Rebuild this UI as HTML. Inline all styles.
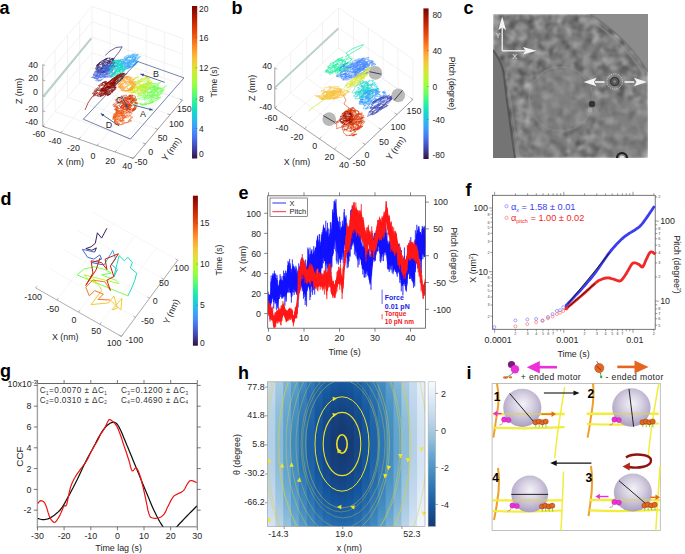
<!DOCTYPE html>
<html><head><meta charset="utf-8"><style>
html,body{margin:0;padding:0;background:#fff;}
svg{display:block;font-family:"Liberation Sans",sans-serif;}
</style></head><body>
<svg width="685" height="554" viewBox="0 0 685 554" fill="#262626">
<text x="-0.5" y="13.8" font-size="18" font-weight="bold" fill="#000">a</text>
<path d="M60.9 132.7L110.1 74.4M110.1 74.4L110.1 12.7M79 139.1L128.2 80.8M128.2 80.8L128.2 19.1M97 145.6L146.2 87.3M146.2 87.3L146.2 25.6M115.1 152L164.3 93.7M164.3 93.7L164.3 32M133.2 158.4L182.4 100.1M182.4 100.1L182.4 38.4M55.1 111.7L145.5 143.8M55.1 111.7L55.1 50M67.4 97.2L157.8 129.2M67.4 97.2L67.4 35.5M79.7 82.6L170.1 114.7M79.7 82.6L79.7 20.9M92 68L182.4 100.1M92 68L92 6.3M42.8 126.3L92 68M92 68L182.4 100.1M42.8 110.9L92 52.6M92 52.6L182.4 84.7M42.8 95.4L92 37.1M92 37.1L182.4 69.2M42.8 80L92 21.7M92 21.7L182.4 53.8M42.8 64.6L92 6.3M92 6.3L182.4 38.4" stroke="#e4e4e4" stroke-width="0.5" fill="none"/>
<line x1="42.8" y1="126.3" x2="42.8" y2="64.6" stroke="#666" stroke-width="0.6"/>
<line x1="42.8" y1="126.3" x2="45.3" y2="127.2" stroke="#666" stroke-width="0.5"/>
<line x1="42.8" y1="110.9" x2="45.3" y2="111.8" stroke="#666" stroke-width="0.5"/>
<line x1="42.8" y1="95.4" x2="45.3" y2="96.3" stroke="#666" stroke-width="0.5"/>
<line x1="42.8" y1="80" x2="45.3" y2="80.9" stroke="#666" stroke-width="0.5"/>
<line x1="42.8" y1="64.6" x2="45.3" y2="65.5" stroke="#666" stroke-width="0.5"/>
<line x1="42.8" y1="126.3" x2="133.2" y2="158.4" stroke="#666" stroke-width="0.6"/>
<line x1="133.2" y1="158.4" x2="182.4" y2="100.1" stroke="#666" stroke-width="0.6"/>
<line x1="42.8" y1="126.3" x2="44.4" y2="124.4" stroke="#666" stroke-width="0.5"/>
<line x1="60.9" y1="132.7" x2="62.5" y2="130.8" stroke="#666" stroke-width="0.5"/>
<line x1="79" y1="139.1" x2="80.6" y2="137.2" stroke="#666" stroke-width="0.5"/>
<line x1="97" y1="145.6" x2="98.6" y2="143.7" stroke="#666" stroke-width="0.5"/>
<line x1="115.1" y1="152" x2="116.7" y2="150.1" stroke="#666" stroke-width="0.5"/>
<line x1="133.2" y1="158.4" x2="134.8" y2="156.5" stroke="#666" stroke-width="0.5"/>
<line x1="133.2" y1="158.4" x2="130.6" y2="157.5" stroke="#666" stroke-width="0.5"/>
<line x1="145.5" y1="143.8" x2="142.9" y2="142.9" stroke="#666" stroke-width="0.5"/>
<line x1="157.8" y1="129.2" x2="155.2" y2="128.3" stroke="#666" stroke-width="0.5"/>
<line x1="170.1" y1="114.7" x2="167.5" y2="113.8" stroke="#666" stroke-width="0.5"/>
<line x1="182.4" y1="100.1" x2="179.8" y2="99.2" stroke="#666" stroke-width="0.5"/>
<text x="38" y="67.6" font-size="8.9" text-anchor="end">40</text>
<text x="38" y="80.7" font-size="8.9" text-anchor="end">20</text>
<text x="38" y="94.6" font-size="8.9" text-anchor="end">0</text>
<text x="38" y="111.9" font-size="8.9" text-anchor="end">-20</text>
<text x="38" y="124.6" font-size="8.9" text-anchor="end">-40</text>
<text x="18.8" y="94.2" font-size="8.9" text-anchor="middle" transform="rotate(-90 18.8 91)">Z (nm)</text>
<text x="38.8" y="137.3" font-size="8.9" text-anchor="middle">-60</text>
<text x="54.9" y="144" font-size="8.9" text-anchor="middle">-40</text>
<text x="73.4" y="151.2" font-size="8.9" text-anchor="middle">-20</text>
<text x="93" y="159" font-size="8.9" text-anchor="middle">0</text>
<text x="110.3" y="164.2" font-size="8.9" text-anchor="middle">20</text>
<text x="127.2" y="169.1" font-size="8.9" text-anchor="middle">40</text>
<text x="70.6" y="164.9" font-size="8.9" text-anchor="middle">X (nm)</text>
<text x="140.9" y="164.7" font-size="8.9" text-anchor="middle">-50</text>
<text x="150.6" y="155.2" font-size="8.9" text-anchor="middle">0</text>
<text x="162.6" y="140.6" font-size="8.9" text-anchor="middle">50</text>
<text x="176.3" y="126.7" font-size="8.9" text-anchor="middle">100</text>
<text x="184.3" y="112" font-size="8.9" text-anchor="middle">150</text>
<text x="171.3" y="152.4" font-size="8.9" text-anchor="middle" transform="rotate(-55 171.3 149.2)">Y (nm)</text>
<path d="M43.2,95.8 L90.6,38.2 L91.6,39 L43.9,97.2 Z" fill="#c3d7d4" stroke="#9cbcb7" stroke-width="0.55"/>
<polyline points="105.2,55.4 110,51 116,47.5 122.2,46.8 119,52 115,57 112.5,61.1" fill="none" stroke="#38276d" stroke-width="0.7"/>
<polyline points="105.9,68.1 106.8,69 102.8,71.7 101.5,71.1 97.7,71.7 102.4,67.6 105.4,65.4 105,65.7 107,64.6 112.3,62.4 114.3,61.3 113,62.4 114,63.6 112.5,66.1 109.5,68.7 109,69.8 106.1,70.9 101.7,72.3 102.1,70.3 99.9,69.5 103.1,66 101.9,64.9 105.4,61.9 105.1,62.6 110.3,61.9 108.8,63.1 113.7,62 110.2,65.2 108.7,67 110.8,67.4 105.4,68.4 106,66.5 101.3,69.3 101.8,67.8 100,67 97.9,67.1 97.9,66.8 98.4,67.4 95.6,70 97.5,69.8 96.6,71.6 100.6,71.3 100.8,71.9 105.5,70.3 108.3,68.7 104.7,71.8 107,71.1 103,73 104.5,72 102,71.8 98,72.4 98.8,70.5 96.5,69.9 98.6,67.2 96.1,67.1 99.4,64.2 96.3,65.7 100.1,63.3 100.7,62.2 101.3,61.3 105.7,59 105.6,59.3 110.1,57.7 109,59 110.5,59.1 113.6,58.6 112.1,60 114.1,59.1 110.6,59.2 113.1,58.1 110.6,59.6 114.2,58.8 112.3,60.8 115.9,60.3 112.2,63.1 115.7,62.6 111.7,65.5 110.6,67 109.4,68.4 109.1,69 105.1,70.8 106.2,71.2 102.9,72.9 105.6,71.7 104,72.5 104.2,72.1 100.1,72.7 100.9,70.5 101.4,68.2 106.2,64.7 107.5,62.8 107.1,62.1 111.5,60.9 113.5,60.7 112.7,62.1 110.5,64.7 112.5,65.4 109,68.1 106.9,69.9 107.7,70.1 102.5,71.9 102.2,71.6 98.6,73.2 99.9,71.5 97,71.2 101.7,67.6 102.4,66.1 103.8,65.8 107.7,65.5 105.8,68.2 110,66.1 111,66 113.4,64.7 113.2,65.6 112.1,67.3 106.6,69.1 106.3,69.5 102.5,72.3 104.3,70.6 100.2,70.8 104,66.8 103.2,65.6 103.1,64 105.1,61.7 102.7,61.3 105,59.6 106.9,58.5 107.5,58.3 104.1,59.7 103.7,60.3 104.7,59.6 106.5,58.6 105.7,60 107.5,58.3 105.6,59.8 101.8,61 99,62.8 99.9,63.1 96.8,64.9 99.7,63.4 96.7,65.6 99.1,64.5 96.3,67 95.4,68.6 97.7,68.6 98.6,70.2 98.1,71.8 102.1,71 102.8,71 108.2,68.3 107.7,67.7 111.5,63.6 108,63.9 110.7,61 107.5,62.3 102.9,65.7 103.4,66.8 100.4,69.4 106,67.8 107,68.4 108.9,68.9 108.2,69 112.8,66.1 112.5,64.2 111.7,63.9 115.3,62.2 113.2,63.4 114,61.2 109.5,61.5 109.1,60.9 104,64.1 102.3,63.9 103.5,63 100.9,63 101,62.1 98.7,63.4 99.3,64.8 96.8,68.2 101,67.8 106.3,65.1 108.1,63.7 107.1,63.2 110,60.3 105.4,60.9 101.8,62.4 102.5,63.2 97.8,66.1 100.5,66.9 98,69.5 100.1,69.8 99.7,71.2 98.8,72.4 104.7,70.5 102,72.5 104.3,72.1 102.6,73.1 105.3,71.7 99.5,73.6 102.7,69 103.9,68.5 108.5,67 110.6,66.1 109.7,66.1 111.5,64.9 114,64.6 110.9,66.9 112.4,67 110,68.6 111.5,67.8 109,69.3 109.6,69.6 104.4,70.8 105.9,68.4 101.2,68.5 104.7,64.8 100.3,64.9 104.5,61.5 105.3,61.4 110.4,59.6 110.8,61.5 105,66.1" fill="none" stroke="#38276d" stroke-width="0.55" stroke-linejoin="round"/>
<polyline points="105.5,71.4 110.5,68.9 109.5,68.7 113.6,67 108.4,67.7 106.7,67.8 106.2,67.2 100.4,69.9 101.2,70.4 97.3,73 98.4,73.9 95.6,76.4 101.8,75.3 102,75 107.6,72.9 106.2,71.9 105.4,70.8 109.1,69.1 104.3,69.9 108.7,67.2 106.2,67.3 109.3,65.6 104.8,66.9 101.4,67.5 104.6,66.3 100.5,68 101,68.3 95.5,71.5 94,73.5 93.3,75.3 97.4,75.4 98.4,76 101.1,76.9 100.6,78.2 107.3,74.2 105.3,73.4 107.5,70.8 104.2,71 106.5,69.6 109.5,67.5 107.9,67 111.2,64.9 106.6,66 106.3,67 102.3,70.5 100.6,72.7 100.9,74 98.8,76.1 99.7,75.7 98.1,78.1 104.2,76.4 105.9,77 104.4,77.4 110.2,74.7 109.1,73.3 112.8,70.4 109.9,69.8 112.2,68 111.3,67.4 108.2,67.7 106.7,67.7 102.4,71.5 104.9,72.6 106.2,73.4 108,74.1 106.5,75.3 111.6,72.4 110,71.1 113,68.6 108.3,69.3 108.6,67.8 104.5,68.3 105,68.6 100.5,69.7 101.1,70.7 96.2,72.8 97.2,74 95.7,76.5 99.1,76.9 105.9,74.1 106,73.7 109.6,70.9 109.2,69.6 106,69.5 101.9,70.9 102.1,71.8 96.8,73.4 99.1,72.9 97.4,74.1 96,75.1 91.4,77.5 94.4,77.6 95.4,78.4 97.4,78.5 97.4,79.8 100.2,80.1 103,78.9 103.3,77.8 105.7,76.6 106.5,77.4 112,76.6 109.6,77.2 111.6,74.7 115,72.7 112.7,74.5 116,72.3 113.9,72.3 117.2,70.7 115.5,70.7 117.5,69 113.6,68.5 117,66.1 111.2,67.5 111.4,66.3 108.3,66.3 110.2,64.8 106.7,65.8 105.2,66.1 101.9,67.4 103,67 102.6,67.1 107.1,65.8 106.9,65.8 110,64.9 110.9,65.5 114.6,65.1 113.3,66.5 114.4,67.6 108.5,70.8 104.6,72.2 107,70.2 101.6,70.9 102.5,69.7 96.9,72.5 97.5,72.4 97.7,71.5 95,71.8 94.3,72.1 96.8,71.7 93.7,74.7 98.9,74.7 101.7,74.6 104.5,74.4 103.8,75.6 107.3,74.3 108.5,73.7 108.8,72.3 113.4,69.6 110.7,69.3 111.6,68.5 114.4,66.1 112.7,66.8 116.9,65.6 112.9,66 113.5,65 106.7,67.1 107.8,65.9 108,65.4 107,65.9 111.3,66.1 111,66.3 114.8,65.7 116.8,65.9 114,66.6 111.3,66.2 107.4,67.4 106,68.7 101.8,71.6 103,71.8 98.9,74.5 102.7,74.8 102.2,75.8 103.2,77 107.8,76.1 107.6,76.5 112.8,74.8 115.5,73.6 111.7,72.6 112.8,70.5 105.3,72.6 102.6,73.2 102.7,73.4 96.9,76.6 98.2,76.4 93.1,77.6 97.3,77.6 96.9,78.3 99.9,77.5 100.8,77.3 105.9,74.5 109.2,72.5 108.6,71.5 109.3,69.8 104.1,70.7 103.6,70.6 98.8,72.4 101,73.3 101.5,73.5 107.3,71.9 107.1,71.3 110.9,69.2 107.6,69.2 111.4,66.6 107.5,66.8 109.8,65 104.4,66.6 101.6,67.4 101,68.1 96.2,71.5 96.7,72.5 93.2,75.1 98,75 94.9,77.1 94.3,78.6 98.4,78.4 95.7,80.2 96.3,81.1 99.2,80.3 98.2,81 101.6,80.1 99.7,81.1" fill="none" stroke="#4666dd" stroke-width="0.55" stroke-linejoin="round"/>
<polyline points="129.4,56.5 133.3,54.4 131.8,55.2 137.2,54.8 137.2,56.3 133.7,59.6 136.3,60.1 129.5,63.2 129.4,62.4 123.9,63 125.2,62.4 121.6,64.7 122.3,64.6 119.4,64.4 122.5,61.6 119.6,61 124.4,58.8 124.4,58.3 126.1,58.9 128.1,57.3 134.1,55.2 132.4,57.5 132.3,58.9 129.2,61.4 131.7,62.1 129,64.1 126,66.4 125.8,65.6 121.5,66.5 119.8,65.9 124.8,62.8 124,61.5 124.7,60.2 122.2,60.1 122.3,59.1 122.4,59.1 116.9,61.3 116.7,62.2 116.2,63.1 118.4,63.6 117,65.7 118,66.3 115,66.6 119,63.7 116.5,63.6 119.2,61.6 116.9,61.7 117.6,61 120.7,59.5 119.4,60.6 115.1,63.4 121.2,63 122.5,64.1 123.2,65 127.6,62.6 126.8,64.4 128.4,65.5 128.8,65.5 130.5,65.2 135.6,63.2 137.3,62.2 135.2,61.4 138.4,58.7 136.7,58.8 140.6,56.7 135,57.6 133.1,58.5 129,61.5 129.6,62.1 124.2,65 129.1,64.4 127.3,66.4 132.5,64.8 131.2,64.6 133.6,62 131.8,61 135,58.5 136,58.5 134.8,60.4 132.9,60.8 127.4,63.5 126.5,62.9 120.6,65.1 124.7,62.2 120.8,62.8 123.3,60.5 122.8,60.1 127,57.7 129.2,56.8 129.3,57.1 134.8,56.4 135.5,58 133,60.7 133.7,62 138.7,61.3 135.2,63.6 136.4,64.1 132.9,66.3 130.1,67.8 129.7,66.7 125.5,66.4 129.2,63.1 127.5,62 132.3,59.9 130.7,62.2 134.7,61.1 133.5,62.3 137.3,61.7 133.4,64.6 135.5,64.6 131.7,66.8 131.4,66.5 129.1,67.5 123.4,69.9 125.8,67.1 123.9,65.9 125.4,63.8 125.6,62.8 128.6,61.2 129.9,60.6 134.7,58.8 133.2,60.8 137.5,60.2 135.3,62.2 137.6,62.6 132.6,65.5 133.9,66 128.1,67.6 129.6,67.7 124.2,69.9 125,69.5 122.5,69.1 122.6,67 122,65.4 119.8,64.8 121.3,63 122.7,61.7 128.1,60 131.3,60.5 127.3,63.4 130.6,63.2 129.5,64.3 128.6,65.9 126.5,67.5 130.9,66.8 129,68 128.7,68.1 125.6,68.9 123.1,69.8 119.5,70.6 121.3,68.6 121.2,66.3 123,64 123.6,62.4 124.7,62.4 127.9,60.3 124.8,60 126.8,58.6 128.9,57.6 133.3,57 131.8,58.4 133.3,59.4 134.9,60.1 130,63.4 131.4,63.8 127.1,66.6 130.6,66.4 125,67 126,66.8 120.5,67.7 121.9,66.1 119.5,65.6 124.6,62.3 123,61.4 127.4,58.9 125.8,58.5 128.9,56.7 123.8,57.6 125.8,56.3 129.3,54.9 129.1,56 132.5,54.2 135.3,53.8 133.1,56.5 135.8,57.8 135.8,59 133.2,61.4 133.3,62.3 129.5,64.9 125.3,66.1 125.2,66.7 120.4,67.7 123,65 120.9,64.7 123.7,61.8 120.8,61.8 120.3,61.1 121.5,61.1 116.4,64.4 119.5,64.5 116.4,67.2 120.1,67.4 117.6,69.3 119.7,69.3 120.3,69.9 123.9,68.1 129.7,66.1 127.7,64.5 128.9,62.8 128,61.6 129.5,59.5 124.9,59.8 128.4,57.4 131.1,57 129.7,58 133,57.5 137.8,55.5 138.4,54.5 135.1,55.4 135.4,55.5 137.6,54.4" fill="none" stroke="#37a8fa" stroke-width="0.55" stroke-linejoin="round"/>
<polyline points="118.7,68.1 119.9,67.6 116.8,66.3 121.9,63.1 122.7,64.9 121.4,67.7 123.1,70.6 121.4,73.8 122.6,75.5 120,78.5 121.3,79.1 118.5,81.1 120.2,81 117.5,81.9 118.9,80.9 115.4,81.8 116.3,80 115.8,77.6 114.3,74.9 110.8,73.2 109.8,72.6 111.9,69.9 109.2,68.2 112.1,68.1 109.2,72.1 113.4,72.7 110.3,75.7 113.3,73.9 113.1,75.8 111.5,76.1 113.2,75.1 110.9,76.8 112.7,79.2 118.2,77.7 115.9,77.5 117.3,75.6 121.6,73.2 117.8,71.1 120.3,67.7 117.2,65.7 121.4,64.6 120.5,66.4 123.8,68.5 124.3,71.1 118.4,71.7 118.7,70.1 115.3,68.7 115.7,66.2 120.8,64.6 119,65.9 120.5,65.6 123.4,63.8 120.5,66 124.5,66.3 125.1,69 122.1,72.6 123.6,74.1 118.8,73.5 119.6,71.8 115.2,71.5 116,69.1 111.6,68.9 113,66.5 111.4,65 113.4,62.4 113.8,63.7 115.2,64.9 117.9,67.3 115.4,71.5 118.5,73.6 116.3,76.7 118.7,78.1 114.7,79.3 115.5,77.9 114.5,77.4 111.2,76.3 112.8,73.3 113,72.5 109.7,72.7 113,68.4 111.8,67.8 109.3,67.4 112.6,64.6 111.3,64.3 116.3,65.3 118.8,67 115.7,71.1 114.9,73.7 118.1,74.2 113.8,76.1 111.9,76.7 114.3,73.2 115.1,69.9 113.4,69.5 114.7,70.5 119.9,69.4 118.7,72.1 121.3,69.3 118.2,67.9 120.1,64.7 117.7,62.9 115.3,62.2 118.5,59.7 114.1,61.5 116.4,60 115.3,60.7 119.2,60.1 117.1,61.6 121.8,61.6 120.2,64.6 122.4,68 118.5,71.5 121.4,72.8 121.5,74.6 118.3,77.6 119.8,78.2 119.6,75 115,72.7 117.5,69.4 117.2,66.9 117,64.9 115.6,63.6 113.2,62.7 116.1,60.1 116.3,60 114.5,60.9 112.5,61.6 112.8,61.5 115.6,60.4 112.3,62.1 115.2,60.4 118.6,61.6 115.8,62.6 116.6,61.3 120.8,60.6 118.2,63.2 123.2,63.7 119.7,68.3 122.9,70.3 118.1,71.4 118.4,69.7 117.5,68.2 115.4,67.9 113,66.8 116.5,63.4 115.1,62.9 118.2,61 119.5,61.6 118.1,64 121.7,64.5 119.9,64.3 123.4,65.3 120.6,67 124.8,69 124.4,71 122.2,71.7 123.2,73.6 120.8,76.7 123.5,77.6 120.1,80.5 118.1,81.3 116.6,77.9 118.6,73.6 116.6,72 120.7,69.7 118.8,68.8 123,68.3 124.1,69.9 121.9,72.5 124.8,74.6 122.2,77.1 124.4,77.8 121.2,80 122.2,79.6 117.1,80.6 117.8,75.9 113.7,74.4 117.2,69.9" fill="none" stroke="#18dec0" stroke-width="0.55" stroke-linejoin="round"/>
<polyline points="141.1,91.4 141.3,90.7 144.8,88.4 144,87.8 147.5,86.1 142,86.9 143.4,86.2 138.8,87.1 141,86.3 141.5,85.8 147.1,84.3 145.7,83.8 148.6,82.6 143.3,84.4 141.6,85.8 142.4,88.5 141.8,91.2 146.3,92.2 148.4,93.1 149.6,92.9 153.8,90.9 154.8,89.9 159.4,87.7 157.2,87.3 159.2,84.7 156.9,84.6 160.8,82.3 155.1,83.9 155.6,82.9 153.6,83.6 148.1,85.3 145.8,86.3 146.4,85.4 141.6,89.4 143.4,91.3 138.4,94.3 141.1,95.9 137.9,98.3 138.4,98.7 133.7,100.6 136.9,99.4 135.1,99.1 131.3,101 134.8,99.8 134.1,99.3 131.9,99.8 134.2,99.5 131.5,99.9 130.6,99.9 133.6,100 131.7,101.8 133.9,102.6 136.9,102.2 134.3,104.3 138.6,103.5 136.6,104.4 141.4,103.3 140.6,104.6 146.4,103.1 146.1,102.5 147.8,100.9 153.6,96.9 151.2,96.7 147.4,96.9 142.4,98.1 143.6,96.7 138.7,98.9 141.1,99 141.8,99.9 149,98.4 150.2,97.1 153.5,95.7 152.3,93.9 157.1,91.2 153.9,90.2 155.5,88.8 157.9,86.7 157.9,84.7 152.8,85.3 154.4,83.5 149.4,83.9 150.5,83.4 146.8,83.3 149.2,82.5 145.4,83.4 146.9,83.2 142.6,84.7 144.7,86 142,89.7 147.2,90.9 144.2,94.2 145,95.8 152.2,95.1 152.1,94.8 154.9,94.4 154,92.4 157.8,89.6 153.3,88.8 154.6,86.5 153,86.5 156.6,85.1 155.1,87.4 155.8,89.4 155.3,92.6 154.8,93.8 149.2,95.6 150.6,93.2 151.1,92.8 155,90.5 154.5,89.1 158.6,88.5 158.4,89.2 162.5,88.5 162.9,89.9 160,91.7 162.2,91.7 159,94.4 159.7,95.1 152.9,97.8 155.6,98.3 154.3,99 160.4,97.6 158.3,98.7 158.3,99.5 153.7,101.1 152,101.8 157,100.6 156.9,98.7 158.1,96.7 161.9,93.2 157.3,92.8 162.3,89.7 160.2,88.4 162.7,87.9 165.8,86.3 166.6,85.5 164.6,86.8 164.2,88.8 163,91.1 161.7,91.8 163.4,91.5 162.5,91.4 163.4,88.9 158.7,88.3 158.9,87.9 152.9,87.6 154.7,86.3 148.8,88.8 146.6,91.8 149.8,93.3 153.3,92.4 152,91.9 152.8,89.4 155.6,86.5 149.2,88.5 150.3,87.9 148.8,87.3 144.4,87.8 146.7,87.5 143.6,87.8 142,87.4 141.9,87.6 143.4,86.7 142.4,86.4 149.7,85.2 150.5,85.6 155.7,85.5 153.6,87.4 159.1,87.6 154.3,90.5 155.5,92.3 150.9,95.3 152.1,96 146.3,98 143.7,98.1 143.7,96.5 143.3,93.6 144.2,91.9 143.9,90.6 149,89 152.9,86.8 155.3,87.2 155.4,88.2 159,88.4 156.2,91.8 158.2,92.9 154,95.2 154.5,95.5 149.3,95.1 148,93.5 151.6,91 150.4,89.7 155.6,88.4 154.9,90.3 160.1,88.5 157.6,89.7 161.3,90.6 158.5,92.9 155.3,95.2 153.3,95.5 149.4,95.3 146.6,95.8 147.7,93.8 146.7,92.1 153.2,91.3 151,93 153.9,93.9 150.1,96.8 154.7,97.3 150.7,99.7 153.1,99.9 151.5,101.4 151.6,102.6 148.2,103.9 149,103.7 144.3,104.6 146.8,104.2 141.8,105.1 144.5,104.4 143.2,104.5 139.8,104 142.6,104.4 141.9,105.1 146.7,104.3 150.4,101.3 151.7,99.2 150.7,97.3 155.2,94.6 153.2,92.9 155.3,89.6 153.2,89 148.8,89.7 148.3,89.5 143.6,92.9 145.3,93.7 145.4,95.7 144.2,97.3 147.6,97 148.9,97 152,96.2 158.1,94.9 156.4,95.7 162.4,93.4 161.1,92.4 163,90.3 160.2,89.8 160.6,87.7 153.2,89.1 152.6,91.2 147.7,92.6 148,93.8 145.1,97.1 144.7,98.5 146.7,99.4 146.6,99.1 151.3,97.7 151.4,97.1 159,94.2 155.7,97.1 158.7,96.7 156,98.4 160.6,97 155.3,99 155.2,99.3 149.5,101.2 151.2,101.5 149.8,102.9 153.9,101.6 151,102.3 153.6,102.3 149.4,103.6 150.1,103 151.9,102.8 146.7,103.7 144.7,103.9 145.5,101.9 144,98.7 145.7,97.2 150.1,93.8 149.9,92.9 151.3,90.7 154.8,88.1 154.7,86.5 150,87.3 151.7,85.8 149.4,87.1 143.9,89.7 145.9,90.7 144.8,93.2 146,94.6 141.8,96.1 141.8,95.2 137.1,96.4 139.9,94 141.8,92.7 146.4,90.8 148.3,89.3 152.7,86.9 151.4,87.3 157.9,86.4 157.9,88.6 155.6,90.9 159.4,92.1 156.7,93.9 157.1,94.8 156.7,95.8" fill="none" stroke="#79fe59" stroke-width="0.55" stroke-linejoin="round"/>
<polyline points="142.4,89.9 139.5,91.3 141.4,92.1 137.7,94.1 140.1,93.5 137.4,92.4 137.1,90.8 133.9,89.4 136.9,87.1 138.1,85.8 139.7,86 144.5,85.7 146.6,85.7 147.9,84.5 148.6,83.4 149.6,84.1 148,84.4 151.8,83.2 146.9,82.1 148.2,81.7 152.7,82.1 149.2,83.1 149.2,84.2 151.4,85.3 144.5,88.1 146.1,88.8 139.8,90 139.6,88.6 137,89 135.4,88.2 131.9,88 133.8,86.5 131.2,85.5 135.2,83 136.5,81.2 136.6,81.8 142.3,81.4 141.2,81.8 144.8,79.8 145.9,78.2 147.3,77.3 145.9,78 148.2,76.7 144.6,77 148.4,76.4 145.9,77.7 148.3,76.7 145.3,77.5 147.6,77 146.8,78.6 148.5,80.6 148.9,82.1 147.7,84.4 144.4,86.9 145.1,87.3 137.6,89.2 141.7,89.7 137.4,92.3 138.3,93.4 136,94.3 136,93.3 132.7,91.9 134,90.4 130.9,89.2 132.5,88 129,89.4 130.2,90.7 134.3,91.3 140.7,88.9 137.4,87.8 142,84.8 138.7,83.9 139.6,82.2 135.6,81.9 135.1,82 131.2,82.8 133,83 132.8,84.2 131.9,86.2 129.5,88.5 130.6,89.6 132.7,90.4 135,91.5 131.7,92.9 133.2,92.8 127.9,92.4 129.9,90 130.3,88.5 136.3,86 135.5,84.4 136.6,82.4 141.3,80.2 140.4,80 144.7,79.5 144.6,80 148.4,80.5 146.9,81.6 150.9,80.6 148.9,79.6 149,78.6 143.6,79.2 140.3,80.7 140,82.1 135.5,85.3 137.9,87.1 141.9,87.7 141.8,89.5 140.5,91.1 145.6,90.3 143.3,92 144.4,92.5 141.5,94.2 145.8,92.7 145,90.7 149,87.8 146.4,86.4 143.1,86.3 142.6,86.5 139.1,86.7 135.4,87.1 136.5,86.8 133.7,89.6 135,90.6 137.7,91.2 138.8,92.4 137.9,93.7 139.5,93.7 142,94.2 141,94.5 143.6,92.7 147.8,91.4 145.6,90.3 147.5,87.1 144.2,85.3 143.3,84.5 139,86 138.5,85.9 133.6,87.8 134.6,87.3 130.6,89.3 131.8,89.6 129.9,92.1 133.4,91.9 136.5,92 138.8,89.8 137.4,88.1 141.1,84.8 138.4,84.1 137.6,82.8 140.7,80.7 137.6,80.5 142.8,78.7 140.8,78.8 143.3,78.4 147.5,77 146.9,78.2 149.7,78 147.9,80.8 149.5,82.5 146.2,84.8 145.3,84.8 139.3,87.4 141.4,87.5 136,90.1 137.9,90.3 133.3,92.2 135.8,92.4 131.1,93.1 134.5,89.8 130.2,89 130.2,87.4 133.2,84.6 130.8,83.7 131,83.5 128.4,84.9 130.3,85 127.4,84.6 128.7,82.7 132.2,81.2 129.5,81.6 134.9,79.5 133,78.9 137.8,77.3 136.6,77.4 139,76.8 134.6,78 135.9,78 131.5,80.2 131.1,83 136,84.2 132.9,87.3 138,87.6 137.5,88.8 140.4,87.8 144.8,85.2 142.7,84.1 145.4,81.2 138.8,82.9 138.9,82.9 134,84.2 132.6,85.7 133.6,85.9 129.3,88.1 132.9,88.7 135.3,88.2 140.1,88.3 140.3,89.6 140.2,90.7 141,90.4 147.5,87.4 147.7,88.4 145.6,89.4 150,87.8 148,86.7 149.8,84.5 147.4,83.9 151.8,81.9 149.9,82.8 151.9,83.3 151.2,85.3 148.1,87.6" fill="none" stroke="#cbed34" stroke-width="0.55" stroke-linejoin="round"/>
<polyline points="125.7,82.9 129.7,80.3 126.8,79.1 128.9,76.9 124.9,77.4 129.6,76.7 129.5,77.8 132.3,80.1 129.9,83.4 131.1,84.1 126.6,86.7 123.7,86.8 122.2,86.7 123.4,84.3 122,82.8 124.8,80.3 121.8,80.1 123.8,78.4 126.6,76.9 124.7,77.5 128.2,76.5 124,77.6 127.8,76.6 126,77.3 130.9,77 129,80.1 132.5,82 130.9,84.6 131.7,85.9 130.9,87.7 127.8,90.2 131,90.1 129,90.6 128.9,90.7 131.3,90 132.9,88.7 131.1,87 132,86.3 136.4,84.6 133.3,84 135.8,81.7 129.6,81.5 129.8,82 125.3,84.4 128.3,85.7 123.8,88 125.3,88.4 121,90.2 125.8,90.5 125.1,91.4 129.5,90.6 131.7,89.6 129.6,88.5 132.1,85.6 130.4,83.3 125.8,83.1 124.1,82 127.3,79.2 126.2,78.3 128.8,76.6 125.8,77.5 127.3,77.2 123.3,80 125.7,81.7 121.8,84.5 122.9,86.2 123.3,88 127.7,87.8 127.3,89.2 130.1,88.3 134.5,86.9 132.6,86.4 132.8,83.8 129.5,82.4 131.2,79.9 126.4,79.4 127.7,77.1 123,79.9 123.9,80.6 119.6,82.8 118.5,84 121.4,84.3 118.4,87 122.3,87.4 118.4,87.4 121.2,85.2 119.4,83.3 121.3,81.1 119.4,80.4 123.6,78.1 121.8,78.6 123.1,78.4 120.5,79.6 119.6,80.2 122.6,80.2 122.1,80.9 118.2,84.8 121.2,84.8 119,86.6 122,86.3 120,88.8 124.5,88.7 123,90.8 128.4,90.6 128.8,90.7 127.8,91 133,89.1 130.2,89.9 132.7,89.2 129.5,90.2 129.5,90.4 129.7,90.3 124.9,91 125.6,90.7 122.2,90.9 123.9,89.4 121,90.2 123.4,87.3 120.6,85.8 121.8,83.6 118.1,83.9 117.8,85.8 122,86.8 119.8,88.3 122.2,88.2 119.4,87.9 118.7,86.5 123.8,83.6 125.8,82.1 124.7,81.7 130.5,81.2 128.8,82.4 133.9,82.6 132.6,83.7 135.3,84 135.1,85.6 132.7,86.8 134.2,87.5 131.1,89.1 131.4,88.6 126.2,90.7 130.9,90.2 129.1,90.6 130.7,89.4 130.8,88.8 134.5,86.4 135.5,84.4 132.9,84 132.5,82.1 134,79.3 128.6,78.7 132.3,77.4 129.5,78.6" fill="none" stroke="#fea431" stroke-width="0.55" stroke-linejoin="round"/>
<polyline points="122.3,105.5 124.9,106.6 125.9,108.2 129.7,107.9 128.1,106.9 130.2,105 132.3,106 128.4,108.8 131.7,108.7 126.9,110.4 127.6,107.9 125.4,106 128.6,104.3 127.9,105.8 130.1,106.6 128.5,108.3 129.2,109.2 125.7,110.9 126.6,110.3 122.7,109.2 124.4,105.7 122.7,104.1 123.8,101.8 125,101.4 128.9,98.6 127.1,98.5 132.5,100.2 129.7,103.4 128.7,106.7 130.7,107.4 126.2,110 128.5,108.4 123.8,109.1 120.4,107.4 122.9,104.3 121.9,102.3 124.3,100.7 120.9,99.8 121.2,97.9 123.9,96.4 125.7,98.1 126.1,100.2 128.7,102.1 125.6,105.2 128.5,106.7 127.1,109 126.8,109.2 121.7,108.7 124,107.6 119.4,106.4 119.6,104.9 116.3,106.6 117.8,107 114.2,109.5 118.3,109 116.1,110.7 118.6,110.4 115.2,110.4 118.4,107.6 114.6,107.1 116.5,104.9 112.7,104.9 117.4,101.6 114.9,100.1 119.3,98.6 119,97.7 123.9,95.4 126.8,95.1 125.1,97.9 128.5,100.1 126.3,103.3 129.5,104.2 124.1,105.4 124.4,104.6 123.8,103.6 118.5,103.6 116.6,103 120,100.4 119.3,99.2 125.3,97.4 124.3,98.1 128.8,98.2 130.6,98.4 129.5,99.1 132.8,98.4 134.5,100.6 132.7,102 136,102.7 134.6,103.3 137.7,102.7 135.4,104 137.2,103.5 135.2,102.7 136.3,99.9 130.5,99.7 131,98.6 126.2,97.7 130.4,95.9 128.5,97.5 131.1,95.2 128.8,95.4 132.9,95.1 129.9,97.6 129.6,99.9 131.1,101.7 132.9,102.7 128.4,105.6 126.1,105.6 124.7,102.9 124.8,100.8 129.9,99.1 129.1,98.6 132.8,97.8 132.4,101 129.8,103.5 128.4,102.1 124.8,103.8 123.7,106.6 128.2,107.3 126.4,107.9 127.2,108.4 132.2,105.3 129.7,104.6 128.3,101.9 127.7,101.4 125.5,102.4 123.1,104.6 124.6,106.4 122.5,108.8 125,109.8 125.4,109.2 126.5,105.8 122.9,103.8 124.4,104.4 120.7,106.9 122.1,107.4 118.5,109.2 118.8,108.6 115.6,109.4 117.5,106.9 113.4,106.3 118.8,102.5 121.3,100.9 121.1,100.1 125.7,99.5 124.3,101.9 127.3,103.6 125.8,104.6 130.5,105.1 126.2,107 128,107.9 126.5,109.9 130.8,109.7 129,109.9 133.3,108.4 135.7,107.8 132.6,109.5 135.6,108.9 136.5,107.9 134.1,107.4 134.7,106.1 137.2,106 136.7,106.9 134.4,109.2 128.4,111.7 130.8,112 129,113.2 132.9,111.3 134.2,110.2 132.5,110.4 132.5,109.8 136,108.9 132.6,109.8 134,110.4 134.4,110.5 131.8,111 135.3,109.5 133.2,109.2 135.4,105.8 132.4,103.5 131.1,101.6 126.2,101 126.4,101.9 122.5,102.9 123.6,103.7 121.3,107.1 126.1,106.6 126,106.7 131,105.5 127.7,104.4 132.1,101.2 129.8,99.7 131,97.3 129,96.8 133.1,95.6 130.9,98.2 134.9,98.7 132.9,100.9 136.6,100.4 135.7,98.1 131.3,97.3 129.7,96.1 126.9,98.3 126.6,99.3 122.2,101.7 124.4,103.2 123.4,104.8 120.2,107.4 126.4,106.6 124.7,106.9 130.4,105.1 131.8,103.3 130.3,102.8 134.7,100.8 132.4,100.5 133.3,99.5 135.8,97.3 135.1,95.9 130.1,96 130.3,95.1 124.4,98.2 125.7,98.5 120.1,101.4 122.8,101.6 120.3,104.3 122.2,105.8 119.9,108.2 121,109.9 123.2,110.4 119.1,111.5 122,112.5 119,113.8 121.3,112.3 119.6,113.4 123.9,113.2 126.6,113 125.7,113.5 130.5,110.2" fill="none" stroke="#d83706" stroke-width="0.55" stroke-linejoin="round"/>
<polyline points="120.3,116.6 118.2,116.7 120.1,115.5 115.2,116.9 117.6,114.5 113.7,115.5 113.1,115.2 115.8,114.4 114.3,114.5 117,113.1 115.6,112.6 118.9,111 118.6,111.1 124.1,111.5 122.7,114.6 125.4,117.1 122.4,120.2 123.5,120.7 118,120.1 116.9,118.3 118.3,117.6 114.9,117.5 117.6,114.6 116.5,113.7 121.8,112.8 120.6,115.4 126.3,116 121.8,119.5 124.3,120.4 121.1,121 116.5,122.8 119.9,123.6 116.6,124.6 115.2,124.1 117.9,121.4 114,121 116.7,119.4 113,119.1 115.4,117.6 115.3,116.8 113.1,116.3 114,115.1 117,113 118.5,113 123.9,112.9 121.2,116.1 124.7,117.2 126.5,117 125.7,116.1 129.8,114.7 129.6,116.3 131.6,117.7 128.4,120.7 130.6,120.7 129.2,122.1 124.7,122.8 124.9,122.1 120.5,121.3 120.1,118.4 119.9,116.2 122.8,114.1 120.9,113.3 124.4,111.2 123.7,111.6 128.4,113.1 126.5,115.1 128.9,116.8 122.1,118.5 123.1,116.1 119.2,115.3 115.8,115.7 118.9,112.5 116.5,111.9 118.3,111.7 116.2,111.8 116.9,111.2 122.4,110.6 120.3,113.8 122.5,115.8 124.1,117.1 122,118.1 116.8,119.5 117.9,119.2 119.1,116.6 114.7,116.4 115.8,115.6 113,117.6 116.1,118.9 115.6,119.5 113.1,117.6 117.7,114.8 119,114 119.5,114.9 125.1,115 124.9,117.6 121.3,120.5 120.5,121.8 123.3,122.8 122.4,124.2 120,124.6 117,124.8 116.3,124.7 118.1,123.2 114.8,122.9 116.2,121.3 114.4,121.6 115.7,120.7 115.4,120 114,120.6 116.9,121 114.4,123 115.7,124.2 119,124.1 116.3,124.5 120.4,124.7 123.6,124 122.9,123.9 128.3,122.2 128,121.3 131.7,121.1 129.5,119.7 132.8,117.3 130.1,115.7 132.2,113.1 127.8,112.2 128.6,111 123,112.1 123.5,111.7 117.9,113.1 119.1,113.1 117.4,114.3 115.5,117.6 117.1,119.8 121.7,120.8 119.6,119.7 122.4,116.8 125.1,114.4 120.9,113.4 123.6,111.2 123.7,109.7 118.6,110.7 119.6,111.1 115.7,112.6 117,112.9 116.4,114.2 117.1,113.6 117.6,111.9 118.9,111.2 115.6,111.9 118,112.1 113.5,114.1 115.9,114.4 113.8,117.3 115.8,118.2 112.7,117.1 115.9,115.8 113.2,117.5 115.1,116.9 112.2,119 116,119.5 113.8,122.3" fill="none" stroke="#f05b12" stroke-width="0.55" stroke-linejoin="round"/>
<polyline points="111.5,82.4 112.8,80.8 119,77.1 117.4,76.6 121.7,74.2 124.5,73.4 123.9,74 124,74.6 127,73.5 124.5,76 122.3,77.8 122.3,79.2 117.9,82.1 116,84.5 111.9,87.3 112.2,87.3 109.4,87.5 110.2,86 112.7,83.9 114.2,81.4 117.3,79 112.4,80.8 111.1,81.1 116.7,77.6 117.9,75.8 120.6,74 116.3,75.9 117.5,75.3 110.6,80 110.9,81.3 109.9,81.4 104.9,84.1 107,83.6 101.7,87.9 100.5,89.5 101.7,90.1 103.5,90 101.5,91.3 104,90.2 102,89.4 104.2,88.5 99.9,90.7 104.6,86.9 104.4,85.4 110.3,81.2 111.7,79.3 115.1,77.6 120.3,74.9 121,73.9 124.4,73.1 124.2,73.6 122.3,76.2 120.2,78.3 122.9,78 122.1,78.1 124.4,76.3 123.7,75.4 122.6,76.2 118.7,77.4 121.7,75.2 117.3,77.4 118,77.1 113,80.3 115.5,80.3 112.1,83.4 114.8,82.8 110.9,85.7 113.9,84.8 109.7,87.6 109.2,88.2 104.9,90.9 106.6,89.3 105.6,88.2 110.4,85.2 112.4,82.7 117.1,78.7 119.2,78.6 117.5,80.5 114,83.1 116.1,82.1 114.5,82.7 109,84.9 109.9,83.8 111.2,82.7 106.7,85.1 109.1,83 109,82.3 105.6,84.3 106.9,84.6 106.1,85.2 104.2,85.7 107.7,83.3 108.8,81.9 114.9,78.4 115.6,77.6 116.9,76.4 120.9,73.7 119.5,74.8 123.7,74 117.3,78.8 118.1,79.2 117.2,80.8 114.5,83.2 113.4,85.1 108.7,87.2 111.4,84.9 110.4,84.1 115.6,80.2 110.7,82.5 111.2,83.2 107.1,85.9 105.4,87.6 106.6,87.9 104.9,89.3 105.7,89.7 103,91.4 106.7,90.3 108.9,87.6 114.4,83.2 111.7,83.6 116.6,79.7 114.5,79.4 116.9,77 114.4,78.1 115.2,78 110.4,81.2 111,81.5 107.9,82.5 109.1,81.4 112.6,79.1 116.8,77.1 118.3,75.9 124,73.1 121.5,75.7 121.7,77 122.2,78.1 116.5,81.7 117.7,82.1 111.6,85.6 112.2,85 111.9,83.7 115.7,80.8 115.3,80 110.5,83.2 109.7,84.1 106.6,86.7 108.9,86.2 104.4,89.8 106.2,88.9 106.2,88.5 104.3,89.6 103.8,89 102.8,88.1 102.9,88.3 103.2,88.5 109.6,86.3 107.9,87.8 111,86.7 111.7,86.8 107.7,89.5 109,89.2 109.4,88.6 113.3,87.2 113.3,86.3 120.3,81 120.8,79.1 124.1,76.1 121.1,76.9 120.7,76 121.3,75.7 115.2,80.2 114.9,81.6 110,85.4 109.6,86.7 112.4,86 112.6,85.9 114.2,84.8 118,82.8" fill="none" stroke="#920b01" stroke-width="0.55" stroke-linejoin="round"/>
<polyline points="103.3,90.7 101.2,89.7 104.4,88.3 108.6,87.2 107.1,87.2 110.1,87.3 110.3,88.3 115.1,86.7 113.7,87.3 115.6,86 113,87.1 115.8,87.8 116.3,87.9 113.9,88.1 116.2,87.3 111.1,90.5 111.4,91.5 107.6,93.5 106.3,92.2 101,92.9 101.6,92.6 102.3,93.6 99.8,95.5 103.1,95.4 102.8,94.8 107.1,91.8 106.1,90.4 105.8,88.8 102,89 102.4,88.3 96.9,89.5 95.4,91 96.5,91 95.9,93.2 100.6,92.9 99.1,95 104.6,93.5 105.5,93 106.1,93.5 110.2,92 108.3,90.6 107,89.3 109.7,86.3 106.7,85.5 107,84.6 102.8,88.2 101,90.6 106.2,90.2 105.3,91.2 110.4,88.7 109.4,88.5 109.8,86.6 106.1,86.7 105.1,86.7 105.7,88.7 103.3,91.3 105.6,92 104.4,93.7 108.2,92.6 105.1,94.5 108.3,94.4 106.9,95.2 110.6,94.1 106.8,95.5 109.9,94.4 107.7,95.1 110.8,93.8 110.1,93.4 112.7,92.1 111.8,91.4 115.7,89.3 111.8,90.4 116.1,87.6 113.5,86 111.9,85.3 115.9,83.1 113.7,83.2 111.5,83.3 113.8,82.9 115.1,83.9 113.6,85.4 112,87.6 111.7,89.5 105.8,92.1 104.5,93.3 104.7,93.7 98.5,93.8 101.7,90.6 102,90 107.3,87.4 104.6,87.6 109.5,87.1 107.2,89.7 107.2,90.9 103.2,93.7 103.7,93.3 100,96.1 101.1,96.8 100.4,96.8 106.3,94 104.3,92.2 105.4,89.9 101,90.1 103.7,87.2 104.8,85.6 101.5,85.7 103.1,84.1 101.6,84.3 100.6,84 103.4,82.6 102.4,82.8 106.1,81.6 102.7,82.7 102.5,82.8 106.7,81.4 105.2,82.4 107.9,82.6 111,83.6 112.8,84.2 112.1,84.1 115,82.8 113,83.9 114.7,82.3 110.9,82.8 111,81.9 105,84 105.4,83.7 100,85.9 99.7,87.7 95.7,90.3 99.5,90.3 100,91.1 102.5,91.9 100.2,94.4 98.8,94.9 99.3,94.8 93.2,96 95.6,94 92.1,93.4 97.3,90.6 100.7,90 99.8,91.8 105,91.2 107.5,91.1 106.2,92.2 111.3,90.6 111.2,91.4 114.6,89.8 114.4,90.2 111.4,91.4 113.3,91.6 109.4,93.8 109.6,93.2 102.5,95 99.1,96.5 96.9,95.9 98.3,95.2 97.2,93.7 93.4,94.4 95.7,92.2 94,91.7 94.6,89.8 98.7,86.9 100.1,85.7 98.4,85.5 102.5,83.3 103,82.5 103.9,82.2 105,81.9 104.3,83.3 109.5,83.3 112.3,83.3 111.3,84.3 114.2,83.2 114.5,83.5 115.1,84.4 114.1,85.9 116.3,85.6" fill="none" stroke="#8b0902" stroke-width="0.55" stroke-linejoin="round"/>
<polyline points="98,92 92,97 88,103 85,110" fill="none" stroke="#8b0902" stroke-width="0.7"/>
<path d="M83.3,119.2 L137.7,61.5 L184,77.9 L130.4,139.1 Z" fill="none" stroke="#3b4f86" stroke-width="0.7"/>
<line x1="164.5" y1="82.3" x2="140.4" y2="73.9" stroke="#2f4a7e" stroke-width="0.8"/>
<path d="M140.4,73.9L144.2,73.7L143.2,76.4Z" fill="#2f4a7e"/>
<text x="156" y="76.7" font-size="8.9" text-anchor="middle">B</text>
<line x1="132.6" y1="104.8" x2="152.8" y2="110.1" stroke="#2f4a7e" stroke-width="0.8"/>
<path d="M152.8,110.1L149.1,110.6L149.8,107.9Z" fill="#2f4a7e"/>
<text x="143" y="116.7" font-size="8.9" text-anchor="middle">A</text>
<line x1="121.6" y1="95.7" x2="127.5" y2="107.5" stroke="#2f4a7e" stroke-width="0.8"/>
<path d="M127.5,107.5L124.7,105L127.2,103.7Z" fill="#2f4a7e"/>
<text x="119.2" y="103.2" font-size="8.9" text-anchor="middle">C</text>
<line x1="119.2" y1="126" x2="100.7" y2="113.5" stroke="#2f4a7e" stroke-width="0.8"/>
<path d="M100.7,113.5L104.4,114.3L102.8,116.6Z" fill="#2f4a7e"/>
<text x="109" y="128.2" font-size="8.9" text-anchor="middle">D</text>
<linearGradient id="cba" x1="0" y1="0" x2="0" y2="1"><stop offset="0%" stop-color="#7a0403"/><stop offset="4.3%" stop-color="#9e1001"/><stop offset="8.7%" stop-color="#bc2002"/><stop offset="13%" stop-color="#d43305"/><stop offset="17.4%" stop-color="#e7490c"/><stop offset="21.7%" stop-color="#f46617"/><stop offset="26.1%" stop-color="#fc8725"/><stop offset="30.4%" stop-color="#fea732"/><stop offset="34.8%" stop-color="#f6c33a"/><stop offset="39.1%" stop-color="#e5d938"/><stop offset="43.5%" stop-color="#cdec34"/><stop offset="47.8%" stop-color="#b1f936"/><stop offset="52.2%" stop-color="#92ff47"/><stop offset="56.5%" stop-color="#69fd66"/><stop offset="60.9%" stop-color="#3ff68a"/><stop offset="65.2%" stop-color="#20eaac"/><stop offset="69.6%" stop-color="#18d7ca"/><stop offset="73.9%" stop-color="#25c0e7"/><stop offset="78.3%" stop-color="#38a5fb"/><stop offset="82.6%" stop-color="#458afc"/><stop offset="87%" stop-color="#476ee6"/><stop offset="91.3%" stop-color="#4451bf"/><stop offset="95.7%" stop-color="#3c3286"/><stop offset="100%" stop-color="#30123b"/></linearGradient>
<rect x="192" y="6" width="5.2" height="152.5" fill="url(#cba)"/>
<line x1="195.7" y1="9.2" x2="197.2" y2="9.2" stroke="#555" stroke-width="0.5"/>
<text x="199" y="12.3" font-size="8.5">20</text>
<line x1="195.7" y1="37.4" x2="197.2" y2="37.4" stroke="#555" stroke-width="0.5"/>
<text x="199" y="40.5" font-size="8.5">16</text>
<line x1="195.7" y1="67.9" x2="197.2" y2="67.9" stroke="#555" stroke-width="0.5"/>
<text x="199" y="71" font-size="8.5">12</text>
<line x1="195.7" y1="99" x2="197.2" y2="99" stroke="#555" stroke-width="0.5"/>
<text x="199" y="102.1" font-size="8.5">8</text>
<line x1="195.7" y1="128.5" x2="197.2" y2="128.5" stroke="#555" stroke-width="0.5"/>
<text x="199" y="131.6" font-size="8.5">4</text>
<line x1="195.7" y1="153.6" x2="197.2" y2="153.6" stroke="#555" stroke-width="0.5"/>
<text x="199" y="156.7" font-size="8.5">0</text>
<text x="213.5" y="85.1" font-size="8.5" text-anchor="middle" transform="rotate(-90 213.5 82)">Time (s)</text>
<text x="231.5" y="13.5" font-size="18" font-weight="bold" fill="#000">b</text>
<path d="M289.7 118.3L353.4 58.3M353.4 58.3L353.4 18M304.6 128.6L368.3 68.6M368.3 68.6L368.3 28.3M319.4 138.9L383.1 78.9M383.1 78.9L383.1 38.6M334.3 149.2L398 89.2M398 89.2L398 48.9M349.2 159.5L412.9 99.5M412.9 99.5L412.9 59.2M290.7 93L365.1 144.5M290.7 93L290.7 52.7M306.7 78L381.1 129.5M306.7 78L306.7 37.7M322.6 63L397 114.5M322.6 63L322.6 22.7M338.5 48L412.9 99.5M338.5 48L338.5 7.7M274.8 108L338.5 48M338.5 48L412.9 99.5M274.8 87.8L338.5 27.9M338.5 27.9L412.9 79.3M274.8 67.7L338.5 7.7M338.5 7.7L412.9 59.2" stroke="#e4e4e4" stroke-width="0.5" fill="none"/>
<line x1="274.8" y1="108" x2="274.8" y2="67.7" stroke="#666" stroke-width="0.6"/>
<line x1="274.8" y1="108" x2="349.2" y2="159.5" stroke="#666" stroke-width="0.6"/>
<line x1="349.2" y1="159.5" x2="412.9" y2="99.5" stroke="#666" stroke-width="0.6"/>
<line x1="274.8" y1="108" x2="277.3" y2="109.5" stroke="#666" stroke-width="0.5"/>
<line x1="274.8" y1="87.8" x2="277.3" y2="89.3" stroke="#666" stroke-width="0.5"/>
<line x1="274.8" y1="67.7" x2="277.3" y2="69.2" stroke="#666" stroke-width="0.5"/>
<line x1="274.8" y1="108" x2="276.8" y2="106.1" stroke="#666" stroke-width="0.5"/>
<line x1="289.7" y1="118.3" x2="291.7" y2="116.4" stroke="#666" stroke-width="0.5"/>
<line x1="304.6" y1="128.6" x2="306.6" y2="126.7" stroke="#666" stroke-width="0.5"/>
<line x1="319.4" y1="138.9" x2="321.4" y2="137" stroke="#666" stroke-width="0.5"/>
<line x1="334.3" y1="149.2" x2="336.3" y2="147.3" stroke="#666" stroke-width="0.5"/>
<line x1="349.2" y1="159.5" x2="351.2" y2="157.6" stroke="#666" stroke-width="0.5"/>
<line x1="349.2" y1="159.5" x2="346.8" y2="157.9" stroke="#666" stroke-width="0.5"/>
<line x1="365.1" y1="144.5" x2="362.7" y2="142.9" stroke="#666" stroke-width="0.5"/>
<line x1="381.1" y1="129.5" x2="378.7" y2="127.9" stroke="#666" stroke-width="0.5"/>
<line x1="397" y1="114.5" x2="394.6" y2="112.9" stroke="#666" stroke-width="0.5"/>
<line x1="412.9" y1="99.5" x2="410.5" y2="97.9" stroke="#666" stroke-width="0.5"/>
<text x="272" y="68.8" font-size="8.9" text-anchor="end">40</text>
<text x="272" y="90.4" font-size="8.9" text-anchor="end">0</text>
<text x="272" y="109.9" font-size="8.9" text-anchor="end">-40</text>
<text x="251.6" y="91.1" font-size="8.9" text-anchor="middle" transform="rotate(-90 251.6 87.9)">Z (nm)</text>
<text x="271" y="121.4" font-size="8.9" text-anchor="middle">-60</text>
<text x="282" y="130.7" font-size="8.9" text-anchor="middle">-40</text>
<text x="297" y="140.2" font-size="8.9" text-anchor="middle">-20</text>
<text x="314.8" y="148.9" font-size="8.9" text-anchor="middle">0</text>
<text x="329.4" y="159.5" font-size="8.9" text-anchor="middle">20</text>
<text x="344" y="167.6" font-size="8.9" text-anchor="middle">40</text>
<text x="297" y="165.2" font-size="8.9" text-anchor="middle">X (nm)</text>
<text x="359" y="166" font-size="8.9" text-anchor="middle">-50</text>
<text x="367" y="158.2" font-size="8.9" text-anchor="middle">0</text>
<text x="384" y="144.6" font-size="8.9" text-anchor="middle">50</text>
<text x="398" y="130" font-size="8.9" text-anchor="middle">100</text>
<text x="414" y="113.7" font-size="8.9" text-anchor="middle">150</text>
<text x="395.5" y="151.4" font-size="8.9" text-anchor="middle" transform="rotate(-55 395.5 148.2)">Y (nm)</text>
<path d="M275.2,86.6 L337.6,28.2 L338.5,29.2 L275.5,87.8 Z" fill="#c3d7d4" stroke="#9cbcb7" stroke-width="0.55"/>
<polyline points="352,60 346,53 352,49 358,46.5 363.5,44.5 361,47.5 355,51 349,54.5 345,57" fill="none" stroke="#27eea4" stroke-width="0.7"/>
<polyline points="340.1,67.6 337.2,67.2 334.3,67.3 335.9,65.8 331.8,66.5 334.2,63.9 333.2,63.7 336.2,61.2 337.8,60 338.1,60.8 343.2,60.5 342,62.8 345.6,63.2 340,66.9 340.3,67.1 333.6,69.9 336.8,70.5 338,71.4 342.4,70.2 341.8,69.4 346.7,67.6 344.5,67.5 343.2,65.9 343,65.3 340.1,67.4 335.5,69.3 336.2,69.1 335.7,70.7 332.2,73.1 333.1,73.1 329,74.5 331,72.6 327.5,72.9 329.2,71.2 325.9,71.3 324.8,72.2 328.3,70.2 325.6,70.6 329.4,67.8 328.5,66.6 329.8,65.3 332.4,63.5 336.2,61 335.6,60.9 337.8,59 340.4,58.3 338.1,59.4 342.8,56.9 341.2,59.7 345.2,60.4 345.8,62.5 345.4,64 348.9,62.5 347.5,62.4 350.9,60.6 350.5,60.4 352.3,59.2 350.9,58.4 346.2,59.7 347.5,58.3 349.1,56.7 342.1,61 343.2,60 340.3,60.6 338.3,62.1 334.3,65.6 335.4,66.6 330.2,68.3 334.1,65.6 333.5,65.8 338,63.6 336.4,63 338.8,60.8 338.4,60.8 342.6,59.9 342.8,61.1 345.7,61.1 344.5,63.7 348.1,63.3 345.7,66.6 348.2,66.8 342.3,69.7 341.1,69.1 337,70.1 336.8,69.8 336.2,68.6 335,67.4 332.4,66.9 333.4,65.1 336.7,64.3 339.1,64.5 342.7,64.5 336.6,66.9 336.6,66.6 333.1,67.6 330.7,68.6 332.4,69.5 331.8,70.9 329.6,72.9 335.3,70.7 336.5,70.2 340.2,70.3 340.3,71.6 342.7,71.7 341.5,72.9 346.8,69.5 345.3,71 349.3,68.5 346.9,69.5 350.8,66.7 349,67.8 347.7,68.2 343.5,69 339,68.8 342.4,65.8 342.3,65.7 346.7,63.9 345.4,64.3 351.5,61.9 349.5,64.1 353,63.3 349.8,65.6 352.2,65.3 350,66.9 349.1,68 349.1,68.9 343.9,71.2 341,71.6 341.8,72.2 337.4,74.8 336.9,74.1 334.6,72.5 339.5,68.4 337.6,70.3 343.9,67.6 342.6,69.5 338.1,71.8 337.5,73.1 336.7,71.7 334.6,71.2 338.5,67.5 337.5,67.7 343.2,65.3 344.7,65.9 344.8,65.8 348.1,64.7 348.2,65.5 347.2,67.6 347.6,68.2 345.3,69.6 340.6,72.7 337.6,73.5 337.7,71.9 337.3,69.5 340.7,68.7 339.4,71.1 342.6,68.7 344.9,65.9 345.1,64.2 344.6,63.1 346,61.2 342.9,61.7 341,60.9 341.4,59.2 337.5,60 339,58.9 334.6,61.3 333.3,62.3 330.2,63.3 331.1,63.6 327.4,66.9 330.5,68.2 330.5,69.8 333.1,70.7 331.6,72.5 332.5,72 328,72.9 328,71.7 329.7,69.2 328.5,68.6 332.9,65.5 334.5,65.5 337.8,64.2 339.2,65.6 338.2,68.1 341.9,67.7 336.2,70.9 334.1,70.9 335.2,70.3 335.3,71.3 329.9,72.4 330.9,70.8 325.8,72.5 328.3,70.3 325.2,71 328.8,68 329,66.6 333.5,63.6 334.4,62.3 335.8,61.5 341.6,59.6 342.7,61.4 340.6,64.9 341.3,66.3 337.4,68.5 333.7,68.8 337,65.7 335.4,65.2 340.4,62.3 339.8,63.2 342.9,63.7 343.2,64.1" fill="none" stroke="#27eea4" stroke-width="0.55" stroke-linejoin="round"/>
<polyline points="351.8,70.1 359.5,68.7 358.8,68.7 360.4,67.9 366.2,64.1 359.2,65.4 359.1,65.6 356.2,65.4 359.7,63.1 356,63.3 357.4,61.6 356.3,61.7 360.8,60.5 363.4,58.4 359.9,59.4 364.2,57.9 362.4,59 369,57.3 367.2,59.5 369.5,59.8 368.3,61.1 371,60.4 372.4,60.5 370.9,63.1 374.6,63.2 371.1,65.1 373.4,64.8 371,66.3 371.6,67.2 365.8,69.9 363.9,71.7 362.7,73 359.5,74.5 361.2,74.5 357,76.6 358,76.2 355.7,77.2 358.8,76 354.4,77.6 354.3,76.9 349.1,77.5 348.7,76.6 345.5,76.7 347.1,74.2 343,74.2 346.1,71.8 343.4,71.2 345.7,69.7 343.6,68.9 346,66.6 342.9,66.6 345,65.3 343.3,65.1 344,65.1 342.6,65 348.1,62.6 343.1,65.3 344.5,66.6 339.7,67.6 344.4,65.6 341,67.7 339.3,70.6 342.9,71.2 348.6,70.6 349.3,71.7 353.2,71.9 354.5,71.8 358.4,68.3 356.5,66.8 357.9,65 354.6,65.7 357.8,63.5 356.2,62.8 359.8,60.4 358.8,60 359.5,58.5 352.5,61.3 352.1,63.1 345.9,67.3 348.6,67.3 347.5,69.4 346.9,71.4 351.1,71.8 351.6,72.7 356.5,72.6 356.3,73 362.3,70.7 363.2,70.4 364.3,68.5 365.7,65.9 359,68.6 360.1,69.2 352.8,71.7 354.5,71.3 356,72.1 355.2,73.7 361,71 361,70.5 364.6,67.9 363.7,66.6 366.7,63.1 365.7,61.5 364.7,61 359.3,62.6 360.2,61.6 359.9,60.8 363.2,59.2 358.8,60.6 356.8,63 352.6,66.2 355.3,66.6 352.8,70 356.4,69.4 358.5,67.7 364.2,65.8 362.7,66.8 368.1,64.7 364.8,65.1 368,62.8 364.1,62.9 365.6,61 362.9,60.8 362.8,60 358.7,61.6 352.3,64.6 353.9,64.8 349.9,68.5 350.8,69 345.7,72.7 346.9,73.7 344.4,74.8 347.4,74.8 345.9,76.7 352,75.5 349.6,77.1 352.2,77.4 351.4,78.5 346.2,80.2 346.7,79.7 343,80.1 343.3,78.4 345.7,75.3 342.4,74.8 346,73.4 343.4,74.3 340.3,74.9 341,73.7 336.1,75.9 339,75.8 336.5,76.6 341.5,77.1 341.4,78.7 345.8,77.7 348.5,76 352.9,74 358.5,70.6 358,69.3 364.2,66.8 363.7,67.4 367.4,67 363.6,66.2 365.2,64.4 361.6,64.3 361.3,64.2 357.5,65.2 357.4,64 352.7,65.7 354.3,65.8 348.4,67.7 349.2,67.1 346.5,67.1 349.3,65.4 352.8,63.7 356,62.2 358.8,62.6 364.6,59.8 363.3,61.4 364.4,61.9 364.7,64.1 361.1,67.7 358.3,68.6 355.4,68 355.9,67.1 351.4,67.9 351.6,67.5 348.3,68.1 350.2,67.4 349.5,65.9 351,65 356.2,62.9 357.1,63.2 361.3,62.2 361.5,62.8 362.7,63.9 368.2,61.7 363.4,62.4 363.7,61 366.6,58.9 359.7,61.1 359.5,63.4 357.2,66.2 356.7,68 358.3,69 358.5,70.5 362.6,69.3 362.6,69.4 365.8,66.4 363.8,66 357.3,66.7 356.8,66.7 349.9,70.6 353.1,68.1 349,67.5 351.8,65.3 351.9,64 355.4,61.1 359,60.2 358.8,61.9 363.2,62.6 360.8,64.7 359.6,67.2 358.3,69.1 358.4,68.7 354.9,67.8 358.3,64.4 358.4,65 361.9,63.6 364,63.8 362.4,65.8 364.4,67 360.6,69.9 359.4,70.6 352.9,72.4 353.7,70.7 352,69 354.7,66.3 355.7,65.2 353.4,65.4 356.6,63.5 358.4,62.5 358.2,62.6 357.7,63 363.1,62.2 363.1,63 367.6,61.1 370.4,61.8 371.6,62.2 367.5,65.4 369.9,65.4 362.8,69.6 362.4,69.3 358.1,69 359.8,67 361,65.4 360.9,63.9 362.6,63.8 365,63.8 367.4,63.3 365.6,65.3 365.3,66.4 364.2,68.5 362.2,69.6 355.2,72.1 354.8,70.2 353.4,68.3 358.7,66 360.3,64.8 362.5,64.5 367.5,63.1 366.2,65 370.5,64.1 367.6,66.6 370.5,67.5 367.9,69.9 368.3,71.7 364.2,73.6 367.7,72.7 365.7,72.9 368.4,72.5 363,74.5 361.3,73.2 353.5,75.5 357.3,71.4 358.3,69.9 359.2,69.5 364.3,69 363.3,70.1 367.1,69.3 365,70.7 362.6,72.8 358.2,74.3 360.7,70.6 359.8,69.7 365.3,67.7 367.3,66.1 367.3,64.4 369.8,63.1 369.3,63.2 373.4,61.5 371.7,60.8 369.6,63 373.3,61.9 371.7,63.2 374,64.2 376,64.1 372.1,67.3 372.1,68 374.5,68.4 372.3,69.3 371.4,70.7 371.5,70.8 366.7,73.3 361.3,75.8 359.1,75.1 354.9,76.4 356.4,74.1 348.7,76 349.8,74.6 349.7,73.8 348.7,72.9 347.2,72.7 343,74.7 345.7,73.5 340.5,75.8 341.6,74.8 339.4,75.5 340.8,76.1 342.6,76.6 346.9,77 348.7,77.5 349.1,77.6 354.7,76.8 355.2,76.8 357.7,74.4 364.1,71.8 362.9,70 362.2,68.5 355.2,69.3 355.8,70 350.7,72 347.4,74.1 347.4,75.1 349.1,73.7 345,75.2 346.4,76 345.2,78.5 348.3,78.1 342.5,79.9 346.4,76.9 342.7,77 340.8,77.1 342.8,76 340.2,76.2 342.6,72.7 340,73 344.3,69.3 346,68.4 348,67.4 355.4,65.9 354.5,67.9 357.8,68 357.9,70 359.8,71.4 357.6,72.9 354.4,72.3 359.9,68.9 359.7,67.8 365,65.2 362.9,66.7 364.7,67.7 361,70.1 358.7,72.6 355.3,74.9 356.6,74.8 350,77.2 348.7,78.6 349.2,77.1 348.7,74.8 350.5,73.5 358.1,70.6 354,73.1 356.7,73.2" fill="none" stroke="#4687fb" stroke-width="0.55" stroke-linejoin="round"/>
<polyline points="358.9,79.6 360.3,80 357.2,83.3 359.4,82.6 356,86.1 358.8,84.3 359.3,83.7 358.6,84.7 361,83.1 361.6,82.2 364,79.6 364.7,77.4 358.5,80.8 357.5,80.9 357.4,79.5 351.9,83.6 352.5,83.9 350.2,86.8 356.1,83.5 357.4,82.9 358.7,81 361.1,78.7 366.3,74.2 364.3,74.8 366.6,72 362.1,74.2 364,71.7 357.5,76.1 356.6,77.1 351.5,80.5 351.5,80.4 351.3,80.5 346.3,83.8 346.4,85.4 351.4,83.1 350.8,84.3 357.2,80 358,78.9 360.2,77.6 364.3,73.9 362.7,73.7 366.9,70.3 366,71 367.8,69.7 364.6,71.5 369.3,67.9 367,69.1 370.4,67.5 365.3,72.5 365.2,74.1 363.7,76.9 364.4,77.4 358.2,82.5 358,83 352.9,86.9 353,86.5 348.6,89.7 346.8,91.1 347.6,90.2 344.8,91.8 345.4,90.1 343.8,89.7 343.8,88.4 346.1,85.6 345.9,85 349.3,81.1 351.2,79.4 356.7,76.5 356.8,75.6 359.5,73 358.3,75.7 359.5,76.1 360.6,76.6 358.6,77.5 355,79.3 357.5,76.5 356.5,76.4 360,73.3 359.4,74.9 361.7,74.6 359.7,77 361.9,76.4 361,78.2 363.4,77 360.3,80.5 364.3,77.2 363.4,77.9 367.7,74.9 366.2,75.3 370.2,71.9 367.7,72.6 370,70.3 369,71.4 370.3,71.6 363.2,76.8 362.8,76.4 357.4,79 357.5,77.9 360.4,74.8 359.6,75.1 361.3,73.6 363.1,71.8 367.4,68.7 365.9,69.4 369.3,67.2 368,68.7 370.5,67.5 371.3,67.3 367.3,69.3 370.3,67.7 365.4,72.7 361.9,75.2 361.9,74.8 357.2,77.9 356.1,77.6 352.7,78.8 350.3,81.2 351.6,81.6 347.2,85 345,86.3 347.2,85.8 346.8,87.7 348.9,87.1 349.5,87.3 354.9,82.8 355.5,81.2 356.7,78.9 354.6,79.7 354.4,79.3 352.5,81.3 349.3,85 350.2,85.1 348.3,87.3 353.2,83.9 353,84.4 358.3,80.6 361.1,77.6 360.1,77.1 359.9,76.4 354.9,79.7 354.2,80.8 351.1,84.3 350.3,86.1 352.3,85.6 353.8,85 359.2,80.5 359.8,79.3 363.7,76.4 361.2,78.8 363.9,77.3 366.2,74.2 364.1,74.6 360.4,76.2 358.8,75.9 358.6,75 357.1,75.9 354.9,77.9 351.3,82 353,81.4 349.5,85.1 355.5,81.6" fill="none" stroke="#d7e535" stroke-width="0.55" stroke-linejoin="round"/>
<polyline points="335.9,91.7 331.2,93 333.2,94.1 333.4,94.5 338.2,92.4 336.1,91 332.1,90.8 329.4,92.6 329,93.7 325.7,95.2 331.4,95.1 330.1,95.8 330.5,95.8 326.7,96.5 327.1,95.8 325.7,96.4 321.6,97.6 327.9,97.6 324.1,98.6 324.6,99.1 321,99.3 322.7,98.7 321.8,98.5 321.7,99.6 327.8,98.8 327.8,98.7 333.5,97.8 332.6,98 339.3,97 334.8,98.6 338.4,97.8 339.9,97.3 342.5,97.2 341.4,96 340.3,93.6 340.9,91 341.9,89.2 338.4,88.4 334,88.9 334.5,89.6 333.7,90.5 329.9,93 331.5,94.3 329.1,95.8 332.5,95.6 337.2,93.6 332.3,93.3 332.5,92.7 326,92.9 327.5,92.9 325.2,94.9 328,95.8 326.9,97.2 333.9,94.4 332.3,94 336.9,91.7 333.4,90.7 331.1,90.7 330.9,90.6 326.3,92.7 327.6,94.3 326.7,95.3 322.5,96.9 326.1,97.1 323.2,96 327.7,93.7 328.6,92.6 333.8,91.2 333.8,90.7 340.5,89.2 338.9,90.2 341.4,91.1 338.3,92.7 337.2,93.9 335,93.3 329.9,93.1 333.6,91.5 334.1,91.2 340.1,90.6 339.7,91.8 338.7,92.5 333,93.6 331.1,94 327.3,93.7 326,92.4 328,90.8 330.1,89.9 329.2,88.9 335.5,88.8 336.5,89.3 337.4,89.9 342.2,90.1 339.2,91.9 340.1,92.5 340.5,93.8 338.1,95.3 336.8,95.8 333.9,95.7 330.9,96 332.5,96.4 329.8,97.3 330.4,96.9 325.6,97.8 326.8,98.7 321.7,99.6 320.8,99 323.1,98.5 319.2,98.5 321.8,96.1 318.2,95.8 320.3,96.2 316.7,97 316.3,96.2 315.2,95.6 318.7,95.8 318,97.2 322.3,97.2 320.6,98.6 325.2,98.7 327.2,98.9 328,99.7 328.8,99.5 330.2,99.1 330.4,99.2 337,96.8 331.9,95.8 334,93.6 330.1,92.6 330.9,91.4 327.7,91.9 323.5,91 324.8,91.4 322,93.3 329,91.8 330.1,92.4 337.1,91.5 335.9,91.9 342.3,90.9 340.3,91.6 344.3,91.2 343,92.5 344.8,93.3 345,93.9 340.7,95.4 346.1,94.9 343.9,95.4 344.9,94.1 346.5,93.3 349.5,91.8 346.6,90.8 348.8,91.6 344.7,93.7 339.8,94.7 339,94.9 331.5,95.5 332.3,95.4 331.3,96.3 329.9,96.6 326.9,98.2 330.6,98.6 329.3,98.9 335,98.3 333.3,99.3 334.2,99.4 333.5,99.5 333.4,98.3 339.7,95.7 337.1,94.8 341.2,92.2 335.1,91.6 334.9,91.1 332.5,92 328.8,94 329.5,94.5 325.2,96.6 327.8,96.8 326.5,97.6 332.3,97.2 331.8,97.9 338.5,96.7 339,95.1 343,92.9 337.7,91.9 342.2,90 341.7,89 337.6,88 339.2,86.7 335,86.5 331.5,87.1 328.7,87.2 331.1,86.7 325.1,87.5 324.4,89.4 320.8,91 326.1,91.3 324.3,93.4 322.6,94.5 324.7,95.3 324.4,95.2 320.9,95.1 324.1,92.5 326.3,91.7 327.8,90.3 329.6,89 331.6,87.6 331.1,87.6 336.5,87.8 337.7,89.7 333.5,92.3 335.7,93.2 331.9,94.9 329.6,95.4 329.4,94.6 326.2,94.9 323.4,96.3 326.9,96.8 327.2,97.4 331.4,97.1 331.5,96.5 334.5,95.3 338.8,93.1" fill="none" stroke="#f8be39" stroke-width="0.55" stroke-linejoin="round"/>
<polyline points="331,94 325,99 318,104 312,108 308.9,111.3" fill="none" stroke="#c3f134" stroke-width="0.8"/>
<polyline points="343,95 346,100 344,104 349,108 347,112" fill="none" stroke="#f56918" stroke-width="0.7"/>
<polyline points="365.8,92.4 368.5,93.2 363.9,95 363.5,95.2 359.4,97.5 361.6,95.6 356.5,95.7 360,93.4 358.2,92.4 363.8,91.4 362.2,91.5 365.5,90.3 370.2,90.4 369.4,93.1 370.5,94.4 368.8,96.9 374.3,95.4 370.9,94.3 374.2,90.4 370,89.1 368.2,89.3 364.9,92.3 368.6,93.5 366.7,96.5 367.7,97.2 362.4,97.6 363.5,96.3 361.7,96.4 359.2,98.7 361.5,98 357.7,98.6 355.4,99 355,97.4 357.5,96.3 353.4,96.1 358.8,91.9 358.3,91.5 364,90.2 365.9,90.3 366.6,91.2 370.4,91.7 367.5,94.7 367.5,93 366.5,91.6 363.7,90 363.8,87.8 367.6,85.4 369,85.8 368.1,85.8 370.9,84.9 371.6,85.8 376.3,83.9 373.9,86 377.9,86.1 374.4,88.9 377.7,90.1 375.7,90.8 377.9,88.8 376.1,87.7 378.4,88.3 374.6,89.5 379.1,88.6 375.5,90.4 379.2,89.8 375.7,91.9 375.9,92.7 370.8,93.7 370.9,90.8 366.6,89.8 368.9,87.1 363.9,87.9 364.8,86.3 367.9,83.2 363.6,83.3 360.5,83.9 362.6,85.8 357.3,87.8 359.6,88.7 356.3,91 357.3,92 355.1,93.9 360,94.7 359.3,97.1 364.2,96.5 362.8,98.4 368.8,94.3 367.8,94.3 372,91.2 368,90.7 369.8,88.5 365.3,88.7 361.8,89.5 362.8,89.3 359.6,91.3 358.8,94 363.6,94.5 362.7,95.1 364.3,95.7 367.6,97 365.5,98.5 370.7,98 369.6,99.1 367.7,100.8 367.9,101.8 369.3,101.4 364.6,103 366.1,102.2 363.3,103.1 366,102.2 362.2,102.9 362.8,99.7 361.3,96.5 364.6,93.4 366.2,91.3 366.5,90.7 370.6,90.1 368.9,92.7 368.4,93 362.9,94.3 363.8,93.2 359.9,93.9 360.7,92.1 357,93.7 358.5,91.5 354.5,92.4 356.5,91.8 353.3,93.4 351.9,92.3 354.5,89.1 354.8,87.7 354.8,86.5 360.8,83.4 361.1,82.4 359.3,82.3 362.7,80.4 363.1,82.4 367.2,82 368.3,85 366.8,87.2 363,90.3 365,91.9 361.3,93.1 361.4,91.5 358,91.4 360.5,88.6 363.4,86.3 361.5,85.6 364.1,85 368.5,84.8 368.8,85.4 372.9,83.9 371.3,85.6 372.6,84.7 375.4,82.9 371.8,82 373.6,80.3 368.4,81.1 369.5,80.9 364,84.8 364,87 360.7,90.3 364.9,91.1 364,90.7 369.2,88.1 367.2,87.8 368.5,85.1 367.1,84.6 369.2,82.9 365.1,83.4 367.2,81.4 362.5,82.4 364.3,81.7 359.4,85.3 364,87 363.3,89.5 368.4,89.7 367.8,91 372.4,89.6 369.3,88.8 371.9,86.6 370.2,86.3 372.9,83.4 371.2,84.2 371,83.9 366,86 365.7,85.7 361,86.9 363.2,87.4 360.3,90.9 361.2,92.8 361.4,95.1 362.5,95.8 367.3,96.6 368.8,96.8 367.5,97.9 370.4,97.1 371.4,97.7 369.9,97.9 369.9,98.6 373.3,96.7 372.9,96.5 372.9,93.9 371.9,92.5 373.2,90.5 373,87.8 367,88 367.4,87 364.8,90.6 366.2,92.2 370.7,92.8 369,95.3 371.5,95.1" fill="none" stroke="#19d5cd" stroke-width="0.55" stroke-linejoin="round"/>
<polyline points="369,100.1 368.2,100.3 368.7,102.2 364.2,102.1 367.1,99.2 363.6,99.1 362.1,99.8 363.8,99.4 363.5,99.5 360.2,99.5 362.9,99.1 359.9,99.9 362.2,99.4 359.7,101.6 362.6,101.4 359.1,103.5 359.6,104.5 366.7,103.2 367.3,104.1 371.2,102 371.8,102.3 377.2,99.3 374.5,97.6 377.5,95.1 375,93.9 376.8,92.1 372.6,92.5 373.6,91.5 371.9,91.5 367.4,94 369.1,93.2 368.1,96.6 367.5,99.4 370.6,100.9 371.4,102.2 376.3,101.7 375.2,101.9 378.5,98.9 378.2,99.8 381.8,99.5 380.3,100.5 381.7,99.1 384.3,97.2 382,97.2 386.2,94.1 383.4,93.6 385.7,92.3 382,92.6 384.6,91 382.5,92.1 385.3,92.5 383.7,94.1 383.6,94.9 383.4,96.3 386.3,96.1 381.2,96 380.5,94.8 376.8,93.5 380.4,91.7 376.5,92 376.4,90.5 371.6,91.2 372.4,90.5 366.6,92.5 365.1,94.5 366.9,95.4 365.2,98.5 369.8,98.5 366.7,101.4 372,101.4 367.3,104.4 369.5,104.9 366.8,107.2 368.4,107.2 365,108.4 368.7,108.1 365.9,109.3 363.3,108.5 364.8,105.2 362.1,103.6 364.1,101.1 360.4,101.1 359,101.8 363,102 359.5,103.5 363.2,101.9 359.1,102.2 362.2,100 361,98.5 363.3,96.8 360.9,97.2 361.1,96.3 365.5,93.5 367.5,92.2 365.5,91.7 367.9,91 364,92.6 363.5,93.5 363.1,93.9 365.5,92.9 363.9,93 366.2,92.4 363.4,93.3 368.4,91 368.6,91 373.2,89.4 374.7,90.1 377.1,91 377.4,93.4 377.4,94.1 379.6,92.2 375.9,91.6 375.2,91.3 372,92.5 373.4,93.4 368.3,94.9 370.2,94.6 365.5,96.3 369.1,97.9 368,100 371.7,99.9 370,101.5 374.9,98.7 374.2,97 377.1,94 375.1,93.6 378.7,91.1 374.9,91.1 376.9,89.6 373.1,90 373.3,89.4 368.4,91.4 369.8,92.5 366,97.1 370.1,98.3 370,99.9 373,100.3 373.9,101.8 373.5,101.6 376.2,101.1 379.3,99.9 378.3,99.8 380.4,96.6 375.7,96.3 375.5,94.5 371.3,97.6 372.4,98.9 376.2,98.9 373.6,101.9 375,102.6 379.3,100.7 377.8,100.7 383.6,98.5 383.5,97.4 381.8,96.4 386,95.6 386.3,96.6 383.9,97.5 387,95.6 382,98.9 381.2,100.1 377.8,102.7 378,102.3 374.8,103.2 369,104.1 370.7,103.7 367.9,105.3 369.5,106.6 371.3,107.2 370.1,108.5 374.5,106.9 374.7,106.2 378.9,104.1 377.8,102.9 382,99.3 380.3,99.1 380.7,97.4 380,95.2 378.8,94.5 376.6,93.4 372,96.5 373.2,96.6 367.7,100.2 368.8,100.9 364.9,102.8 367.5,103.5 364.5,105.4 366.2,105.9 362.9,104.6 366.1,101.7 364.1,100 366.4,98.1 365.3,97.3 370.7,95.9 371.7,95.7" fill="none" stroke="#3e9bfe" stroke-width="0.55" stroke-linejoin="round"/>
<polyline points="373.2,106.3 378.7,104 377.7,104.6 381.7,101.2 382.6,100.7 386,97.8 383,98.7 384.1,96.6 380.7,98.6 381.8,97.4 375.8,100.9 376.6,100.2 372.1,102.8 374.6,101.1 372.8,102.2 376.2,100 375.5,100.3 379.5,98.2 381.9,96.8 381.8,97.9 384.1,97.6 384.8,96.9 389.7,94.9 387.1,97 387.6,98.7 389.4,99.3 389.8,100.4 390.7,99.8 393.3,98 390.5,98.8 393.3,97.5 390.6,98.5 392.3,97.5 390.2,98.9 392.2,97.7 389.7,98.3 390.6,96.5 386.1,98.1 387.5,96.6 388.3,96.7 389.5,96.7 392,95.7 389.4,98.4 392.6,97.9 392.3,98.7 389.1,102.3 388.7,103.2 387.7,103.5 381.6,107.3 379.1,108.9 379.9,108.9 376.6,111.6 378,111.7 375.9,113.3 372,114.8 371.5,114.2 367.5,116.5 368.7,113.6 369.4,111.5 374.7,107.7 375.3,107.3 379.8,105.1 377.2,108.3 381.9,106.5 378.5,109.4 379.5,108.6 374.3,111.2 375.1,109.9 372,112.2 374,112.3 369.7,114.5 372.5,113.4 371.4,114.9 373.5,114.5 377.1,111.6 382.6,107.5 381.4,107.1 383.9,104.3 380.5,104.8 379.8,104.3 375.7,107.3 376,107.1 371.6,109.8 373.3,109.1 369.5,112.4 374.1,111.3 374.2,112.3 375.2,112.5 379.7,111 381.9,108.7 384.2,107.6 383.8,108.1 388.3,105.3 381.2,107.5 379.2,107.5 381.3,107.1 378.6,109.9 382,108.9 381.5,108.9 386.7,106.2 386.7,104.8 384.6,104.8 386.6,102.8 387.3,101.7 390.9,99.4 390.5,98.9 390,99.6 392.5,98 390.4,97.9 392.7,96 389.7,98.4 392,98.1 387.2,102.4 390.4,100.4 389,100.8 392.5,98.6 388.9,98.8 387.5,98.5 392.2,95.9 391.9,96.3 392.4,95.8 389.3,97.9 392.1,97.9 388.8,101 382.5,104.6 384.1,105.5 378.9,109.5 382.8,108.5 382.7,108.5 382.3,106.8 385.9,103.1 384.5,102.1 380,104 380.4,103.3 374.4,108.1 376.1,108.4 375.6,110.1 376.7,110 378.9,110 376.2,112.1 377.2,112 372.1,114.1 373,111.7 369,111.9 372.8,108.1 374.2,107 378.8,104.6 378,105.2 383.5,101 380,101.8 379.7,101.2 382.4,99.1 378.9,100.1 383.6,97 380.6,98.4 380.3,97.9 374.1,102.5 376.3,101.4 371.1,104.4 372.9,105 370.4,108.3 374,108.2 378,107.5 380.2,107.3 380.9,107.1 385.3,104.3 386.4,102.7 386.5,102.3 387,100.2 388.9,98.3 387,98 387.2,96.9 387,96.6 382.6,98.1 382.7,97.4 379.2,99.1 378.2,99.6 372.9,103.3 373.7,103.6 369.8,108.1 373.9,107.2 373.9,108.1 380.1,104.9 380.6,103.8 385.6,100.8 383,101.3 388.5,98.2 386.2,101.4 387,102.2 383,106.3 381.5,107.5 375.7,109.2 377.6,107.1 374.5,106.9 373.2,108.1" fill="none" stroke="#424bb5" stroke-width="0.55" stroke-linejoin="round"/>
<polyline points="351.7,125.2 353.7,126.5 349.6,128.2 351.9,128.5 349.9,131 350,131.2 355.3,129.8 354.1,131.4 354.2,131.5 359.3,128.9 357.5,129.7 358.7,125.6 356.2,123.6 358.8,119.7 357.4,117.1 356.3,117.6 356.8,116.7 360.4,117 359.2,119.5 361.9,117.8 362.9,118.4 361.2,118.3 360.6,119.7 361.5,122.8 355.9,125.4 355.9,124.4 349.9,124.2 350.1,121.3 347.1,119.7 352.4,117.4 349.2,117.4 352.3,114.6 349.8,113.3 351.2,111.9 350.9,110.9 348.8,111.5 350.7,110.6 347.8,109.3 353,107.5 351.3,109.9 355.7,111.4 354.2,110.8 359,111.4 358.2,114.1 362.1,113.9 362.1,112.7 359.5,114 363.9,115.5 362.5,117.4 364.4,117.6 361.4,117.9 362,115.2 357.5,114.7 359.3,112.9 356.3,114.5 356.1,119 350.7,122.2 353,124.1 350.1,126.9 353.7,127.5 349.9,131 351.7,131.5 346.4,130.6 348.1,127.1 342.9,126.2 344.9,123.7 343.4,121.8 348.2,118.1 348.4,118.4 350.2,116.4 345.2,116.9 345.1,117.3 342.8,117.1 346,113.8 342,113.5 345.1,111.6 347.3,110.2 344.8,111.4 347.3,111.5 352.7,110 349.5,109.2 353.6,107.3 354.2,109.5 358.1,110.8 359,113.3 354.5,116.8 355.2,119.9 349.4,119.1 349.6,116.3 351,114.2 349.2,112.9 354,113.5 353.2,114.8 354.5,118.2 351.4,119.2 349.3,120.4 343.5,120.1 345.3,116.5 343.6,115.5 348.9,114.3 350.4,113.7 348.6,112.5 352,110.4 350.3,110.1 348.2,111.5 346.6,115.3 345,119.8 349.3,120.7 349.2,121 352.2,121.6 351.7,121.9 356.5,121.6 355.1,121.8 359.5,122.4 357.5,125.3 358.8,126.9 355.2,128.6 358.1,129 353.1,129.7 356.5,128.6 353.1,129.9 355.9,131.6 351.1,134.1 355.3,134.4 351.7,135.7 354.7,135.6 354,134.5 357.1,134 352.9,135.5 353.7,135.1 349.2,135.3 350.5,135.5 345.8,135.3 346.5,135.2 343.2,132.5 344.8,128.2 341.2,126.6 345.5,122.8 346.5,121.2 353.1,119.7 350.8,122.8 353.5,124.1 348.4,126 348.9,124.2 343.5,124.6 345.5,121.9 346,121.7 350,120.6 349.8,122.3 354.8,122.3 354.9,120.9 356.5,121.9 350,124.3 349.9,123.1 345.8,122.3 345.7,122.5 344.5,124 342.3,125.6 342.9,126.7 342.3,130 347.1,129.3 344.2,129.9 349.5,128.3 350.7,127.9 354.6,123 350.7,121.8 354.2,119 350.7,118.5 345.2,120.6 347.3,119.6 341.4,122.3 344,121.7 338.6,121.2 341.8,119.4 337.1,121.3 338.5,122.4 335.4,123 338,121.7 333.3,121.3 336,120.8 332.1,122.5 336.8,123.8 336.6,126.4 337.1,127 336.4,128.7 344.6,126.2 344.2,125.6 348.9,125.7 347.7,128.2 349.2,124.6 355.9,123 357.3,122.2 355.8,123.6 356.5,125.3 360.4,126.1 357,128.3 360.2,127.9 358.3,128.2 362.3,126.8 359.7,127.4 363.1,126.1 360.6,126.6 360.3,124.8 363.3,121.9 363.1,119.2 357.8,117 357.5,115.4 351.5,116.1 353.2,114.8 351.9,113.2 348.8,111.8 351.2,110.3 350.5,109.3 352.6,108.3 354.6,108.6 355.8,111 352.2,110 350.6,110.2 347.9,110.4 348.7,110.8 343.7,112.9 346,116.6 347.6,118.5 350.1,119.1 350.8,120.4 351.8,120.8 357.9,119.3 356.2,118.5 358.2,116.5 358.6,114.8 354.7,113.2 355.7,111.9 350.8,112.4 351.4,110.3 350,110.1 354.6,111 353.5,111.4 356.8,113.5 355.7,116.8 351.4,119.2 350.4,119.5 346.3,121.9 347.6,120.9 342.3,120.2 346.4,116.7 344.7,115.1 341.7,114.2 348,111.6 346.7,111.5 353.3,112.1 351.4,114.5 355.8,114.7 354.4,119.4 354.1,121 349.4,122.7 347.2,120.9 348.8,118.5 342.9,118.3 345,117.2 340.5,116.6 344.2,114.4 342.7,113.9 347.7,111.9 348.4,113.3 352.3,116.3 351.9,118.1 356.6,120.2 355.6,121.9 356.2,122.7 350.1,124.4 351,123 350.5,120 348.3,118.1 352.6,118.1 351.6,118.7 354.5,119.9 358.7,119.5 360.5,118.9 360.8,119.3 358.2,122.1 361.5,121.6 362,122.5 360.5,125.2 358.9,127.3 360.2,128.7 353.8,129.2 353.6,125.5 350.9,125.1 349.5,122.3 351.6,119.7 347.9,117.1 354.9,115.9 354.2,118.2 358.4,119.5 359.4,118.6 356.2,121.9 360.3,121.7 358.5,121.6 363,120.4 360,122.3 365,121.6 360.5,126.6 357.9,128.8 357.9,129.1 352.1,130.1 351.9,128.2 346.3,124.9 349.4,121.2 350,119.2 348.4,120.2 351.1,122 354.3,123.3 352.3,126 355.9,126.3 354,128.2 358.7,126 357,124.3 360.4,122.6 359.2,122.1 361.4,119 355.7,117.8 356.6,115.5 359.9,113.4 357.5,116.3 363,117.3 360.5,118.5 361.8,120.5 357.4,123.7 356.8,124.1 351.7,124.1 348.1,123.7 352.2,119.4 347.8,119.7 348,117.3 344.7,116.1 345.7,113.7 351.3,112.2 350.1,111.4 353.5,110.4 352.8,112.3" fill="none" stroke="#d83706" stroke-width="0.55" stroke-linejoin="round"/>
<polyline points="344.6,116.7 346.9,116.6 350.3,116.4 349.8,118.7 349.9,119.7 348.4,120.5 344.4,121.4 343.4,122.5 342.3,123.6 343.6,123 341.5,123.1 340.6,122.7 342.4,122 339.9,121.1 340.4,119 343.4,116.8 343.1,115.9 346.1,113.5 345.3,113.5 348.6,113.8 348.7,114.5 349.1,114.5 351.7,114.2 350.8,115.8 352.4,117.1 353.2,118.5 352.5,120.3 348.6,122.2 351.9,121.8 349.9,122.7 349.7,123.2 348.4,123.7 347,124.2 345.7,124.5 346.8,124.1 344,124.3 344.6,123.1 341.7,122.5 341,121.1 339.3,119.4 341.2,117 340.5,116.3 344.4,115.4 344.6,115.4 347.4,115.5 347.6,115.6 350.6,114.5 349,113.6 348,112.7 348.1,111.6 344.4,112 344.7,113.5 343.5,116.3 346.8,117.5 346,119 348,119 349.2,119.1 351.4,119.5 350.5,119.2 351.2,117.8 353.2,115.8 350.9,116 350.9,115.1 350,113.6 349.5,113.5 350.8,113.2 351.2,113.3 350.6,113.1 349,113.5 350.8,113.2 350.8,113.3 349.8,113.7 351.9,113.8 351.7,115.7 349.7,118.3 350.1,120.1 349.1,120.7 345.6,120.9 346,118.7 342.7,118.2 342.9,118 340.7,118.9 343.3,119.9 343.5,120.9 347.2,120.7" fill="none" stroke="#8b0902" stroke-width="0.55" stroke-linejoin="round"/>
<circle cx="375.4" cy="72.9" r="6.8" fill="#b9b9b9"/>
<line x1="369.5" y1="71.7" x2="381.3" y2="74.2" stroke="#222" stroke-width="0.8"/>
<circle cx="398.3" cy="95.4" r="6.8" fill="#b9b9b9"/>
<line x1="394.2" y1="100.3" x2="402.4" y2="90.5" stroke="#222" stroke-width="0.8"/>
<circle cx="329.2" cy="119.1" r="6.8" fill="#b9b9b9"/>
<line x1="323.4" y1="115.7" x2="335" y2="122.5" stroke="#222" stroke-width="0.8"/>
<linearGradient id="cbb" x1="0" y1="0" x2="0" y2="1"><stop offset="0%" stop-color="#7a0403"/><stop offset="4.3%" stop-color="#9e1001"/><stop offset="8.7%" stop-color="#bc2002"/><stop offset="13%" stop-color="#d43305"/><stop offset="17.4%" stop-color="#e7490c"/><stop offset="21.7%" stop-color="#f46617"/><stop offset="26.1%" stop-color="#fc8725"/><stop offset="30.4%" stop-color="#fea732"/><stop offset="34.8%" stop-color="#f6c33a"/><stop offset="39.1%" stop-color="#e5d938"/><stop offset="43.5%" stop-color="#cdec34"/><stop offset="47.8%" stop-color="#b1f936"/><stop offset="52.2%" stop-color="#92ff47"/><stop offset="56.5%" stop-color="#69fd66"/><stop offset="60.9%" stop-color="#3ff68a"/><stop offset="65.2%" stop-color="#20eaac"/><stop offset="69.6%" stop-color="#18d7ca"/><stop offset="73.9%" stop-color="#25c0e7"/><stop offset="78.3%" stop-color="#38a5fb"/><stop offset="82.6%" stop-color="#458afc"/><stop offset="87%" stop-color="#476ee6"/><stop offset="91.3%" stop-color="#4451bf"/><stop offset="95.7%" stop-color="#3c3286"/><stop offset="100%" stop-color="#30123b"/></linearGradient>
<rect x="423.4" y="8.4" width="5.2" height="150.6" fill="url(#cbb)"/>
<line x1="427.1" y1="14.9" x2="428.6" y2="14.9" stroke="#555" stroke-width="0.5"/>
<text x="432.4" y="18" font-size="8.5">80</text>
<line x1="427.1" y1="50.7" x2="428.6" y2="50.7" stroke="#555" stroke-width="0.5"/>
<text x="432.4" y="53.8" font-size="8.5">40</text>
<line x1="427.1" y1="86.6" x2="428.6" y2="86.6" stroke="#555" stroke-width="0.5"/>
<text x="432.4" y="89.7" font-size="8.5">0</text>
<line x1="427.1" y1="119.4" x2="428.6" y2="119.4" stroke="#555" stroke-width="0.5"/>
<text x="432.4" y="122.5" font-size="8.5">-40</text>
<line x1="427.1" y1="155.2" x2="428.6" y2="155.2" stroke="#555" stroke-width="0.5"/>
<text x="432.4" y="158.3" font-size="8.5">-80</text>
<text x="451.8" y="86.6" font-size="8.5" text-anchor="middle" transform="rotate(90 451.8 83.5)">Pitch (degree)</text>
<text x="463.5" y="13.8" font-size="18" font-weight="bold" fill="#000">c</text>
<defs>
<filter id="tex" x="0" y="0" width="1" height="1" color-interpolation-filters="sRGB">
<feTurbulence type="fractalNoise" baseFrequency="0.11" numOctaves="3" seed="5" result="n"/>
<feColorMatrix in="n" type="matrix" values="0 0 0 0 0  0 0 0 0 0  0 0 0 0 0  2.0 0 0 0 -0.75" result="a"/>
<feFlood flood-color="#4a4a4a" result="fl"/>
<feComposite in="fl" in2="a" operator="in" result="dark"/>
<feTurbulence type="fractalNoise" baseFrequency="0.12" numOctaves="3" seed="11" result="n2"/>
<feColorMatrix in="n2" type="matrix" values="0 0 0 0 0  0 0 0 0 0  0 0 0 0 0  2.0 0 0 0 -0.8" result="a2"/>
<feFlood flood-color="#b4b4b4" result="fl2"/>
<feComposite in="fl2" in2="a2" operator="in" result="light"/>
<feMerge><feMergeNode in="SourceGraphic"/><feMergeNode in="dark"/><feMergeNode in="light"/></feMerge>
<feGaussianBlur stdDeviation="0.9"/>
</filter>
<clipPath id="cclip"><rect x="493" y="14" width="155" height="144"/></clipPath>
<radialGradient id="nuc" cx="0.5" cy="0.5" r="0.5"><stop offset="0" stop-color="#8a8a8a" stop-opacity="0.5"/><stop offset="1" stop-color="#8a8a8a" stop-opacity="0"/></radialGradient>
</defs>
<g clip-path="url(#cclip)">
<rect x="493" y="14" width="155" height="144" fill="#7c7c7c" filter="url(#tex)"/>
<path d="M493,50 C497,55 502,62 504,75 C507,105 512,135 515,158 L493,158 Z" fill="#747474"/>
<path d="M493,50 C497,55 502,62 504,75 C507,105 512,135 515,158" fill="none" stroke="#4c4c4c" stroke-width="2.2" opacity="0.75"/>
<path d="M508,80 C511,110 516,135 519,158" fill="none" stroke="#9a9a9a" stroke-width="2" opacity="0.35"/>
<path d="M590,14 C612,28 632,45 648,72 L648,14 Z" fill="#8c8c8c"/>
<path d="M590,14 C612,28 632,45 648,72" fill="none" stroke="#6a6a6a" stroke-width="2" opacity="0.45"/>
<path d="M586,17 C608,31 628,48 644,75" fill="none" stroke="#9c9c9c" stroke-width="2" opacity="0.4"/>
<defs><radialGradient id="nuc2" cx="0.5" cy="0.5" r="0.5"><stop offset="0" stop-color="#838383" stop-opacity="0.6"/><stop offset="0.8" stop-color="#838383" stop-opacity="0.45"/><stop offset="1" stop-color="#838383" stop-opacity="0"/></radialGradient></defs>
<ellipse cx="561" cy="99" rx="37" ry="36" fill="url(#nuc2)"/>
<ellipse cx="561" cy="99" rx="32" ry="32" fill="none" stroke="#959595" stroke-width="1.3" opacity="0.45"/>
<ellipse cx="625" cy="130" rx="34" ry="36" fill="url(#nuc2)" opacity="0.85"/>
<ellipse cx="540" cy="140" rx="30" ry="22" fill="url(#nuc2)" opacity="0.5"/>
<circle cx="592" cy="104" r="3.2" fill="#262626" opacity="0.85"/>
<circle cx="590" cy="110" r="2.5" fill="#b0b0b0" opacity="0.6"/>
<circle cx="622" cy="158" r="5" fill="none" stroke="#1e1e1e" stroke-width="2.2"/>
<circle cx="622" cy="158" r="2.5" fill="#dcdcdc"/>
<circle cx="614.7" cy="81.5" r="5" fill="#5a5a5a"/>
<circle cx="614.7" cy="81.5" r="4" fill="none" stroke="#3a3a3a" stroke-width="1.2"/>
<circle cx="614.7" cy="81.5" r="1.3" fill="#8a8a8a"/>
<circle cx="614.7" cy="81.5" r="7.7" fill="none" stroke="#fff" stroke-width="0.8" stroke-dasharray="0.9 1.4"/>
</g>
<line x1="595" y1="82" x2="604.5" y2="82" stroke="#f4f4f4" stroke-width="1.6"/>
<line x1="624.5" y1="82" x2="634.2" y2="82" stroke="#f4f4f4" stroke-width="1.6"/>
<path d="M583.6,82 L596.5,77.8 L594,82 L596.5,86.2 Z" fill="#f4f4f4"/>
<path d="M646.9,82 L634,77.8 L636.5,82 L634,86.2 Z" fill="#f4f4f4"/>
<line x1="502.2" y1="50.8" x2="502.2" y2="27.5" stroke="#f4f4f4" stroke-width="1.3"/>
<line x1="502.2" y1="50.8" x2="525" y2="50.8" stroke="#f4f4f4" stroke-width="1.3"/>
<path d="M502.2,16.4 L506,30 L502.2,27.5 L498.4,30 Z" fill="#f4f4f4"/>
<path d="M536.6,50.8 L523,47 L525.5,50.8 L523,54.6 Z" fill="#f4f4f4"/>
<text x="498.1" y="37.7" font-size="7.5" text-anchor="middle" fill="#e8e8e8">Y</text>
<text x="514.8" y="58.5" font-size="7.5" text-anchor="middle" fill="#e8e8e8">X</text>
<text x="0.5" y="205" font-size="18" font-weight="bold" fill="#000">d</text>
<path d="M57 300L113.3 223.7M49.7 268.8L135.5 317.3M78.5 312.1L134.8 235.8M63.8 249.7L149.6 298.2M99.9 324.3L156.2 248M77.8 230.7L163.6 279.2M121.4 336.4L177.7 260.1M91.9 211.6L177.7 260.1" stroke="#ececec" stroke-width="0.5" fill="none"/>
<line x1="35.6" y1="287.9" x2="121.4" y2="336.4" stroke="#777" stroke-width="0.6"/>
<line x1="121.4" y1="336.4" x2="177.7" y2="260.1" stroke="#777" stroke-width="0.6"/>
<line x1="35.6" y1="287.9" x2="37.1" y2="285.9" stroke="#777" stroke-width="0.5"/>
<line x1="121.4" y1="336.4" x2="119.2" y2="335.2" stroke="#777" stroke-width="0.5"/>
<line x1="57" y1="300" x2="58.5" y2="298" stroke="#777" stroke-width="0.5"/>
<line x1="135.5" y1="317.3" x2="133.3" y2="316.1" stroke="#777" stroke-width="0.5"/>
<line x1="78.5" y1="312.1" x2="80" y2="310.1" stroke="#777" stroke-width="0.5"/>
<line x1="149.6" y1="298.2" x2="147.4" y2="297.1" stroke="#777" stroke-width="0.5"/>
<line x1="99.9" y1="324.3" x2="101.4" y2="322.3" stroke="#777" stroke-width="0.5"/>
<line x1="163.6" y1="279.2" x2="161.4" y2="278" stroke="#777" stroke-width="0.5"/>
<line x1="121.4" y1="336.4" x2="122.9" y2="334.4" stroke="#777" stroke-width="0.5"/>
<line x1="177.7" y1="260.1" x2="175.5" y2="258.9" stroke="#777" stroke-width="0.5"/>
<text x="33.1" y="300.3" font-size="8.9" text-anchor="middle">-100</text>
<text x="52.8" y="311.6" font-size="8.9" text-anchor="middle">-50</text>
<text x="73.9" y="322.6" font-size="8.9" text-anchor="middle">0</text>
<text x="96.2" y="334.4" font-size="8.9" text-anchor="middle">50</text>
<text x="114.1" y="345.5" font-size="8.9" text-anchor="middle">100</text>
<text x="65.2" y="340.2" font-size="8.9" text-anchor="middle">X (nm)</text>
<text x="134.3" y="343.1" font-size="8.9" text-anchor="middle">-100</text>
<text x="147.4" y="323.9" font-size="8.9" text-anchor="middle">-50</text>
<text x="155.3" y="304.2" font-size="8.9" text-anchor="middle">0</text>
<text x="164" y="285.8" font-size="8.9" text-anchor="middle">50</text>
<text x="181.5" y="270.7" font-size="8.9" text-anchor="middle">100</text>
<text x="171.1" y="314.7" font-size="8.9" text-anchor="middle" transform="rotate(-65 171.1 311.5)">Y (nm)</text>
<polyline points="106.9,228.3 101.6,238.1 97.4,232.8 95.3,243.3 91.1,246.8 85.8,248.6 91.8,250.3 96.4,247.9 94.6,252.1" fill="none" stroke="#36215f" stroke-width="1.0" stroke-linejoin="round"/>
<polyline points="94.6,252.1 82.3,249.3 87.6,257.3 93.9,259.1 99.9,254.9 101.6,259.1 91.8,262.6 104,265" fill="none" stroke="#4666dd" stroke-width="1.0" stroke-linejoin="round"/>
<polyline points="104,265 112.8,250.3 115.6,259.1 111.4,264.3 117.4,269.6 113.9,276.6" fill="none" stroke="#37a8fa" stroke-width="1.0" stroke-linejoin="round"/>
<polyline points="113.9,276.6 119.1,255.6 124.4,260.8 127.9,257.3 132.4,262.6 130.3,267.9 136.7,273.1 134.9,280.1 131.4,288.9 127.9,295.9" fill="none" stroke="#18dec0" stroke-width="1.0" stroke-linejoin="round"/>
<polyline points="127.9,295.9 77.1,274.9 84.1,268.9 94.6,266.8 105.1,269.6 111.4,273.1 101.6,274.9 115.6,280.1 119.1,283.6" fill="none" stroke="#79fe59" stroke-width="1.0" stroke-linejoin="round"/>
<polyline points="119.1,283.6 84.1,274.9 89.3,280.1 96.4,283.6 92.9,278.4 100,287" fill="none" stroke="#c3f134" stroke-width="1.0" stroke-linejoin="round"/>
<polyline points="100,287 101.6,290.6 91.1,304.6 108.6,302.9 113.9,295.9 117.4,308.1 112.1,309.9 121.9,298.3 120.9,309.9 110,300" fill="none" stroke="#f2c93a" stroke-width="1.0" stroke-linejoin="round"/>
<polyline points="110,300 98.1,299.4 103.4,294.1 94.6,290.6 89.3,295.9 85.8,287.1 92.9,280.1 105.1,281.9 110.4,290.6" fill="none" stroke="#f9781e" stroke-width="1.0" stroke-linejoin="round"/>
<polyline points="110.4,290.6 106.9,280.1 113.9,276.6 110.4,266.1 118.4,253.8 105.1,259.1 106.9,269.6 101.6,262.6 91.1,260.8 92.9,273.1 85.8,285.4 96,270 100,258" fill="none" stroke="#c32503" stroke-width="1.0" stroke-linejoin="round"/>
<linearGradient id="cbd" x1="0" y1="0" x2="0" y2="1"><stop offset="0%" stop-color="#7a0403"/><stop offset="4.3%" stop-color="#9e1001"/><stop offset="8.7%" stop-color="#bc2002"/><stop offset="13%" stop-color="#d43305"/><stop offset="17.4%" stop-color="#e7490c"/><stop offset="21.7%" stop-color="#f46617"/><stop offset="26.1%" stop-color="#fc8725"/><stop offset="30.4%" stop-color="#fea732"/><stop offset="34.8%" stop-color="#f6c33a"/><stop offset="39.1%" stop-color="#e5d938"/><stop offset="43.5%" stop-color="#cdec34"/><stop offset="47.8%" stop-color="#b1f936"/><stop offset="52.2%" stop-color="#92ff47"/><stop offset="56.5%" stop-color="#69fd66"/><stop offset="60.9%" stop-color="#3ff68a"/><stop offset="65.2%" stop-color="#20eaac"/><stop offset="69.6%" stop-color="#18d7ca"/><stop offset="73.9%" stop-color="#25c0e7"/><stop offset="78.3%" stop-color="#38a5fb"/><stop offset="82.6%" stop-color="#458afc"/><stop offset="87%" stop-color="#476ee6"/><stop offset="91.3%" stop-color="#4451bf"/><stop offset="95.7%" stop-color="#3c3286"/><stop offset="100%" stop-color="#30123b"/></linearGradient>
<rect x="192.9" y="195.7" width="5" height="150" fill="url(#cbd)"/>
<line x1="196.4" y1="223.3" x2="197.9" y2="223.3" stroke="#555" stroke-width="0.5"/>
<text x="200" y="226.4" font-size="8.5">15</text>
<line x1="196.4" y1="264" x2="197.9" y2="264" stroke="#555" stroke-width="0.5"/>
<text x="200" y="267.1" font-size="8.5">10</text>
<line x1="196.4" y1="305.3" x2="197.9" y2="305.3" stroke="#555" stroke-width="0.5"/>
<text x="200" y="308.4" font-size="8.5">5</text>
<line x1="196.4" y1="342.6" x2="197.9" y2="342.6" stroke="#555" stroke-width="0.5"/>
<text x="200" y="345.7" font-size="8.5">0</text>
<text x="219.2" y="263.1" font-size="8.5" text-anchor="middle" transform="rotate(-90 219.2 260)">Time (s)</text>
<text x="238.5" y="199" font-size="18" font-weight="bold" fill="#000">e</text>
<clipPath id="eclip"><rect x="267.7" y="195.8" width="157.7" height="132.39999999999998"/></clipPath>
<g clip-path="url(#eclip)">
<polygon points="268.3,290.5 268.6,294.6 268.9,293.6 269.2,294.3 269.6,294.4 269.9,295.6 270.2,293.3 270.5,293.1 270.8,286.5 271.1,281.9 271.4,279.6 271.8,278.3 272.1,276.8 272.4,274.6 272.7,273.9 273,272.5 273.3,274.5 273.6,275.8 274,276.5 274.3,273.6 274.6,276.3 274.9,278.4 275.2,279.1 275.5,278.2 275.8,276.4 276.2,278 276.5,280.7 276.8,284 277.1,283.2 277.4,284.3 277.7,286.5 278,287.3 278.4,285.4 278.7,284.9 279,282.5 279.3,284 279.6,282.6 279.9,280.3 280.2,279.6 280.6,279.1 280.9,277.9 281.2,277.9 281.5,280.1 281.8,279.5 282.1,280.1 282.4,280.2 282.8,280.9 283.1,279.8 283.4,278.4 283.7,277.1 284,276.4 284.3,275.7 284.6,276.2 285,276.3 285.3,273.4 285.6,276.7 285.9,279.5 286.2,279.1 286.5,276 286.9,271.1 287.2,269.1 287.5,268.6 287.8,267.6 288.1,262.8 288.4,263.2 288.7,262.1 289.1,261.5 289.4,265 289.7,266.2 290,266.2 290.3,266.6 290.6,267.8 290.9,271.6 291.3,272.7 291.6,272.6 291.9,270.1 292.2,268.2 292.5,267.9 292.8,269.5 293.1,266.1 293.5,265.8 293.8,265.3 294.1,267.5 294.4,267.5 294.7,271.8 295,270.7 295.3,269.6 295.7,268.6 296,271.5 296.3,273.2 296.6,274.3 296.9,272 297.2,268.5 297.5,270.4 297.9,274.5 298.2,279.5 298.5,274.5 298.8,269.1 299.1,268.4 299.4,267.9 299.7,266.3 300.1,265.9 300.4,262.5 300.7,261.6 301,259.9 301.3,263.5 301.6,262.4 301.9,264.3 302.3,266 302.6,262.7 302.9,263.9 303.2,268.8 303.5,270.5 303.8,268.7 304.1,267.2 304.5,266 304.8,267.8 305.1,268.7 305.4,268.1 305.7,264.3 306,264.9 306.3,267.4 306.7,264.6 307,261.8 307.3,261 307.6,260.2 307.9,256.4 308.2,254.8 308.5,255.6 308.9,256.6 309.2,257.3 309.5,258.8 309.8,256.1 310.1,254.7 310.4,254.6 310.7,251.8 311.1,250.1 311.4,251.9 311.7,249.5 312,251.8 312.3,253.4 312.6,254.6 312.9,253.8 313.3,251.8 313.6,251.2 313.9,247.5 314.2,255 314.5,252.1 314.8,249 315.1,247.3 315.5,247.9 315.8,245.9 316.1,247 316.4,240.4 316.7,239.7 317,237 317.3,236 317.7,234.7 318,235.8 318.3,241.7 318.6,240.1 318.9,243.2 319.2,239.4 319.5,240.3 319.9,245.4 320.2,245.4 320.5,244.1 320.8,241.6 321.1,236.9 321.4,234 321.7,234.6 322.1,234.8 322.4,229.9 322.7,229.5 323,225.2 323.3,224.7 323.6,223.7 324,227.5 324.3,227.7 324.6,228 324.9,227.2 325.2,229.7 325.5,232.9 325.8,230.7 326.2,230.7 326.5,228.9 326.8,232 327.1,232.7 327.4,228.9 327.7,228.6 328,234.9 328.4,238 328.7,235.1 329,237.1 329.3,235.2 329.6,233.5 329.9,235.4 330.2,234.7 330.6,227.9 330.9,230.9 331.2,231.5 331.5,226 331.8,224 332.1,219 332.4,215.3 332.8,215.3 333.1,215 333.4,211.3 333.7,206.5 334,204 334.3,201.6 334.6,199.2 335,201.4 335.3,203.2 335.6,199.2 335.9,203.2 336.2,208.3 336.5,209 336.8,212.7 337.2,215.9 337.5,217.3 337.8,218.2 338.1,223.3 338.4,221.4 338.7,221.7 339,227.6 339.4,226.3 339.7,228 340,231 340.3,230.1 340.6,227.6 340.9,226.2 341.2,228.5 341.6,225.8 341.9,227.6 342.2,222.7 342.5,223.9 342.8,223.2 343.1,225.6 343.4,226.8 343.8,219.3 344.1,216.7 344.4,215.2 344.7,217.5 345,215.6 345.3,217.4 345.6,218.1 346,216.8 346.3,222.3 346.6,227.7 346.9,230.1 347.2,230.3 347.5,230.8 347.8,230.7 348.2,230.5 348.5,230.3 348.8,230.1 349.1,229.5 349.4,227.6 349.7,226.6 350,222.9 350.4,218.8 350.7,216.1 351,218.5 351.3,218.2 351.6,220 351.9,219.2 352.2,215.2 352.6,220.4 352.9,219.1 353.2,215.2 353.5,215.8 353.8,219.3 354.1,217.2 354.4,221.1 354.8,221 355.1,219.9 355.4,226 355.7,228.6 356,225 356.3,227.1 356.6,228.4 357,232.3 357.3,235.5 357.6,233.8 357.9,234.8 358.2,234.5 358.5,234.4 358.8,234.9 359.2,238.2 359.5,232.9 359.8,231.7 360.1,235.9 360.4,236.9 360.7,237.6 361.1,242 361.4,244 361.7,241.6 362,244.1 362.3,246.1 362.6,245.8 362.9,247.3 363.3,246.9 363.6,248 363.9,247.5 364.2,247.8 364.5,250.9 364.8,248.9 365.1,249.1 365.5,249.2 365.8,248.4 366.1,248.9 366.4,250 366.7,247 367,245.8 367.3,246.7 367.7,251.8 368,247.4 368.3,250 368.6,250.1 368.9,252.2 369.2,256.4 369.5,257.9 369.9,254.8 370.2,256.8 370.5,258.2 370.8,257 371.1,254.5 371.4,252.9 371.7,248.2 372.1,248.3 372.4,244.2 372.7,242.3 373,239 373.3,237.7 373.6,235.2 373.9,235.3 374.3,238.4 374.6,235.2 374.9,236 375.2,236.8 375.5,236 375.8,232.4 376.1,233.3 376.5,231.9 376.8,227.7 377.1,228.8 377.4,229.2 377.7,226.6 378,224.2 378.3,225.2 378.7,223 379,224.6 379.3,226.6 379.6,227.2 379.9,230.6 380.2,233.1 380.5,233.1 380.9,233.2 381.2,236.5 381.5,235.8 381.8,232.9 382.1,234.1 382.4,233.1 382.7,233.3 383.1,234 383.4,232.7 383.7,234.2 384,233.3 384.3,231.9 384.6,231.6 384.9,232.1 385.3,234.2 385.6,230.7 385.9,231 386.2,231.6 386.5,235.6 386.8,239.3 387.1,239.6 387.5,242.1 387.8,242.6 388.1,245.3 388.4,242.5 388.7,244.1 389,242.2 389.3,242.2 389.7,240.7 390,240.3 390.3,243.5 390.6,244.5 390.9,241.4 391.2,240.9 391.5,240.1 391.9,243.1 392.2,240 392.5,241.7 392.8,241.7 393.1,244.7 393.4,246.5 393.7,246 394.1,244.9 394.4,245.8 394.7,247.7 395,246.3 395.3,247.2 395.6,246.2 396,248.8 396.3,250.2 396.6,251.7 396.9,248.7 397.2,247.5 397.5,246 397.8,247.6 398.2,249.5 398.5,247.6 398.8,250.1 399.1,247.5 399.4,250 399.7,255.1 400,255.5 400.4,250.1 400.7,253.4 401,256.7 401.3,258.1 401.6,260.6 401.9,260.2 402.2,260.9 402.6,259.3 402.9,260.8 403.2,258.5 403.5,257.3 403.8,258.2 404.1,257.4 404.4,255.6 404.8,255.6 405.1,259.7 405.4,263.8 405.7,263.7 406,261.5 406.3,256.9 406.6,255.9 407,257.2 407.3,258.9 407.6,251.2 407.9,247.1 408.2,246 408.5,246.2 408.8,245.5 409.2,242.1 409.5,244.2 409.8,244.9 410.1,247.8 410.4,250.6 410.7,246.9 411,247.5 411.4,251.1 411.7,250.9 412,248.8 412.3,252.5 412.6,252.7 412.9,253.6 413.2,252.9 413.6,254.9 413.9,255.9 414.2,255.9 414.5,253.5 414.8,246 415.1,242.7 415.4,241.5 415.8,242.5 416.1,234.4 416.4,232.9 416.7,233.4 417,230.7 417.3,230.3 417.6,230.6 418,228 418.3,227.2 418.6,229.4 418.9,230.5 419.2,228.2 419.5,230.3 419.8,233.3 420.2,231.7 420.5,232.1 420.8,231.9 421.1,233.1 421.4,235.4 421.7,232.5 422,230.1 422.4,227.5 422.7,228 423,227.5 423.3,228.5 423.6,225.1 423.9,229.7 424.2,233.4 424.6,231 424.9,233 425.2,231.2 425.2,254.5 424.9,256.7 424.6,255.1 424.2,258 423.9,254.7 423.6,250.5 423.3,254.4 423,253.8 422.7,254.6 422.4,254.3 422,257.2 421.7,259.9 421.4,263 421.1,261 420.8,260.1 420.5,260.5 420.2,260.5 419.8,262.3 419.5,259.6 419.2,257.8 418.9,260.4 418.6,259.5 418.3,257.6 418,258.6 417.6,261.1 417.3,260.7 417,261.1 416.7,263.7 416.4,263.1 416.1,264.6 415.8,272.6 415.4,271.5 415.1,272.6 414.8,275.8 414.5,283.3 414.2,285.6 413.9,285.5 413.6,284.4 413.2,282.4 412.9,283 412.6,282 412.3,281.7 412,277.9 411.7,280 411.4,280 411,276.4 410.7,275.7 410.4,279.3 410.1,276.5 409.8,273.5 409.5,272.7 409.2,270.6 408.8,273.9 408.5,274.5 408.2,274.2 407.9,275.2 407.6,279.3 407.3,286.9 407,285.1 406.6,283.7 406.3,284.7 406,289.1 405.7,291.3 405.4,291.1 405.1,286.9 404.8,282.6 404.4,282.4 404.1,284 403.8,284.6 403.5,283.5 403.2,284.6 402.9,286.7 402.6,285.1 402.2,286.4 401.9,285.5 401.6,285.8 401.3,283.1 401,281.6 400.7,278 400.4,274.5 400,279.8 399.7,279.2 399.4,273.9 399.1,271.3 398.8,273.6 398.5,271 398.2,272.9 397.8,271.1 397.5,269.5 397.2,271.1 396.9,272.4 396.6,275.4 396.3,274 396,272.6 395.6,270.1 395.3,271.1 395,270.3 394.7,271.7 394.4,269.8 394.1,269 393.7,270.2 393.4,270.7 393.1,269 392.8,266.1 392.5,266.1 392.2,264.4 391.9,267.6 391.5,264.7 391.2,265.5 390.9,265.9 390.6,268.8 390.3,267.5 390,264.2 389.7,264.4 389.3,265.7 389,265.5 388.7,267.3 388.4,265.5 388.1,268.1 387.8,265.2 387.5,264.6 387.1,261.8 386.8,261.4 386.5,257.5 386.2,253.3 385.9,252.5 385.6,252 385.3,255.3 384.9,253.1 384.6,252.4 384.3,252.6 384,253.8 383.7,254.6 383.4,253.3 383.1,254.6 382.7,254 382.4,253.8 382.1,255 381.8,253.9 381.5,256.8 381.2,257.6 380.9,254.3 380.5,254.3 380.2,254.4 379.9,252 379.6,248.6 379.3,248.2 379,246.2 378.7,244.7 378.3,247 378,246 377.7,248.5 377.4,251.2 377.1,250.9 376.8,249.8 376.5,254.2 376.1,255.8 375.8,255.1 375.5,258.8 375.2,259.8 374.9,259.2 374.6,258.6 374.3,261.9 373.9,259 373.6,259.1 373.3,261.8 373,263.3 372.7,266.7 372.4,268.8 372.1,273.1 371.7,273.2 371.4,278.1 371.1,279.8 370.8,282.5 370.5,283.9 370.2,282.7 369.9,280.9 369.5,284.2 369.2,282.7 368.9,278.4 368.6,276 368.3,275.8 368,272.9 367.7,277.1 367.3,271.8 367,270.7 366.7,271.7 366.4,274.5 366.1,273.2 365.8,272.5 365.5,273.1 365.1,272.7 364.8,272.3 364.5,274.2 364.2,270.9 363.9,270.3 363.6,270.6 363.3,269.3 362.9,269.5 362.6,267.8 362.3,267.9 362,265.7 361.7,263.4 361.4,266.1 361.1,264.2 360.7,260 360.4,259.5 360.1,258.7 359.8,254.7 359.5,256.1 359.2,261.6 358.8,258.5 358.5,258.2 358.2,258.5 357.9,259.1 357.6,258.2 357.3,260.2 357,257.1 356.6,253.5 356.3,252.4 356,250.5 355.7,254.3 355.4,251.9 355.1,246 354.8,247.3 354.4,247.5 354.1,243.8 353.8,245.9 353.5,242.5 353.2,242 352.9,246 352.6,247.3 352.2,242.2 351.9,246.2 351.6,247.1 351.3,245.4 351,245.8 350.7,243.4 350.4,246.2 350,250.5 349.7,254.3 349.4,255.2 349.1,257.2 348.8,257.9 348.5,258.2 348.2,258.4 347.8,258.6 347.5,258.9 347.2,258.4 346.9,258.3 346.6,255.9 346.3,250.6 346,245.1 345.6,246.5 345.3,245.9 345,244.2 344.7,246 344.4,243.8 344.1,245.4 343.8,248 343.4,255.7 343.1,254.5 342.8,252.2 342.5,252.9 342.2,251.8 341.9,256.7 341.6,255 341.2,257.7 340.9,255.5 340.6,257 340.3,259.9 340,261.5 339.7,259.2 339.4,258.2 339,260.2 338.7,254.9 338.4,255.3 338.1,257.9 337.8,253.5 337.5,253.2 337.2,252.5 336.8,250 336.5,247 336.2,247 335.9,242.6 335.6,239.3 335.3,244 335,242.8 334.6,241.3 334.3,244.1 334,246.2 333.7,248.3 333.4,252.8 333.1,256.2 332.8,256.2 332.4,255.8 332.1,259.2 331.8,263.9 331.5,265.6 331.2,270.7 330.9,269.7 330.6,266.4 330.2,272.9 329.9,273.3 329.6,271 329.3,272.4 329,274 328.7,271.6 328.4,274.2 328,270.8 327.7,264.1 327.4,264.1 327.1,267.5 326.8,266.5 326.5,263.1 326.2,264.6 325.8,264.3 325.5,266.5 325.2,263.3 324.9,260.8 324.6,261.6 324.3,261.3 324,261.1 323.6,257.3 323.3,258.3 323,258.8 322.7,263.1 322.4,263.5 322.1,268.4 321.7,268.2 321.4,267.6 321.1,270.5 320.8,275.2 320.5,277.7 320.2,279 319.9,279 319.5,273.9 319.2,273 318.9,276.8 318.6,273.7 318.3,275.3 318,269.5 317.7,268.4 317.3,269.8 317,270.9 316.7,273.6 316.4,274.4 316.1,281 315.8,280 315.5,282 315.1,281.5 314.8,283.2 314.5,286.4 314.2,289.3 313.9,281.8 313.6,285.6 313.3,286.2 312.9,288.3 312.6,289.2 312.3,288 312,286.5 311.7,284.2 311.4,286.6 311.1,284.6 310.7,285.9 310.4,288.4 310.1,288.2 309.8,289.2 309.5,291.5 309.2,289.6 308.9,288.6 308.5,287.2 308.2,286.1 307.9,287.3 307.6,290.8 307.3,291.2 307,291.6 306.7,294.1 306.3,296.5 306,293.7 305.7,292.7 305.4,296.1 305.1,296.4 304.8,295.1 304.5,292.9 304.1,293.7 303.8,294.9 303.5,296.5 303.2,294.5 302.9,289.4 302.6,287.9 302.3,291 301.9,289.1 301.6,286.8 301.3,287.6 301,283.9 300.7,285.3 300.4,286 300.1,289.1 299.7,289.2 299.4,290.6 299.1,290.8 298.8,291.2 298.5,296.4 298.2,301.1 297.9,295.9 297.5,291.5 297.2,289.4 296.9,292.6 296.6,294.7 296.3,294 296,292.5 295.7,289.9 295.3,291.1 295,292.5 294.7,293.8 294.4,289.8 294.1,290.1 293.8,288.2 293.5,288.9 293.1,289.4 292.8,293.1 292.5,291.7 292.2,292.3 291.9,294.5 291.6,297.2 291.3,297.6 290.9,296.7 290.6,293.2 290.3,292.3 290,292.1 289.7,292.4 289.4,291.4 289.1,287.4 288.7,287.7 288.4,288.4 288.1,287.6 287.8,292.1 287.5,292.6 287.2,292.7 286.9,294.4 286.5,298.9 286.2,301.6 285.9,301.6 285.6,298.4 285.3,294.7 285,297.3 284.6,296.7 284.3,295.9 284,296.2 283.7,296.6 283.4,297.4 283.1,298.5 282.8,299.1 282.4,298.1 282.1,297.6 281.8,296.7 281.5,296.8 281.2,294.2 280.9,293.9 280.6,294.7 280.2,294.8 279.9,295.1 279.6,297 279.3,299.1 279,298.4 278.7,301.6 278.4,302.9 278,305.5 277.7,305.4 277.4,304.1 277.1,303.8 276.8,305.3 276.5,302.8 276.2,300.8 275.8,300 275.5,302.6 275.2,304.3 274.9,304.3 274.6,302.6 274.3,299.5 274,302.2 273.6,301 273.3,299.5 273,297.1 272.7,298.1 272.4,298.5 272.1,300.4 271.8,301.5 271.4,302.5 271.1,304.5 270.8,308.7 270.5,315 270.2,314.9 269.9,316.8 269.6,315.3 269.2,314.8 268.9,313.8 268.6,314.4 268.3,310.1" fill="#1414ff"/>
<polyline points="268.3,291.7 268.4,296.4 268.5,301.1 268.6,312.4 268.7,306 268.8,298.5 268.9,303.2 269,295 269.1,313.4 269.2,306.8 269.3,304.4 269.5,302.2 269.6,311.1 269.7,314.8 269.8,304.8 269.9,298.4 270,319.5 270.1,311.5 270.2,310 270.3,304.5 270.4,300.5 270.5,294.3 270.6,306.5 270.7,311.5 270.8,281.7 270.9,297.4 271,288.5 271.1,277.4 271.2,275.5 271.3,297.2 271.4,291.9 271.5,303.2 271.7,294.6 271.8,293.5 271.9,292.4 272,291 272.1,278.8 272.2,280.2 272.3,296.3 272.4,284.4 272.5,277.6 272.6,298.8 272.7,277.1 272.8,275.8 272.9,276.1 273,284.9 273.1,293.4 273.2,273.4 273.3,301.9 273.4,276.8 273.5,279.7 273.6,282.6 273.7,308.6 273.9,298.9 274,281.7 274.1,282.8 274.2,278.3 274.3,283.3 274.4,270.7 274.5,299.1 274.6,274 274.7,273.6 274.8,298.5 274.9,275.9 275,293 275.1,273.4 275.2,289.8 275.3,303.1 275.4,286.1 275.5,303.2 275.6,295.8 275.7,296.9 275.8,274.4 276,296.6 276.1,285.7 276.2,279.1 276.3,301.3 276.4,309.8 276.5,287.4 276.6,290.1 276.7,299.9 276.8,278 276.9,286.6 277,275.1 277.1,298.3 277.2,306.5 277.3,295.1 277.4,280 277.5,298.1 277.6,307.8 277.7,284.5 277.8,291.4 277.9,300.3 278,292.3 278.2,309.6 278.3,297 278.4,294.6 278.5,286.5 278.6,290.2 278.7,286.6 278.8,290 278.9,293 279,293.1 279.1,295.8 279.2,290.7 279.3,291 279.4,280.6 279.5,299 279.6,293.7 279.7,282.2 279.8,280.7 279.9,287.4 280,292.4 280.1,274.3 280.2,292.7 280.4,286.8 280.5,292.9 280.6,292 280.7,297 280.8,282.2 280.9,287.7 281,276.3 281.1,288.7 281.2,293.3 281.3,283.1 281.4,281.3 281.5,281.4 281.6,298.5 281.7,280.1 281.8,294.4 281.9,293.4 282,286.1 282.1,285.1 282.2,288.5 282.3,291.8 282.4,293.9 282.6,281.8 282.7,290.4 282.8,289 282.9,282.1 283,275.9 283.1,296.6 283.2,283.5 283.3,281.8 283.4,284 283.5,270.7 283.6,280.5 283.7,276.4 283.8,285 283.9,280.5 284,285.4 284.1,292.3 284.2,287 284.3,289.4 284.4,287.4 284.5,273.1 284.6,291.2 284.8,290.8 284.9,305.6 285,289.5 285.1,286.6 285.2,280.4 285.3,277.2 285.4,270.5 285.5,278.5 285.6,278 285.7,282.4 285.8,291.5 285.9,272.7 286,279.7 286.1,301.6 286.2,293 286.3,281.1 286.4,276.9 286.5,280.2 286.6,275 286.7,273.1 286.9,282.9 287,277.6 287.1,271 287.2,290 287.3,292.3 287.4,278.8 287.5,285.4 287.6,276.8 287.7,265.1 287.8,292.2 287.9,272.1 288,261.6 288.1,261 288.2,278.6 288.3,278.6 288.4,292.6 288.5,291.8 288.6,279.8 288.7,284.8 288.8,277.3 288.9,287 289.1,290.2 289.2,277.2 289.3,267.1 289.4,283.8 289.5,284.8 289.6,258.9 289.7,292.2 289.8,292.6 289.9,265.7 290,263.1 290.1,271.7 290.2,264.7 290.3,266 290.4,283.8 290.5,276.1 290.6,288.4 290.7,293 290.8,277.6 290.9,289.9 291,282.9 291.1,290.9 291.3,273.1 291.4,302.6 291.5,289 291.6,279.7 291.7,268.6 291.8,288.4 291.9,288 292,269.5 292.1,296.3 292.2,294.1 292.3,269 292.4,259.5 292.5,284.4 292.6,266.4 292.7,289.8 292.8,279.7 292.9,283.5 293,264.3 293.1,275.5 293.2,284.6 293.3,282.6 293.5,292.4 293.6,285 293.7,284.7 293.8,270.7 293.9,280.1 294,284 294.1,295 294.2,287.5 294.3,266.7 294.4,268.7 294.5,285.6 294.6,269.4 294.7,278.4 294.8,278.3 294.9,268.4 295,271.4 295.1,290.6 295.2,283.6 295.3,276.7 295.4,287 295.5,292.2 295.7,277.6 295.8,265.8 295.9,266.4 296,273.4 296.1,285.3 296.2,276.4 296.3,288.3 296.4,267.6 296.5,283.1 296.6,281 296.7,275.8 296.8,294.8 296.9,292.7 297,288.7 297.1,292.7 297.2,293.7 297.3,271.4 297.4,282 297.5,284.5 297.6,281.5 297.7,280.4 297.9,282.3 298,292.1 298.1,307.5 298.2,281.7 298.3,293 298.4,289.3 298.5,281 298.6,296.4 298.7,263.4 298.8,270 298.9,290 299,283.3 299.1,283 299.2,272.6 299.3,276.9 299.4,272.4 299.5,291.6 299.6,292.4 299.7,284.6 299.8,266.1 300,282.8 300.1,285.4 300.2,288.8 300.3,277.9 300.4,282.7 300.5,273.1 300.6,262.2 300.7,287.4 300.8,265.7 300.9,273 301,263.7 301.1,269 301.2,268.1 301.3,281 301.4,272.2 301.5,281.9 301.6,274.7 301.7,272.4 301.8,270.9 301.9,257.5 302,274 302.2,274 302.3,291.3 302.4,270.9 302.5,263.5 302.6,268.2 302.7,266.9 302.8,278.7 302.9,258.2 303,264 303.1,267.4 303.2,275.1 303.3,268.5 303.4,291.9 303.5,298.8 303.6,279.3 303.7,287.9 303.8,275.8 303.9,289.2 304,267.2 304.1,271.1 304.2,293.7 304.4,264.6 304.5,281.8 304.6,279.3 304.7,273.2 304.8,297 304.9,276.4 305,281.8 305.1,294.2 305.2,305 305.3,297.9 305.4,271.2 305.5,280.5 305.6,259.6 305.7,269.2 305.8,300.9 305.9,282.4 306,268.9 306.1,276.5 306.2,270.9 306.3,281.1 306.4,291.5 306.6,306.4 306.7,286.8 306.8,290.2 306.9,270.1 307,282.5 307.1,279.2 307.2,284.1 307.3,267.8 307.4,269.2 307.5,282.8 307.6,279.1 307.7,274.5 307.8,283.4 307.9,247.6 308,262 308.1,266.6 308.2,249 308.3,264 308.4,285.2 308.5,250.7 308.6,278.6 308.8,269.6 308.9,257.7 309,259.7 309.1,264.3 309.2,283.2 309.3,259.7 309.4,268.4 309.5,285.6 309.6,254.3 309.7,255.5 309.8,256.9 309.9,300.1 310,247.6 310.1,270.4 310.2,284.2 310.3,253.9 310.4,254.6 310.5,277.9 310.6,297 310.7,285.6 310.9,274.7 311,266.4 311.1,267.8 311.2,276.8 311.3,268.5 311.4,280.1 311.5,284.3 311.6,251 311.7,286.8 311.8,264 311.9,249.2 312,292.1 312.1,261.8 312.2,261.6 312.3,283.6 312.4,266.9 312.5,272.3 312.6,294.8 312.7,273.8 312.8,274 312.9,279.3 313.1,269.2 313.2,278.7 313.3,259.4 313.4,271 313.5,279.1 313.6,290.2 313.7,253.2 313.8,246.1 313.9,289.5 314,259.2 314.1,259.6 314.2,287.2 314.3,287.8 314.4,274.8 314.5,269.9 314.6,257.7 314.7,294.5 314.8,258.6 314.9,250.3 315,275.5 315.1,265.8 315.3,251.1 315.4,252.1 315.5,249.4 315.6,272.1 315.7,275.4 315.8,279 315.9,286.6 316,278.7 316.1,278 316.2,254 316.3,253.5 316.4,258.5 316.5,277.5 316.6,274.7 316.7,265.4 316.8,277.5 316.9,241.4 317,256 317.1,248.2 317.2,241.9 317.3,240.4 317.5,243.5 317.6,262.7 317.7,260.7 317.8,266.3 317.9,239.8 318,240.2 318.1,262 318.2,268.3 318.3,249.3 318.4,257.6 318.5,272.3 318.6,260.2 318.7,246.7 318.8,251.6 318.9,276.1 319,260.8 319.1,255.8 319.2,234.3 319.3,263.6 319.4,260 319.5,251.9 319.7,234.1 319.8,243.3 319.9,248.8 320,266.2 320.1,249.5 320.2,271.8 320.3,268.8 320.4,274.1 320.5,269.9 320.6,265 320.7,267.4 320.8,281.1 320.9,241.9 321,268.4 321.1,242.2 321.2,250.7 321.3,256.6 321.4,240 321.5,256.9 321.6,241.1 321.7,265.8 321.9,264.4 322,246.2 322.1,232.1 322.2,259.6 322.3,268.1 322.4,237.7 322.5,251.7 322.6,261.4 322.7,236.7 322.8,235.1 322.9,234.4 323,235.9 323.1,252.2 323.2,242.9 323.3,245.4 323.4,258.5 323.5,263.3 323.6,253.3 323.7,249.2 323.8,253.6 324,238.2 324.1,238.1 324.2,229.7 324.3,229.8 324.4,242.8 324.5,237.4 324.6,257.7 324.7,256.3 324.8,249.7 324.9,234.8 325,257.1 325.1,259.6 325.2,249.8 325.3,238.5 325.4,274.9 325.5,279.1 325.6,253.9 325.7,224.8 325.8,220.8 325.9,230.7 326,256.4 326.2,247.4 326.3,257.4 326.4,248.4 326.5,259.1 326.6,239.1 326.7,235.2 326.8,254.6 326.9,271.7 327,257 327.1,237 327.2,241 327.3,240.8 327.4,233.1 327.5,222.8 327.6,268.3 327.7,262.7 327.8,239.6 327.9,255.4 328,227.8 328.1,233.3 328.2,256.8 328.4,262 328.5,237.1 328.6,269.8 328.7,237.6 328.8,241 328.9,266.6 329,229.3 329.1,251.1 329.2,272.8 329.3,233.5 329.4,249.8 329.5,253.7 329.6,250.5 329.7,253.3 329.8,259.2 329.9,250.6 330,249.1 330.1,260.2 330.2,255.9 330.3,261.5 330.4,222.2 330.6,239.2 330.7,252.2 330.8,281.5 330.9,222.5 331,256.1 331.1,241.2 331.2,255.4 331.3,229.3 331.4,230.5 331.5,232.1 331.6,247.6 331.7,239.1 331.8,267.4 331.9,265 332,265.3 332.1,232.9 332.2,244.4 332.3,251.9 332.4,218.1 332.5,209.5 332.6,230.3 332.8,230.9 332.9,212.6 333,234.8 333.1,212.1 333.2,214.9 333.3,242.3 333.4,252 333.5,253.5 333.6,237.7 333.7,237 333.8,240.6 333.9,222 334,246.2 334.1,201.1 334.2,241.2 334.3,237.7 334.4,249.2 334.5,243 334.6,213.8 334.7,211.4 334.9,223.8 335,220.6 335.1,239.4 335.2,212.5 335.3,209.6 335.4,231.6 335.5,224 335.6,204.4 335.7,222.9 335.8,251.3 335.9,213.4 336,199.2 336.1,223.9 336.2,242 336.3,260.7 336.4,240.4 336.5,234.3 336.6,237.8 336.7,222.1 336.8,246.1 336.9,263.5 337.1,220.7 337.2,242 337.3,225.2 337.4,221.3 337.5,234 337.6,243.5 337.7,238.5 337.8,248.9 337.9,225.8 338,261.8 338.1,220.9 338.2,226.4 338.3,252.3 338.4,264.6 338.5,258.4 338.6,248.7 338.7,222.5 338.8,233.7 338.9,231.8 339,249.7 339.1,245.3 339.3,252.6 339.4,229.7 339.5,234.1 339.6,216.7 339.7,228 339.8,252.1 339.9,244.1 340,231.4 340.1,221.8 340.2,250 340.3,262.8 340.4,257.6 340.5,253.6 340.6,262.6 340.7,237.2 340.8,229.9 340.9,246.9 341,257.7 341.1,240.7 341.2,259.6 341.3,254.7 341.5,253.6 341.6,236.4 341.7,232.3 341.8,228 341.9,239 342,226.8 342.1,259.7 342.2,230.5 342.3,232.1 342.4,220.7 342.5,252.3 342.6,231.1 342.7,230.8 342.8,245 342.9,235.9 343,227.1 343.1,256.8 343.2,227.5 343.3,263.4 343.4,234.6 343.5,253.3 343.7,228.2 343.8,246.6 343.9,233.9 344,212.4 344.1,248.7 344.2,226.1 344.3,209 344.4,232.5 344.5,240.5 344.6,243.8 344.7,241.1 344.8,223.4 344.9,231.2 345,232.9 345.1,231.1 345.2,241.2 345.3,241 345.4,229.5 345.5,253.2 345.6,244.8 345.7,219 345.9,243.2 346,218.1 346.1,215.4 346.2,239 346.3,223.4 346.4,249.6 346.5,225.3 346.6,224.4 346.7,237.9 346.8,231.3 346.9,246.1 347,235.7 347.1,243.5 347.2,268.2 347.3,227.7 347.4,251.8 347.5,257.1 347.6,250 347.7,242.6 347.8,260.6 348,264.3 348.1,256.5 348.2,245.9 348.3,267.2 348.4,257.9 348.5,242.7 348.6,238.5 348.7,261.5 348.8,239 348.9,261.2 349,246.9 349.1,253.4 349.2,236 349.3,228.8 349.4,235.3 349.5,252.3 349.6,256 349.7,253 349.8,241.6 349.9,228.7 350,247.4 350.2,256.6 350.3,246.1 350.4,239.1 350.5,210.2 350.6,235.5 350.7,237.2 350.8,249.2 350.9,240.8 351,235.7 351.1,218.1 351.2,227 351.3,249.4 351.4,216.8 351.5,209 351.6,238.6 351.7,243.9 351.8,221.7 351.9,216 352,227.3 352.1,230.5 352.2,221.6 352.4,206 352.5,230.4 352.6,240.9 352.7,221.7 352.8,244.3 352.9,221 353,240.8 353.1,234.4 353.2,224.9 353.3,231 353.4,240.9 353.5,212.6 353.6,239.9 353.7,233.4 353.8,227 353.9,232.8 354,219.8 354.1,222.9 354.2,236.8 354.3,220.8 354.4,254.6 354.6,241.5 354.7,232.9 354.8,233.6 354.9,223.3 355,232.9 355.1,244.3 355.2,226.4 355.3,236.6 355.4,248.3 355.5,236.9 355.6,249.8 355.7,234.5 355.8,256.3 355.9,248.1 356,249 356.1,251.5 356.2,236.8 356.3,241.5 356.4,233.9 356.5,228.7 356.6,241.5 356.8,230.8 356.9,256.5 357,258.5 357.1,239 357.2,251.8 357.3,232.8 357.4,248.1 357.5,239.7 357.6,237.9 357.7,232.3 357.8,260.4 357.9,236.9 358,267.4 358.1,233 358.2,243.5 358.3,228.9 358.4,251.4 358.5,232.7 358.6,257.3 358.7,233.9 358.8,252.1 359,246.3 359.1,264.7 359.2,240.2 359.3,238.9 359.4,257.3 359.5,252.3 359.6,228.2 359.7,242.1 359.8,240.4 359.9,238.6 360,239 360.1,257 360.2,253.9 360.3,256.8 360.4,259.4 360.5,238.5 360.6,234.9 360.7,249.6 360.8,233.6 360.9,239.5 361.1,250.8 361.2,256.8 361.3,257.1 361.4,258.9 361.5,245.9 361.6,245.9 361.7,249.7 361.8,250.6 361.9,248.3 362,264.6 362.1,248.1 362.2,267.5 362.3,247.9 362.4,269 362.5,257.2 362.6,259.3 362.7,257.3 362.8,274.4 362.9,267.7 363,240.6 363.1,266.7 363.3,258.7 363.4,268.6 363.5,248.6 363.6,256.7 363.7,246.5 363.8,262.8 363.9,246.2 364,255.9 364.1,277.3 364.2,251.2 364.3,244 364.4,267.7 364.5,259.1 364.6,255.5 364.7,270.8 364.8,277.8 364.9,247.7 365,271 365.1,256.7 365.2,247.9 365.3,248 365.5,274 365.6,257 365.7,257.6 365.8,245 365.9,276.9 366,269.7 366.1,262.9 366.2,257.1 366.3,270.2 366.4,270.7 366.5,262.9 366.6,256.1 366.7,255.8 366.8,247.4 366.9,266.3 367,255.6 367.1,266 367.2,258.8 367.3,245.4 367.4,251.3 367.5,254.9 367.7,275.3 367.8,248.5 367.9,254.6 368,263.7 368.1,265.5 368.2,249 368.3,268.3 368.4,255.9 368.5,276.8 368.6,265.6 368.7,253.2 368.8,269.7 368.9,261.2 369,277.3 369.1,279.7 369.2,271.4 369.3,271.4 369.4,279.4 369.5,273.7 369.6,254.9 369.7,255.2 369.9,275.5 370,260.8 370.1,284.6 370.2,266.6 370.3,256.3 370.4,272.4 370.5,268.3 370.6,270 370.7,276.9 370.8,276.1 370.9,253.4 371,289.8 371.1,275.5 371.2,254 371.3,263.3 371.4,270.2 371.5,246.6 371.6,275.6 371.7,247.4 371.8,251.8 372,249.4 372.1,246.5 372.2,258.1 372.3,248.1 372.4,265.2 372.5,237 372.6,245.5 372.7,253.2 372.8,250.5 372.9,250.2 373,244.5 373.1,258.3 373.2,258.5 373.3,259.9 373.4,241.3 373.5,243.9 373.6,256.5 373.7,246.2 373.8,246.5 373.9,252.1 374,245.3 374.2,242.4 374.3,261.5 374.4,232.9 374.5,238.2 374.6,255.3 374.7,258.4 374.8,241.9 374.9,239.2 375,232.8 375.1,251.4 375.2,241.8 375.3,242.5 375.4,251.8 375.5,260.8 375.6,250.1 375.7,233.1 375.8,253.8 375.9,252.7 376,244 376.1,235.2 376.2,238.6 376.4,235.9 376.5,237.9 376.6,240.5 376.7,238.9 376.8,248.8 376.9,245.4 377,240 377.1,251.5 377.2,250.4 377.3,237.3 377.4,251.5 377.5,235.5 377.6,245.8 377.7,244.5 377.8,238.8 377.9,227.2 378,236 378.1,246.5 378.2,246.2 378.3,226 378.4,247.2 378.6,246.3 378.7,232.3 378.8,251.1 378.9,232.2 379,233.6 379.1,241.4 379.2,227.3 379.3,244.8 379.4,235.2 379.5,253.3 379.6,240.2 379.7,244.2 379.8,238.7 379.9,223.7 380,238.2 380.1,261.4 380.2,235.5 380.3,245.3 380.4,245 380.5,234.5 380.6,262.6 380.8,249.8 380.9,258.9 381,245.1 381.1,255.6 381.2,243.2 381.3,242.8 381.4,241.6 381.5,252.5 381.6,252.2 381.7,256.7 381.8,235.5 381.9,260.9 382,240 382.1,230.9 382.2,247.1 382.3,226.5 382.4,243.5 382.5,229.9 382.6,253.5 382.7,252.9 382.8,230.1 383,245.6 383.1,256.5 383.2,250.5 383.3,245.8 383.4,249.1 383.5,261.1 383.6,254.4 383.7,233.1 383.8,238.5 383.9,250.1 384,237.4 384.1,247.9 384.2,236.6 384.3,245.7 384.4,247.5 384.5,231.5 384.6,249.1 384.7,250.8 384.8,239.9 384.9,255.4 385.1,240.3 385.2,226.9 385.3,236.6 385.4,236.8 385.5,223.8 385.6,246.7 385.7,228.4 385.8,245.5 385.9,230 386,248.1 386.1,236.6 386.2,246.1 386.3,236.8 386.4,244.4 386.5,250.1 386.6,247 386.7,240.9 386.8,254.7 386.9,241.5 387,232.7 387.1,257.4 387.3,246.7 387.4,268.7 387.5,268.7 387.6,244.2 387.7,243.8 387.8,260.7 387.9,254.8 388,240.8 388.1,269.5 388.2,247 388.3,257.9 388.4,262.2 388.5,258.7 388.6,269.1 388.7,244.2 388.8,269.3 388.9,249.9 389,263.5 389.1,253.9 389.2,271.9 389.3,241.4 389.5,259.8 389.6,261.5 389.7,249.8 389.8,262.6 389.9,259.8 390,270.3 390.1,257 390.2,268.8 390.3,245.5 390.4,259.5 390.5,259.6 390.6,253.2 390.7,258.6 390.8,249 390.9,242.2 391,265.3 391.1,239.3 391.2,259.1 391.3,264.6 391.4,261.4 391.5,263.5 391.7,250.5 391.8,269.9 391.9,263.8 392,268.2 392.1,272.8 392.2,265.8 392.3,244.4 392.4,246 392.5,260.3 392.6,257.3 392.7,261.4 392.8,253.2 392.9,249 393,245.1 393.1,274.1 393.2,240.2 393.3,242.3 393.4,271.9 393.5,269.2 393.6,243.5 393.7,267.3 393.9,263.2 394,255.7 394.1,257.2 394.2,241.5 394.3,268.5 394.4,258.3 394.5,266.9 394.6,260.1 394.7,258.1 394.8,255.7 394.9,262.5 395,248.8 395.1,252.6 395.2,251.7 395.3,267.4 395.4,263.9 395.5,246.2 395.6,262.5 395.7,272.1 395.8,242 396,270.8 396.1,269.6 396.2,268 396.3,271.9 396.4,269.6 396.5,269 396.6,253.3 396.7,267.7 396.8,258.3 396.9,241 397,243.3 397.1,252.5 397.2,269.3 397.3,276.7 397.4,262.9 397.5,269.1 397.6,242.9 397.7,273.8 397.8,247.3 397.9,256.3 398,272.1 398.2,255.2 398.3,250.2 398.4,269.6 398.5,244.1 398.6,246.4 398.7,249.9 398.8,251.4 398.9,243.8 399,264.7 399.1,264.2 399.2,258.9 399.3,265 399.4,252.4 399.5,252.5 399.6,271.5 399.7,279.6 399.8,282.8 399.9,269.5 400,274.7 400.1,266.8 400.2,248.3 400.4,251.6 400.5,254 400.6,275 400.7,274.2 400.8,280 400.9,277.2 401,271.9 401.1,283.2 401.2,265.4 401.3,291.3 401.4,250 401.5,285.3 401.6,282.3 401.7,282.5 401.8,278.1 401.9,279.9 402,262.3 402.1,273.6 402.2,274.8 402.3,271.9 402.4,283.6 402.6,261.7 402.7,272.3 402.8,265.4 402.9,295.4 403,280.8 403.1,278.1 403.2,279.3 403.3,273.3 403.4,267.5 403.5,269.4 403.6,273.7 403.7,262.2 403.8,265.9 403.9,271.3 404,283.9 404.1,263.4 404.2,275.3 404.3,285.9 404.4,247.5 404.5,247.7 404.6,278.5 404.8,279.9 404.9,261.8 405,259.8 405.1,276.8 405.2,269 405.3,275.7 405.4,262.3 405.5,268.2 405.6,277 405.7,263 405.8,283.5 405.9,264.5 406,269.5 406.1,269.2 406.2,289.6 406.3,275 406.4,282.1 406.5,291.5 406.6,285 406.7,273.9 406.8,259.8 407,276.7 407.1,283.7 407.2,270.1 407.3,278.6 407.4,255.1 407.5,264.2 407.6,275.2 407.7,253.8 407.8,263.5 407.9,249.2 408,265.2 408.1,255.2 408.2,251.4 408.3,247.6 408.4,263.6 408.5,258.4 408.6,255.8 408.7,260.2 408.8,244.2 408.9,242.8 409.1,261.9 409.2,272.1 409.3,263.2 409.4,275.7 409.5,278.9 409.6,263.5 409.7,267.4 409.8,256.9 409.9,278.9 410,273.1 410.1,264.8 410.2,245 410.3,278.8 410.4,241.9 410.5,273.8 410.6,258.3 410.7,263.6 410.8,237.2 410.9,269.1 411,255.7 411.1,249 411.3,269.2 411.4,259.9 411.5,249.8 411.6,272.1 411.7,267.7 411.8,248.4 411.9,252.7 412,281 412.1,265.1 412.2,263.1 412.3,264.7 412.4,259.5 412.5,261.7 412.6,265.8 412.7,276 412.8,270.6 412.9,276.9 413,272.3 413.1,281.1 413.2,248.5 413.3,283.5 413.5,287.9 413.6,280.3 413.7,253.8 413.8,263.1 413.9,255.6 414,259.5 414.1,262.8 414.2,280.5 414.3,262.7 414.4,261.6 414.5,259.5 414.6,255.6 414.7,286.4 414.8,266.2 414.9,239.6 415,259.2 415.1,252.6 415.2,257.4 415.3,256.7 415.4,230.3 415.5,267.2 415.7,249.4 415.8,260.7 415.9,259.3 416,253.8 416.1,239.5 416.2,247.2 416.3,234.8 416.4,241.8 416.5,243 416.6,239.8 416.7,244.8 416.8,224.8 416.9,247.8 417,248.5 417.1,236.2 417.2,260.1 417.3,260.9 417.4,268.5 417.5,251.2 417.6,243.1 417.7,239.1 417.9,252 418,243.3 418.1,241.3 418.2,250.2 418.3,226.5 418.4,247.9 418.5,262.7 418.6,253.4 418.7,254.3 418.8,259.7 418.9,249.6 419,226.3 419.1,228.7 419.2,258.7 419.3,239.5 419.4,241.2 419.5,236.1 419.6,257.3 419.7,240.3 419.8,242.6 420,232.2 420.1,237.7 420.2,257.8 420.3,235.8 420.4,254.6 420.5,243.4 420.6,266.8 420.7,236.6 420.8,244.3 420.9,243.8 421,239 421.1,248.8 421.2,240 421.3,260.8 421.4,273.4 421.5,253.4 421.6,258.8 421.7,259.7 421.8,253.8 421.9,240.6 422,229.4 422.2,233.3 422.3,225.9 422.4,239.5 422.5,240.5 422.6,244.2 422.7,230.9 422.8,250.1 422.9,259.1 423,250.5 423.1,227 423.2,236.4 423.3,249.9 423.4,230.1 423.5,255.4 423.6,236.5 423.7,229.8 423.8,234.5 423.9,244 424,235.5 424.1,256.9 424.2,238.5 424.4,256.9 424.5,228.7 424.6,250.7 424.7,226.8 424.8,232 424.9,233 425,225.7 425.1,250.4 425.2,235.5 425.3,235.3 425.4,248.4" fill="none" stroke="#1414ff" stroke-width="0.55"/>
<polygon points="268.3,301.9 268.6,303 269,302.9 269.3,303.6 269.6,304.5 270,304.6 270.3,305.8 270.7,305.7 271,305.6 271.3,307.2 271.7,308.2 272,307.9 272.3,309.1 272.7,310.8 273,312.8 273.4,315.2 273.7,314.8 274,315.9 274.4,316.3 274.7,316.6 275,316.4 275.4,314.3 275.7,314.4 276,312.2 276.4,311.3 276.7,310.3 277.1,310.4 277.4,310.7 277.7,309.8 278.1,310.7 278.4,309.2 278.7,310.2 279.1,310.1 279.4,309.6 279.8,310 280.1,309.2 280.4,309.2 280.8,309.5 281.1,309.1 281.4,307.8 281.8,308.2 282.1,306.5 282.4,305.1 282.8,304.6 283.1,304.1 283.5,303.7 283.8,304.2 284.1,305.8 284.5,305.9 284.8,306.5 285.1,308.3 285.5,308.4 285.8,309.7 286.2,310.6 286.5,309.8 286.8,309.5 287.2,310.6 287.5,310.6 287.8,310.1 288.2,309.3 288.5,309.3 288.8,308.7 289.2,308.1 289.5,308.8 289.9,307 290.2,309 290.5,308.7 290.9,307.3 291.2,307.8 291.5,309.5 291.9,310.8 292.2,312.5 292.6,312.5 292.9,313 293.2,315 293.6,315 293.9,315 294.2,313.7 294.6,311.8 294.9,310.6 295.3,309.5 295.6,308.1 295.9,306.6 296.3,303.7 296.6,301.5 296.9,299.3 297.3,293.6 297.6,291.4 297.9,281 298.3,275.5 298.6,272.9 299,271.2 299.3,269.9 299.6,270.6 300,270.9 300.3,267.9 300.6,263.5 301,258.8 301.3,258.9 301.7,257.1 302,258.6 302.3,257.2 302.7,258.8 303,259.3 303.3,259.8 303.7,259.9 304,260.4 304.3,259.8 304.7,262.2 305,264.2 305.4,263.9 305.7,267.1 306,268 306.4,270.1 306.7,270.1 307,269.6 307.4,269.6 307.7,269 308.1,268.2 308.4,269 308.7,268.2 309.1,268.8 309.4,270.4 309.7,269.3 310.1,268.2 310.4,270.5 310.7,270.2 311.1,267.6 311.4,267.9 311.8,265.8 312.1,266.8 312.4,267.4 312.8,266.6 313.1,266.9 313.4,268.4 313.8,270.8 314.1,272.7 314.5,272.8 314.8,272.7 315.1,273.8 315.5,272.7 315.8,275.9 316.1,272.9 316.5,272.5 316.8,272.6 317.1,273.9 317.5,274 317.8,272.7 318.2,272.2 318.5,274.9 318.8,273.6 319.2,272.2 319.5,271.9 319.8,272.6 320.2,274.6 320.5,274.7 320.9,274.6 321.2,272.7 321.5,274.4 321.9,274.3 322.2,272.3 322.5,275.4 322.9,275.8 323.2,273.7 323.5,273.7 323.9,270.2 324.2,269.9 324.6,272 324.9,269.9 325.2,269.4 325.6,266.1 325.9,270.4 326.2,272.9 326.6,272.4 326.9,271.5 327.3,271.3 327.6,269.9 327.9,269.3 328.3,264.9 328.6,264.3 328.9,262.9 329.3,264.3 329.6,263.4 329.9,263.2 330.3,266.3 330.6,267.9 331,275.1 331.3,277.6 331.6,277 332,278.8 332.3,279.7 332.6,280.9 333,282.8 333.3,280.6 333.7,280.5 334,282.2 334.3,285.2 334.7,284.9 335,282.5 335.3,282.3 335.7,281 336,279.9 336.4,279.2 336.7,277.1 337,274.4 337.4,275.3 337.7,275.1 338,273 338.4,271.5 338.7,271 339,270.2 339.4,269.4 339.7,270.7 340.1,268 340.4,268.1 340.7,268.2 341.1,268.3 341.4,272.6 341.7,275.3 342.1,277 342.4,278.1 342.8,274.5 343.1,272 343.4,270.3 343.8,263.7 344.1,257.9 344.4,253.1 344.8,249.7 345.1,245.2 345.4,240.6 345.8,237.4 346.1,236.5 346.5,230.6 346.8,227.6 347.1,227 347.5,225.5 347.8,227.7 348.1,227.3 348.5,227.2 348.8,226.8 349.2,225.4 349.5,225.9 349.8,222.7 350.2,219.6 350.5,216.3 350.8,216.3 351.2,213.1 351.5,214.5 351.8,213.1 352.2,209.5 352.5,208.3 352.9,209 353.2,206.5 353.5,207.2 353.9,207.4 354.2,205.2 354.5,204.7 354.9,208.8 355.2,207.2 355.6,209.8 355.9,208 356.2,206 356.6,207.9 356.9,209.5 357.2,209.4 357.6,210.3 357.9,210.1 358.2,210.5 358.6,212.6 358.9,214.2 359.3,214.3 359.6,210.7 359.9,211.9 360.3,212.8 360.6,209.4 360.9,210.2 361.3,211.5 361.6,214.6 362,214 362.3,217.3 362.6,217.2 363,220.7 363.3,221.3 363.6,218.8 364,220.4 364.3,223.4 364.6,226 365,228.8 365.3,230.6 365.7,232.3 366,234.1 366.3,232.5 366.7,233.8 367,230.9 367.3,230.3 367.7,227.2 368,224.5 368.4,224.9 368.7,225.3 369,227.9 369.4,232.1 369.7,231.5 370,230 370.4,234.7 370.7,232.9 371,235.2 371.4,232.3 371.7,231.4 372.1,233.1 372.4,233.4 372.7,235.4 373.1,236.4 373.4,240 373.7,239.5 374.1,240.5 374.4,235.2 374.8,235.8 375.1,236 375.4,233.9 375.8,231.4 376.1,231 376.4,230 376.8,227.9 377.1,226.5 377.5,226.8 377.8,224.1 378.1,222.3 378.5,219.4 378.8,222.4 379.1,222 379.5,220 379.8,220.5 380.1,220.2 380.5,218.4 380.8,219.9 381.2,222.9 381.5,217.2 381.8,218.1 382.2,216.9 382.5,219.6 382.8,217.1 383.2,216.4 383.5,214.5 383.9,214 384.2,214.1 384.5,211.7 384.9,211.3 385.2,210.8 385.5,209.5 385.9,204.1 386.2,202.7 386.5,204.6 386.9,206.1 387.2,208.7 387.6,207.8 387.9,209.3 388.2,213.7 388.6,214.7 388.9,216.8 389.2,214.7 389.6,218.3 389.9,221.5 390.3,222.2 390.6,222.9 390.9,226 391.3,227.8 391.6,226.9 391.9,228.4 392.3,226.3 392.6,227.5 392.9,231 393.3,230.5 393.6,230.5 394,232.9 394.3,235.6 394.6,234.6 395,231.6 395.3,230.9 395.6,230.3 396,233.1 396.3,231.9 396.7,233.8 397,234.9 397.3,238.9 397.7,242.6 398,245.5 398.3,245.8 398.7,247.1 399,247.8 399.3,247.9 399.7,248.7 400,247.9 400.4,247.5 400.7,247.7 401,251.6 401.4,252 401.7,256.2 402,257.6 402.4,259 402.7,259.1 403.1,258.5 403.4,258 403.7,258.9 404.1,259.3 404.4,261.3 404.7,257.9 405.1,259.3 405.4,259.8 405.7,258.8 406.1,257.7 406.4,256.6 406.8,254.6 407.1,250.6 407.4,248 407.8,248.6 408.1,245.7 408.4,244.5 408.8,242.9 409.1,243.1 409.5,243.6 409.8,243.4 410.1,242.7 410.5,240.2 410.8,239.9 411.1,241.2 411.5,242.9 411.8,243.3 412.1,243.2 412.5,242.6 412.8,242.8 413.2,245.2 413.5,243.5 413.8,242.3 414.2,242.4 414.5,242.7 414.8,243.4 415.2,245.2 415.5,243.6 415.9,245.2 416.2,244.9 416.5,247.1 416.9,243.9 417.2,247.1 417.5,248.6 417.9,250.8 418.2,251.6 418.6,256 418.9,257.2 419.2,260.3 419.6,261.9 419.9,263.4 420.2,265.1 420.6,268.2 420.9,272.1 421.2,272.1 421.6,275.7 421.9,278.1 422.3,280.1 422.6,280.9 422.9,284.4 423.3,284 423.6,284.9 423.9,283.4 424.3,282.8 424.6,283.4 425,281.8 425.3,280.9 425.3,292.9 425,293.8 424.6,295.4 424.3,294.8 423.9,295.4 423.6,296.9 423.3,296 422.9,296.4 422.6,293.1 422.3,292.6 421.9,290.9 421.6,288.8 421.2,285.5 420.9,285.8 420.6,282.2 420.2,279.3 419.9,278 419.6,276.8 419.2,275.4 418.9,272.6 418.6,271.7 418.2,267.6 417.9,267 417.5,264.8 417.2,263.2 416.9,260 416.5,263.2 416.2,261 415.9,261.2 415.5,259.6 415.2,261.2 414.8,259.4 414.5,258.6 414.2,258.3 413.8,258.1 413.5,259.3 413.2,261 412.8,258.6 412.5,258.3 412.1,258.9 411.8,258.9 411.5,258.6 411.1,256.8 410.8,255.5 410.5,255.8 410.1,258.2 409.8,258.8 409.5,259 409.1,258.4 408.8,258.2 408.4,259.7 408.1,260.8 407.8,263.7 407.4,263.1 407.1,265.6 406.8,269.6 406.4,271.5 406.1,272.5 405.7,273.5 405.4,274.6 405.1,274 404.7,272.5 404.4,275.8 404.1,273.8 403.7,273.4 403.4,272.4 403.1,273.1 402.7,273.9 402.4,274 402,272.8 401.7,271.6 401.4,267.7 401,267.4 400.7,263.7 400.4,263.7 400,264.3 399.7,265.4 399.3,264.7 399,264.8 398.7,264.4 398.3,263.4 398,263.2 397.7,260.6 397.3,257.1 397,253.3 396.7,252.4 396.3,250.7 396,252.1 395.6,249.5 395.3,250.4 395,251.3 394.6,254.5 394.3,255.7 394,253.3 393.6,251.1 393.3,251.4 392.9,252 392.6,248.8 392.3,247.8 391.9,250.1 391.6,248.8 391.3,250 390.9,248 390.6,244.7 390.3,243.8 389.9,242.9 389.6,239.6 389.2,235.7 388.9,237.6 388.6,235.3 388.2,234.1 387.9,229.5 387.6,227.8 387.2,228.4 386.9,225.7 386.5,224 386.2,221.9 385.9,223.2 385.5,228.6 385.2,229.8 384.9,230.2 384.5,230.6 384.2,232.9 383.9,232.7 383.5,233.1 383.2,235 382.8,235.6 382.5,238.1 382.2,235.3 381.8,236.4 381.5,235.5 381.2,241.1 380.8,238 380.5,236.5 380.1,238.2 379.8,238.4 379.5,237.7 379.1,239.6 378.8,239.9 378.5,236.7 378.1,239.5 377.8,241.1 377.5,243.7 377.1,243.3 376.8,244.6 376.4,246.5 376.1,247.4 375.8,247.7 375.4,250.1 375.1,252 374.8,251.7 374.4,250.9 374.1,256.1 373.7,255.3 373.4,256.1 373.1,252.7 372.7,251.9 372.4,250.1 372.1,250 371.7,248.6 371.4,249.7 371,252.8 370.7,250.7 370.4,252.8 370,248.2 369.7,250 369.4,250.8 369,246.8 368.7,244.4 368.4,244.3 368,244.1 367.7,247 367.3,250.4 367,251.2 366.7,254.3 366.3,253.1 366,254.9 365.7,253.2 365.3,251.7 365,250.1 364.6,247.5 364.3,245 364,242.2 363.6,240.8 363.3,243.4 363,243 362.6,239.7 362.3,239.9 362,236.7 361.6,237.5 361.3,234.6 360.9,233.5 360.6,232.8 360.3,236.2 359.9,235.2 359.6,233.9 359.3,237.4 358.9,237.3 358.6,235.6 358.2,233.5 357.9,233.1 357.6,233.2 357.2,232.2 356.9,232.3 356.6,230.6 356.2,228.6 355.9,230.6 355.6,232.3 355.2,229.7 354.9,231.3 354.5,227.1 354.2,227.6 353.9,229.7 353.5,229.4 353.2,228.7 352.9,231.3 352.5,230.7 352.2,232 351.8,235.6 351.5,237.1 351.2,235.7 350.8,239 350.5,239 350.2,242.5 349.8,245.6 349.5,248.9 349.2,248.5 348.8,249.9 348.5,250.4 348.1,250.5 347.8,251 347.5,248.9 347.1,250.2 346.8,250.2 346.5,252.8 346.1,258.2 345.8,258.6 345.4,261.3 345.1,265.3 344.8,269.4 344.4,272.3 344.1,276.6 343.8,281.9 343.4,288 343.1,289.2 342.8,291.2 342.4,294.3 342.1,293 341.7,291.2 341.4,288.3 341.1,283.9 340.7,283.5 340.4,283.3 340.1,283.1 339.7,285.3 339.4,283.5 339,283.8 338.7,284 338.4,284.1 338,285 337.7,287.2 337.4,287.5 337,286.8 336.7,289.6 336.4,291.8 336,292.5 335.7,293.8 335.3,295.2 335,295.5 334.7,298 334.3,298.5 334,296 333.7,294.8 333.3,295.3 333,297.9 332.6,296.5 332.3,295.8 332,295.3 331.6,294 331.3,295.1 331,293 330.6,286.3 330.3,285.2 329.9,282.5 329.6,283.2 329.3,284.6 328.9,283.6 328.6,285.5 328.3,286.5 327.9,290.4 327.6,290.6 327.3,291.6 326.9,291.3 326.6,291.7 326.2,291.8 325.9,288.9 325.6,284.1 325.2,287 324.9,287 324.6,288.7 324.2,286.1 323.9,286 323.5,289.1 323.2,288.6 322.9,290.3 322.5,289.5 322.2,285.9 321.9,287.4 321.5,287.1 321.2,284.9 320.9,286.7 320.5,286.8 320.2,286.9 319.8,285 319.5,284.4 319.2,284.8 318.8,286.4 318.5,287.8 318.2,285.2 317.8,285.7 317.5,287.1 317.1,287.1 316.8,286 316.5,286 316.1,286.5 315.8,289.6 315.5,286.6 315.1,287.8 314.8,286.8 314.5,287 314.1,287 313.8,285.1 313.4,282.7 313.1,281.2 312.8,280.9 312.4,281.6 312.1,280.8 311.8,279.8 311.4,281.9 311.1,281.5 310.7,284 310.4,284.3 310.1,281.9 309.7,282.9 309.4,284 309.1,282.3 308.7,281.6 308.4,282.3 308.1,281.5 307.7,282.2 307.4,282.9 307,283.1 306.7,283.8 306.4,283.9 306,281.9 305.7,281.3 305.4,278.2 305,278.7 304.7,276.9 304.3,274.6 304,275.4 303.7,275 303.3,275.1 303,274.7 302.7,274.4 302.3,273 302,274.5 301.7,273.2 301.3,275.6 301,276.3 300.6,281.9 300.3,287.3 300,291.1 299.6,291.7 299.3,291.8 299,294 298.6,296.5 298.3,298.4 297.9,302.3 297.6,311.2 297.3,311.7 296.9,315.8 296.6,316.3 296.3,316.9 295.9,318.1 295.6,318 295.3,318.5 294.9,319.7 294.6,320.9 294.2,322.9 293.9,324.3 293.6,324.4 293.2,324.4 292.9,322.5 292.6,322.1 292.2,322.2 291.9,320.5 291.5,319.3 291.2,317.7 290.9,317.2 290.5,318.6 290.2,319 289.9,317.1 289.5,319 289.2,318.4 288.8,319.1 288.5,319.7 288.2,319.8 287.8,320.6 287.5,321.2 287.2,321.3 286.8,320.3 286.5,320.7 286.2,321.6 285.8,320.7 285.5,319.6 285.1,319.5 284.8,317.8 284.5,317.3 284.1,317.3 283.8,315.8 283.5,315.4 283.1,315.8 282.8,316.4 282.4,316.9 282.1,318.5 281.8,320.2 281.4,319.7 281.1,320.9 280.8,321.3 280.4,320.9 280.1,320.9 279.8,321.7 279.4,321.2 279.1,321.6 278.7,321.7 278.4,320.6 278.1,322.1 277.7,321.1 277.4,321.9 277.1,321.6 276.7,321.4 276.4,322.4 276,323.2 275.7,325.3 275.4,325.2 275,327.2 274.7,327.4 274.4,327.2 274,327 273.7,326 273.4,326.5 273,324.2 272.7,322.4 272.3,320.8 272,319.6 271.7,320.1 271.3,319.2 271,317.7 270.7,317.9 270.3,318.2 270,317.1 269.6,317.1 269.3,316.4 269,315.7 268.6,316 268.3,315" fill="#ff1a1a"/>
<polyline points="268.3,313.6 268.4,307.8 268.5,311.8 268.6,314.2 268.7,300.7 268.9,306.3 269,305.7 269.1,310 269.2,308.7 269.3,315.5 269.4,312.7 269.5,311.7 269.6,303.2 269.8,315 269.9,304.4 270,321.6 270.1,318.7 270.2,308.6 270.3,318.8 270.4,305.4 270.5,310.3 270.7,314.1 270.8,319.6 270.9,308.1 271,311.2 271.1,319.2 271.2,312.7 271.3,315.6 271.4,307.5 271.6,320.4 271.7,308.8 271.8,315.6 271.9,313.2 272,308.5 272.1,308.6 272.2,318.6 272.3,313.1 272.5,318.7 272.6,308.6 272.7,306.5 272.8,313.5 272.9,313.7 273,318.5 273.1,317.2 273.2,320.9 273.4,325.8 273.5,324.1 273.6,327.6 273.7,322.8 273.8,324.3 273.9,325.7 274,315.6 274.1,320 274.3,324.8 274.4,319.5 274.5,315.3 274.6,316.4 274.7,328.7 274.8,322.1 274.9,313 275,325.4 275.1,321.9 275.3,312.1 275.4,317.4 275.5,315.7 275.6,316.7 275.7,327.2 275.8,317.9 275.9,323.2 276,312.4 276.2,319.7 276.3,316.5 276.4,316.6 276.5,312.8 276.6,318.7 276.7,312.7 276.8,311.6 276.9,320.7 277.1,310.4 277.2,315.9 277.3,323.7 277.4,323.5 277.5,313 277.6,314.5 277.7,320.1 277.8,318.5 278,318.9 278.1,314.2 278.2,316.7 278.3,315.2 278.4,313.3 278.5,318.6 278.6,307 278.7,316.5 278.9,323.2 279,311.8 279.1,317 279.2,312.7 279.3,310.3 279.4,316.3 279.5,321.5 279.6,315.1 279.8,319.1 279.9,308.2 280,310.4 280.1,309.1 280.2,313.9 280.3,312.7 280.4,318.1 280.5,317.7 280.7,324.7 280.8,318.9 280.9,316.4 281,325.4 281.1,306.4 281.2,314.3 281.3,321.7 281.4,305 281.6,320.6 281.7,320.1 281.8,317.6 281.9,320.8 282,315.6 282.1,306.6 282.2,314.7 282.3,307.1 282.4,317.9 282.6,304.3 282.7,310.6 282.8,307.9 282.9,301.2 283,311.9 283.1,312.4 283.2,305.4 283.3,308.4 283.5,314.5 283.6,314.7 283.7,308.5 283.8,309.9 283.9,311.2 284,302.9 284.1,308.9 284.2,306.8 284.4,315.7 284.5,308.8 284.6,315.6 284.7,313.2 284.8,314.1 284.9,313.1 285,311.4 285.1,312 285.3,309.6 285.4,311.4 285.5,312.8 285.6,315.7 285.7,313.2 285.8,314.9 285.9,314.9 286,316.1 286.2,322 286.3,312 286.4,322.2 286.5,314.2 286.6,312 286.7,320.7 286.8,317.7 286.9,317.9 287.1,313 287.2,312.4 287.3,314.1 287.4,312.5 287.5,318.5 287.6,313.4 287.7,311.1 287.8,313.8 288,321.1 288.1,320.3 288.2,315.8 288.3,312.7 288.4,311.4 288.5,315.4 288.6,311.9 288.7,311.3 288.8,316.6 289,309.6 289.1,308.7 289.2,311.4 289.3,320.3 289.4,309.6 289.5,316.7 289.6,308.1 289.7,318.9 289.9,316.6 290,314.1 290.1,311.6 290.2,316.5 290.3,314.5 290.4,313.8 290.5,317.8 290.6,320 290.8,309.7 290.9,311.5 291,313.9 291.1,312.8 291.2,317.8 291.3,312.9 291.4,316.2 291.5,313.2 291.7,312.2 291.8,309.2 291.9,313.2 292,317.8 292.1,309.7 292.2,313.9 292.3,310.9 292.4,317.3 292.6,311.3 292.7,316.1 292.8,317.5 292.9,318.5 293,319.9 293.1,322.3 293.2,317.6 293.3,326.3 293.5,326.2 293.6,319.3 293.7,316.7 293.8,321.8 293.9,320.2 294,318.1 294.1,319.5 294.2,321.1 294.4,318.9 294.5,311.5 294.6,318.1 294.7,313.5 294.8,313.8 294.9,312.3 295,313.1 295.1,310.5 295.3,307 295.4,310.9 295.5,315.8 295.6,317.8 295.7,307.7 295.8,314 295.9,308 296,318.8 296.1,312.1 296.3,305.6 296.4,317.5 296.5,308.8 296.6,309.7 296.7,305.1 296.8,316.8 296.9,317.8 297,312.4 297.2,313.9 297.3,302.6 297.4,313.9 297.5,290.9 297.6,291.9 297.7,303.7 297.8,290.5 297.9,299.5 298.1,298.8 298.2,271.4 298.3,295.9 298.4,276.9 298.5,268 298.6,298.8 298.7,273.7 298.8,281.5 299,281.2 299.1,294.1 299.2,278.5 299.3,272.9 299.4,283.6 299.5,268.7 299.6,289.5 299.7,273.2 299.9,284.9 300,291.2 300.1,279.1 300.2,276.1 300.3,264 300.4,289.6 300.5,272.8 300.6,268.8 300.8,259.4 300.9,281.1 301,273.6 301.1,266.2 301.2,268.5 301.3,273.5 301.4,274 301.5,258.3 301.7,270 301.8,261.3 301.9,279.2 302,273.8 302.1,259.7 302.2,261.1 302.3,254 302.4,256.1 302.5,263.4 302.7,266.3 302.8,263.7 302.9,279.1 303,273.6 303.1,274.2 303.2,264.4 303.3,269.5 303.4,265.1 303.6,273.2 303.7,263.8 303.8,269.5 303.9,272.9 304,266.8 304.1,275.2 304.2,264.7 304.3,273.1 304.5,269.1 304.6,264.4 304.7,262.3 304.8,261.9 304.9,282.9 305,273.1 305.1,267.1 305.2,274.8 305.4,277.9 305.5,275 305.6,268.9 305.7,274.4 305.8,273.4 305.9,270 306,274.5 306.1,268.8 306.3,266.1 306.4,275.6 306.5,271.5 306.6,278.3 306.7,270.9 306.8,275.2 306.9,276.8 307,276.2 307.2,284.1 307.3,272 307.4,273.5 307.5,274.2 307.6,270.2 307.7,274.3 307.8,282.4 307.9,269.9 308.1,277.2 308.2,278.2 308.3,274.3 308.4,274.4 308.5,268 308.6,278.2 308.7,278.6 308.8,275.4 309,269.9 309.1,265.9 309.2,269.4 309.3,277.9 309.4,271.1 309.5,273.4 309.6,275.6 309.7,275.7 309.8,264.4 310,278.7 310.1,263.2 310.2,269.1 310.3,284.8 310.4,270.4 310.5,271.1 310.6,277.6 310.7,266 310.9,277.1 311,269.6 311.1,274.6 311.2,266.5 311.3,271 311.4,280.4 311.5,264.2 311.6,277.7 311.8,271.8 311.9,279.1 312,279 312.1,265 312.2,267.3 312.3,273 312.4,280.8 312.5,275.1 312.7,281.1 312.8,267.7 312.9,279.4 313,279.2 313.1,279.6 313.2,270.3 313.3,280.8 313.4,272.3 313.6,277.3 313.7,288.7 313.8,276.8 313.9,277.3 314,280.6 314.1,283.8 314.2,285.8 314.3,274 314.5,280.3 314.6,281.6 314.7,275.6 314.8,286.3 314.9,271.5 315,284 315.1,287.1 315.2,281.9 315.4,279.2 315.5,274.9 315.6,284.4 315.7,280.8 315.8,288.6 315.9,275 316,287.2 316.1,278.9 316.2,269 316.4,274.3 316.5,282.5 316.6,273.5 316.7,270.6 316.8,273.6 316.9,280.7 317,289.2 317.1,279.9 317.3,286.2 317.4,290.1 317.5,280.8 317.6,279.9 317.7,279.6 317.8,273.1 317.9,291.3 318,268.1 318.2,280.6 318.3,277.6 318.4,278.3 318.5,287.1 318.6,285.3 318.7,279.3 318.8,277.8 318.9,287 319.1,281.4 319.2,282 319.3,284.5 319.4,276 319.5,285.7 319.6,277 319.7,275.8 319.8,279.4 320,277.4 320.1,278.1 320.2,289.7 320.3,273.1 320.4,275.4 320.5,274.2 320.6,277.7 320.7,280.3 320.9,276.2 321,280.6 321.1,283 321.2,276.1 321.3,273.1 321.4,286.9 321.5,282.9 321.6,285.9 321.8,274.7 321.9,274.5 322,278.6 322.1,288.4 322.2,274.7 322.3,274 322.4,278.1 322.5,281.5 322.7,286.1 322.8,290.6 322.9,283.6 323,285.8 323.1,277 323.2,276 323.3,281.9 323.4,279.7 323.5,287.9 323.7,288.4 323.8,288.8 323.9,275.2 324,281.4 324.1,282.8 324.2,270.8 324.3,271.5 324.4,294.4 324.6,290.8 324.7,291.1 324.8,287.9 324.9,287.5 325,283.9 325.1,284.6 325.2,279.5 325.3,277 325.5,271.4 325.6,280.7 325.7,270.7 325.8,289.4 325.9,282.9 326,279.8 326.1,278 326.2,272 326.4,295.3 326.5,293.3 326.6,276.5 326.7,280.2 326.8,299.1 326.9,292.3 327,285.6 327.1,283.5 327.3,275.3 327.4,285.8 327.5,280.8 327.6,290.6 327.7,280.7 327.8,277.5 327.9,274.2 328,278.5 328.2,279.3 328.3,267 328.4,276.2 328.5,285.2 328.6,287.6 328.7,271.2 328.8,268.1 328.9,272.5 329.1,279.9 329.2,270.6 329.3,275.3 329.4,280.5 329.5,287.1 329.6,264.1 329.7,286.3 329.8,280.7 329.9,264 330.1,263.6 330.2,282.2 330.3,277.1 330.4,267.4 330.5,287.5 330.6,285.9 330.7,283.4 330.8,275.9 331,292.1 331.1,275.6 331.2,271.6 331.3,284.4 331.4,285.6 331.5,283.2 331.6,281.3 331.7,276.4 331.9,284.9 332,290.9 332.1,282.1 332.2,287.6 332.3,290.5 332.4,281.9 332.5,286.1 332.6,291.3 332.8,297.7 332.9,291.9 333,281.3 333.1,285.2 333.2,281.7 333.3,295.8 333.4,286.6 333.5,287.7 333.7,284.1 333.8,293 333.9,287.1 334,293.8 334.1,289.8 334.2,298.1 334.3,296.9 334.4,284.4 334.6,291.6 334.7,296.1 334.8,288.5 334.9,285.3 335,284.3 335.1,289.8 335.2,287.8 335.3,297.6 335.5,288.7 335.6,288.2 335.7,280 335.8,285.2 335.9,288.5 336,293.8 336.1,292.6 336.2,279.7 336.4,282.6 336.5,278.7 336.6,279.2 336.7,280.4 336.8,277.5 336.9,288.8 337,291.4 337.1,272 337.2,279.3 337.4,271.2 337.5,284 337.6,285.5 337.7,282.4 337.8,283.3 337.9,273.7 338,270 338.1,277.8 338.3,281.3 338.4,276.6 338.5,270.9 338.6,271.5 338.7,266.7 338.8,277.8 338.9,271.9 339,267.1 339.2,275.1 339.3,274.3 339.4,275.5 339.5,284.3 339.6,279.9 339.7,289.7 339.8,268.4 339.9,273.5 340.1,272.5 340.2,278.2 340.3,274.6 340.4,279.6 340.5,263.4 340.6,273 340.7,285.5 340.8,280.1 341,275.4 341.1,274.4 341.2,278.8 341.3,279.3 341.4,279.8 341.5,284.6 341.6,283.1 341.7,287 341.9,276.9 342,276.9 342.1,299 342.2,280.3 342.3,292.8 342.4,277.3 342.5,279.6 342.6,291.2 342.8,268.5 342.9,286.5 343,288.2 343.1,284.6 343.2,284.7 343.3,283.5 343.4,265.7 343.5,284.5 343.6,267.3 343.8,279.3 343.9,264.1 344,265 344.1,259.1 344.2,265 344.3,266 344.4,268.9 344.5,250.1 344.7,254.2 344.8,260.6 344.9,266.2 345,252 345.1,246.7 345.2,246.7 345.3,250.3 345.4,260.5 345.6,247.3 345.7,263.2 345.8,237.9 345.9,235.9 346,236.8 346.1,243.6 346.2,235.3 346.3,238.1 346.5,233.1 346.6,254.7 346.7,225.5 346.8,247.4 346.9,242.7 347,223.2 347.1,251.7 347.2,232.1 347.4,251.2 347.5,242.5 347.6,252.3 347.7,237.7 347.8,239.8 347.9,238.2 348,248.5 348.1,247.5 348.3,240.8 348.4,225.8 348.5,239.5 348.6,239.8 348.7,241.9 348.8,241.2 348.9,246 349,231.1 349.2,252.8 349.3,229.3 349.4,231.9 349.5,235.1 349.6,232.1 349.7,243.7 349.8,220 349.9,223 350.1,225.8 350.2,227.7 350.3,244.5 350.4,217.9 350.5,242.1 350.6,222.5 350.7,230.7 350.8,216 350.9,226.3 351.1,230.4 351.2,212.6 351.3,216.1 351.4,211 351.5,221.1 351.6,218.3 351.7,226.1 351.8,238.6 352,220 352.1,232.6 352.2,205.2 352.3,230.8 352.4,216.3 352.5,213.2 352.6,221.8 352.7,212.8 352.9,210.9 353,223.4 353.1,222.6 353.2,205.4 353.3,227.8 353.4,202.5 353.5,218.4 353.6,212.7 353.8,233.3 353.9,219.2 354,203.8 354.1,216.7 354.2,229.8 354.3,202 354.4,208.7 354.5,218.4 354.7,216.6 354.8,208.8 354.9,218.4 355,230.2 355.1,208.8 355.2,215.8 355.3,212.3 355.4,221.1 355.6,211.4 355.7,230 355.8,202.5 355.9,232.3 356,208.8 356.1,228.7 356.2,218.7 356.3,236.6 356.5,227.5 356.6,218.1 356.7,229.3 356.8,234.8 356.9,218.3 357,227.9 357.1,215.1 357.2,225.8 357.3,222.3 357.5,217 357.6,219.7 357.7,227 357.8,223.9 357.9,230.6 358,214 358.1,213 358.2,222.8 358.4,229 358.5,216.1 358.6,222.3 358.7,210.6 358.8,217.7 358.9,235.3 359,216.1 359.1,229.6 359.3,210.7 359.4,220.7 359.5,232.3 359.6,228.5 359.7,215.4 359.8,216.7 359.9,210.6 360,217.5 360.2,217.6 360.3,218.6 360.4,215.6 360.5,218.4 360.6,217.9 360.7,228.9 360.8,230.7 360.9,240.6 361.1,227.8 361.2,237.8 361.3,204.1 361.4,221.9 361.5,237.8 361.6,233.1 361.7,227.8 361.8,239.4 362,239.1 362.1,225.7 362.2,216.9 362.3,221.8 362.4,219 362.5,242.3 362.6,238.1 362.7,241.7 362.9,232.6 363,242.1 363.1,238.1 363.2,232.8 363.3,217.4 363.4,231.4 363.5,222 363.6,238.4 363.8,240.3 363.9,239.2 364,245.8 364.1,233 364.2,228 364.3,245 364.4,230.6 364.5,239.9 364.6,245.7 364.8,247.6 364.9,246.7 365,243.3 365.1,230.8 365.2,239.5 365.3,240 365.4,234.8 365.5,256.7 365.7,233.6 365.8,244.5 365.9,230.7 366,258.5 366.1,261.8 366.2,241.6 366.3,227.7 366.4,233.5 366.6,237.4 366.7,249.8 366.8,237.6 366.9,245.7 367,254.6 367.1,232.8 367.2,232.6 367.3,227.1 367.5,250.7 367.6,236.9 367.7,249.2 367.8,241.1 367.9,241.2 368,235.9 368.1,243.3 368.2,230.6 368.4,233.9 368.5,234 368.6,244.7 368.7,235.6 368.8,234.4 368.9,239.5 369,230.6 369.1,246.1 369.3,232.5 369.4,247.8 369.5,255.1 369.6,240.2 369.7,236.4 369.8,233.9 369.9,245.2 370,252.4 370.2,241 370.3,231.5 370.4,235.6 370.5,249.9 370.6,250.9 370.7,234.8 370.8,238.4 370.9,246.1 371,257 371.2,240.9 371.3,249.3 371.4,240.4 371.5,245.3 371.6,239.2 371.7,226.4 371.8,243 371.9,250 372.1,234.5 372.2,230.7 372.3,239.6 372.4,238.8 372.5,233.4 372.6,244.9 372.7,237.2 372.8,238.2 373,244.5 373.1,247.1 373.2,252.9 373.3,257.9 373.4,247.3 373.5,251.8 373.6,247.9 373.7,252.1 373.9,257.8 374,244.3 374.1,244.3 374.2,241.9 374.3,246.1 374.4,247 374.5,247.3 374.6,251.4 374.8,247.7 374.9,243.5 375,236.4 375.1,238.9 375.2,236 375.3,240.3 375.4,241.1 375.5,245.3 375.7,249.7 375.8,245.5 375.9,230.3 376,243.3 376.1,240.5 376.2,248.8 376.3,241.6 376.4,246.5 376.6,232.1 376.7,227.9 376.8,226 376.9,238.7 377,234.6 377.1,231.4 377.2,239 377.3,224.2 377.5,233.9 377.6,220.7 377.7,220.3 377.8,230.6 377.9,220 378,221.3 378.1,226.1 378.2,232.4 378.3,225 378.5,219.7 378.6,228.3 378.7,237.9 378.8,232.9 378.9,220.3 379,230 379.1,223 379.2,235.8 379.4,240.5 379.5,216.7 379.6,234.6 379.7,235.5 379.8,218.1 379.9,220.7 380,232.3 380.1,219.3 380.3,223.4 380.4,222.9 380.5,225.9 380.6,224.8 380.7,235.9 380.8,239.9 380.9,226.5 381,240.1 381.2,225.9 381.3,229.5 381.4,240.3 381.5,232.4 381.6,234.1 381.7,223.6 381.8,230.3 381.9,222.5 382.1,234.2 382.2,216.1 382.3,236.9 382.4,217.8 382.5,230.5 382.6,236.6 382.7,220.3 382.8,219.9 383,228.6 383.1,227.2 383.2,218.2 383.3,221.8 383.4,226.3 383.5,216.9 383.6,220.3 383.7,238.8 383.9,223.1 384,211.9 384.1,219.9 384.2,235.9 384.3,236.7 384.4,228.2 384.5,229.4 384.6,213.9 384.7,222.4 384.9,219.8 385,220.1 385.1,221.6 385.2,233 385.3,220.8 385.4,221.2 385.5,221.9 385.6,217.1 385.8,213.4 385.9,218.2 386,201.2 386.1,220.7 386.2,214.6 386.3,217.3 386.4,201.6 386.5,211.4 386.7,209.9 386.8,213.1 386.9,230.7 387,207.4 387.1,216 387.2,215.1 387.3,218.2 387.4,226.8 387.6,224.5 387.7,223.5 387.8,230 387.9,220.8 388,224 388.1,234.6 388.2,228.2 388.3,216.7 388.5,234.2 388.6,227.7 388.7,229.1 388.8,216 388.9,230.7 389,228.1 389.1,220.1 389.2,215.7 389.4,215.7 389.5,232.7 389.6,217.7 389.7,229.8 389.8,238.1 389.9,240.9 390,241 390.1,224.3 390.3,237.7 390.4,223 390.5,243.3 390.6,229.4 390.7,244.6 390.8,231 390.9,251.7 391,227.6 391.2,221.3 391.3,239.7 391.4,222.5 391.5,243.1 391.6,247.8 391.7,245.2 391.8,237.3 391.9,233 392,248.2 392.2,231.8 392.3,226.1 392.4,238.7 392.5,234.9 392.6,233 392.7,251.4 392.8,244.2 392.9,247.1 393.1,239.1 393.2,244.4 393.3,251.2 393.4,242.6 393.5,233.6 393.6,230.1 393.7,227.4 393.8,229.9 394,246.9 394.1,246.3 394.2,241.4 394.3,253.6 394.4,240.1 394.5,247.9 394.6,231.1 394.7,255.9 394.9,247.3 395,238.6 395.1,254.3 395.2,240.3 395.3,232.3 395.4,244.2 395.5,243.4 395.6,247.4 395.8,240.9 395.9,233.7 396,253.5 396.1,241.4 396.2,245.5 396.3,244.1 396.4,248 396.5,236.2 396.7,245.4 396.8,246.5 396.9,248.5 397,247.4 397.1,239.6 397.2,251.3 397.3,248 397.4,242.6 397.6,259.9 397.7,242.6 397.8,245.4 397.9,265.1 398,259.5 398.1,258.1 398.2,258.9 398.3,259.8 398.4,250.3 398.6,250.6 398.7,255.8 398.8,251.6 398.9,264.9 399,255.2 399.1,265 399.2,266.6 399.3,259.7 399.5,268.6 399.6,243.6 399.7,259.2 399.8,251.8 399.9,262.1 400,262.8 400.1,250.3 400.2,246.8 400.4,258.4 400.5,254.5 400.6,254.8 400.7,260 400.8,265 400.9,260.6 401,256.5 401.1,251.8 401.3,271.3 401.4,253.4 401.5,258.9 401.6,269.1 401.7,260.6 401.8,264.9 401.9,271.4 402,272.4 402.2,267.7 402.3,267.6 402.4,274.4 402.5,255.4 402.6,275 402.7,266.6 402.8,268.4 402.9,263.9 403.1,256.3 403.2,261.3 403.3,272.9 403.4,270.9 403.5,259 403.6,264.8 403.7,274.4 403.8,276.3 404,263.6 404.1,279.2 404.2,267.4 404.3,258 404.4,263.6 404.5,264.4 404.6,266.1 404.7,269.7 404.9,270.8 405,274.5 405.1,261.2 405.2,267.5 405.3,271.6 405.4,278.5 405.5,261.1 405.6,267.1 405.7,269.1 405.9,259.9 406,266.9 406.1,271.4 406.2,263.5 406.3,271.1 406.4,272.7 406.5,256.3 406.6,257.3 406.8,257.1 406.9,262.9 407,264.8 407.1,259.2 407.2,270.4 407.3,266.8 407.4,245 407.5,256 407.7,254.1 407.8,246.3 407.9,250.7 408,250 408.1,255 408.2,244.8 408.3,258.6 408.4,249 408.6,256.9 408.7,255.3 408.8,247.4 408.9,255.3 409,252.8 409.1,249.7 409.2,256.3 409.3,255.2 409.5,260 409.6,257.8 409.7,248.1 409.8,240.1 409.9,260.7 410,251.9 410.1,258 410.2,253.1 410.4,258 410.5,248.4 410.6,260.6 410.7,258 410.8,251.2 410.9,245.5 411,242.4 411.1,246.9 411.3,246.1 411.4,242.1 411.5,258.3 411.6,256.8 411.7,246.5 411.8,244.5 411.9,249.1 412,254.7 412.1,256.1 412.3,245.8 412.4,241.9 412.5,252.2 412.6,256.3 412.7,245.8 412.8,258.7 412.9,247.2 413,246.1 413.2,243.9 413.3,253.9 413.4,255.3 413.5,258.2 413.6,255.5 413.7,250.8 413.8,247.7 413.9,245 414.1,253.1 414.2,241.5 414.3,244.7 414.4,252.5 414.5,241.5 414.6,257.1 414.7,260.4 414.8,246.4 415,256.2 415.1,246.4 415.2,251.2 415.3,261.7 415.4,255.6 415.5,256.6 415.6,257.4 415.7,245.4 415.9,245.4 416,262.6 416.1,263.8 416.2,262.5 416.3,256 416.4,261.7 416.5,249.1 416.6,260.6 416.8,258 416.9,249.8 417,253.7 417.1,253.5 417.2,262.2 417.3,251.8 417.4,265.2 417.5,257.1 417.7,260.6 417.8,254.6 417.9,250.1 418,261.7 418.1,257.7 418.2,272.4 418.3,257.3 418.4,263.6 418.6,263 418.7,262.5 418.8,260.1 418.9,263.1 419,262.5 419.1,276.4 419.2,270.6 419.3,269.5 419.4,268.9 419.6,261.2 419.7,259.6 419.8,268.2 419.9,268.5 420,274.7 420.1,265.9 420.2,282.6 420.3,279.6 420.5,265.9 420.6,283.4 420.7,280 420.8,271.3 420.9,279.2 421,272.2 421.1,290.8 421.2,289.6 421.4,279.4 421.5,278.7 421.6,279.3 421.7,282.3 421.8,274.9 421.9,278.9 422,286.8 422.1,288.6 422.3,292.8 422.4,286.5 422.5,288.9 422.6,287.8 422.7,294.1 422.8,295.7 422.9,298.5 423,285.3 423.2,293.2 423.3,286.4 423.4,298.9 423.5,297.9 423.6,286.6 423.7,292 423.8,285.4 423.9,290.8 424.1,289 424.2,292.5 424.3,295.9 424.4,291.9 424.5,286.1 424.6,285.3 424.7,282.1 424.8,288.8 425,280 425.1,279.4 425.2,282.7 425.3,281.4 425.4,294.4" fill="none" stroke="#ff1a1a" stroke-width="0.55"/>
</g>
<rect x="267.7" y="195.8" width="157.7" height="132.39999999999998" fill="none" stroke="#555" stroke-width="0.8"/>
<line x1="264.2" y1="313.6" x2="267.7" y2="313.6" stroke="#555" stroke-width="0.7"/>
<text x="261" y="316.8" font-size="8.9" text-anchor="end">0</text>
<line x1="264.2" y1="293.5" x2="267.7" y2="293.5" stroke="#555" stroke-width="0.7"/>
<text x="261" y="296.7" font-size="8.9" text-anchor="end">20</text>
<line x1="264.2" y1="273.5" x2="267.7" y2="273.5" stroke="#555" stroke-width="0.7"/>
<text x="261" y="276.7" font-size="8.9" text-anchor="end">40</text>
<line x1="264.2" y1="253.4" x2="267.7" y2="253.4" stroke="#555" stroke-width="0.7"/>
<text x="261" y="256.6" font-size="8.9" text-anchor="end">60</text>
<line x1="264.2" y1="233.4" x2="267.7" y2="233.4" stroke="#555" stroke-width="0.7"/>
<text x="261" y="236.6" font-size="8.9" text-anchor="end">80</text>
<line x1="264.2" y1="213.3" x2="267.7" y2="213.3" stroke="#555" stroke-width="0.7"/>
<text x="261" y="216.5" font-size="8.9" text-anchor="end">100</text>
<line x1="425.4" y1="202.1" x2="428.9" y2="202.1" stroke="#555" stroke-width="0.7"/>
<text x="433.2" y="205.3" font-size="8.9">100</text>
<line x1="425.4" y1="228.9" x2="428.9" y2="228.9" stroke="#555" stroke-width="0.7"/>
<text x="433.2" y="232.1" font-size="8.9">50</text>
<line x1="425.4" y1="255.7" x2="428.9" y2="255.7" stroke="#555" stroke-width="0.7"/>
<text x="433.2" y="258.9" font-size="8.9">0</text>
<line x1="425.4" y1="282.5" x2="428.9" y2="282.5" stroke="#555" stroke-width="0.7"/>
<text x="433.2" y="285.7" font-size="8.9">-50</text>
<line x1="425.4" y1="309.3" x2="428.9" y2="309.3" stroke="#555" stroke-width="0.7"/>
<text x="433.2" y="312.5" font-size="8.9">-100</text>
<line x1="268.5" y1="328.2" x2="268.5" y2="331.7" stroke="#555" stroke-width="0.7"/>
<line x1="268.5" y1="195.8" x2="268.5" y2="192.3" stroke="#555" stroke-width="0.7"/>
<text x="268.5" y="341.4" font-size="8.9" text-anchor="middle">0</text>
<line x1="304" y1="328.2" x2="304" y2="331.7" stroke="#555" stroke-width="0.7"/>
<line x1="304" y1="195.8" x2="304" y2="192.3" stroke="#555" stroke-width="0.7"/>
<text x="304" y="341.4" font-size="8.9" text-anchor="middle">10</text>
<line x1="339.5" y1="328.2" x2="339.5" y2="331.7" stroke="#555" stroke-width="0.7"/>
<line x1="339.5" y1="195.8" x2="339.5" y2="192.3" stroke="#555" stroke-width="0.7"/>
<text x="339.5" y="341.4" font-size="8.9" text-anchor="middle">20</text>
<line x1="375" y1="328.2" x2="375" y2="331.7" stroke="#555" stroke-width="0.7"/>
<line x1="375" y1="195.8" x2="375" y2="192.3" stroke="#555" stroke-width="0.7"/>
<text x="375" y="341.4" font-size="8.9" text-anchor="middle">30</text>
<line x1="410.5" y1="328.2" x2="410.5" y2="331.7" stroke="#555" stroke-width="0.7"/>
<line x1="410.5" y1="195.8" x2="410.5" y2="192.3" stroke="#555" stroke-width="0.7"/>
<text x="410.5" y="341.4" font-size="8.9" text-anchor="middle">40</text>
<text x="242.6" y="262.2" font-size="8.9" text-anchor="middle" transform="rotate(-90 242.6 259)">X (nm)</text>
<text x="454" y="258.2" font-size="8.9" text-anchor="middle" transform="rotate(90 454 255)">Pitch (degree)</text>
<text x="344.5" y="354.5" font-size="8.9" text-anchor="middle">Time (s)</text>
<rect x="270" y="198" width="37.6" height="18.6" fill="#fff" stroke="#444" stroke-width="0.6"/>
<line x1="272.4" y1="203" x2="286" y2="203" stroke="#1414ff" stroke-width="0.9"/>
<text x="289.5" y="205.7" font-size="7.5">X</text>
<line x1="272.4" y1="211.7" x2="286" y2="211.7" stroke="#ff1a1a" stroke-width="0.9"/>
<text x="289.5" y="214.4" font-size="7.5">Pitch</text>
<line x1="382.1" y1="289.6" x2="382.1" y2="304" stroke="#3b3bff" stroke-width="0.8"/>
<line x1="382.1" y1="314" x2="382.1" y2="319.3" stroke="#ff3030" stroke-width="0.8"/>
<text x="384.8" y="299.9" font-size="7" font-weight="bold" fill="#2020e8">Force</text>
<text x="384.8" y="308.5" font-size="7" font-weight="bold" fill="#2020e8">0.01 pN</text>
<text x="384.8" y="316" font-size="6.5" font-weight="bold" fill="#f02020">Torque</text>
<text x="384.8" y="323.6" font-size="6.5" font-weight="bold" fill="#f02020">10 pN nm</text>
<text x="465.5" y="196" font-size="18" font-weight="bold" fill="#000">f</text>
<rect x="492.5" y="195.3" width="162.70000000000005" height="134.0" fill="none" stroke="#555" stroke-width="0.8"/>
<line x1="490.5" y1="316.2" x2="492.5" y2="316.2" stroke="#555" stroke-width="0.6"/>
<text x="489.5" y="317.6" font-size="3.8" text-anchor="end" fill="#444">2</text>
<line x1="490.5" y1="305" x2="492.5" y2="305" stroke="#555" stroke-width="0.6"/>
<text x="489.5" y="306.4" font-size="3.8" text-anchor="end" fill="#444">3</text>
<line x1="490.5" y1="297" x2="492.5" y2="297" stroke="#555" stroke-width="0.6"/>
<text x="489.5" y="298.4" font-size="3.8" text-anchor="end" fill="#444">4</text>
<line x1="490.5" y1="290.9" x2="492.5" y2="290.9" stroke="#555" stroke-width="0.6"/>
<text x="489.5" y="292.2" font-size="3.8" text-anchor="end" fill="#444">5</text>
<line x1="490.5" y1="285.8" x2="492.5" y2="285.8" stroke="#555" stroke-width="0.6"/>
<text x="489.5" y="287.2" font-size="3.8" text-anchor="end" fill="#444">6</text>
<line x1="490.5" y1="281.6" x2="492.5" y2="281.6" stroke="#555" stroke-width="0.6"/>
<line x1="490.5" y1="277.9" x2="492.5" y2="277.9" stroke="#555" stroke-width="0.6"/>
<text x="489.5" y="279.2" font-size="3.8" text-anchor="end" fill="#444">8</text>
<line x1="490.5" y1="274.6" x2="492.5" y2="274.6" stroke="#555" stroke-width="0.6"/>
<line x1="489" y1="271.7" x2="492.5" y2="271.7" stroke="#555" stroke-width="0.6"/>
<text x="488" y="274.9" font-size="8.9" text-anchor="end">10</text>
<line x1="490.5" y1="252.5" x2="492.5" y2="252.5" stroke="#555" stroke-width="0.6"/>
<text x="489.5" y="253.9" font-size="3.8" text-anchor="end" fill="#444">2</text>
<line x1="490.5" y1="241.3" x2="492.5" y2="241.3" stroke="#555" stroke-width="0.6"/>
<text x="489.5" y="242.7" font-size="3.8" text-anchor="end" fill="#444">3</text>
<line x1="490.5" y1="233.3" x2="492.5" y2="233.3" stroke="#555" stroke-width="0.6"/>
<text x="489.5" y="234.7" font-size="3.8" text-anchor="end" fill="#444">4</text>
<line x1="490.5" y1="227.2" x2="492.5" y2="227.2" stroke="#555" stroke-width="0.6"/>
<text x="489.5" y="228.5" font-size="3.8" text-anchor="end" fill="#444">5</text>
<line x1="490.5" y1="222.1" x2="492.5" y2="222.1" stroke="#555" stroke-width="0.6"/>
<text x="489.5" y="223.5" font-size="3.8" text-anchor="end" fill="#444">6</text>
<line x1="490.5" y1="217.9" x2="492.5" y2="217.9" stroke="#555" stroke-width="0.6"/>
<line x1="490.5" y1="214.2" x2="492.5" y2="214.2" stroke="#555" stroke-width="0.6"/>
<text x="489.5" y="215.5" font-size="3.8" text-anchor="end" fill="#444">8</text>
<line x1="490.5" y1="210.9" x2="492.5" y2="210.9" stroke="#555" stroke-width="0.6"/>
<line x1="489" y1="208" x2="492.5" y2="208" stroke="#555" stroke-width="0.6"/>
<text x="488" y="211.2" font-size="8.9" text-anchor="end">100</text>
<line x1="655.2" y1="325.2" x2="657.2" y2="325.2" stroke="#555" stroke-width="0.6"/>
<text x="658.2" y="326.6" font-size="3.8" fill="#444">5</text>
<line x1="655.2" y1="318.8" x2="657.2" y2="318.8" stroke="#555" stroke-width="0.6"/>
<text x="658.2" y="320.2" font-size="3.8" fill="#444">6</text>
<line x1="655.2" y1="313.5" x2="657.2" y2="313.5" stroke="#555" stroke-width="0.6"/>
<text x="658.2" y="314.9" font-size="3.8" fill="#444">7</text>
<line x1="655.2" y1="308.9" x2="657.2" y2="308.9" stroke="#555" stroke-width="0.6"/>
<text x="658.2" y="310.2" font-size="3.8" fill="#444">8</text>
<line x1="655.2" y1="304.8" x2="657.2" y2="304.8" stroke="#555" stroke-width="0.6"/>
<line x1="655.2" y1="301.1" x2="658.7" y2="301.1" stroke="#555" stroke-width="0.6"/>
<text x="660.2" y="304.3" font-size="8.9">10</text>
<line x1="655.2" y1="277" x2="657.2" y2="277" stroke="#555" stroke-width="0.6"/>
<text x="658.2" y="278.4" font-size="3.8" fill="#444">2</text>
<line x1="655.2" y1="262.9" x2="657.2" y2="262.9" stroke="#555" stroke-width="0.6"/>
<text x="658.2" y="264.3" font-size="3.8" fill="#444">3</text>
<line x1="655.2" y1="252.9" x2="657.2" y2="252.9" stroke="#555" stroke-width="0.6"/>
<text x="658.2" y="254.3" font-size="3.8" fill="#444">4</text>
<line x1="655.2" y1="245.2" x2="657.2" y2="245.2" stroke="#555" stroke-width="0.6"/>
<text x="658.2" y="246.6" font-size="3.8" fill="#444">5</text>
<line x1="655.2" y1="238.8" x2="657.2" y2="238.8" stroke="#555" stroke-width="0.6"/>
<text x="658.2" y="240.2" font-size="3.8" fill="#444">6</text>
<line x1="655.2" y1="233.5" x2="657.2" y2="233.5" stroke="#555" stroke-width="0.6"/>
<text x="658.2" y="234.9" font-size="3.8" fill="#444">7</text>
<line x1="655.2" y1="228.9" x2="657.2" y2="228.9" stroke="#555" stroke-width="0.6"/>
<text x="658.2" y="230.2" font-size="3.8" fill="#444">8</text>
<line x1="655.2" y1="224.8" x2="657.2" y2="224.8" stroke="#555" stroke-width="0.6"/>
<line x1="655.2" y1="221.1" x2="658.7" y2="221.1" stroke="#555" stroke-width="0.6"/>
<text x="660.2" y="224.3" font-size="8.9">100</text>
<line x1="655.2" y1="197" x2="657.2" y2="197" stroke="#555" stroke-width="0.6"/>
<text x="658.2" y="198.4" font-size="3.8" fill="#444">2</text>
<line x1="494.6" y1="329.3" x2="494.6" y2="332.8" stroke="#555" stroke-width="0.6"/>
<line x1="494.6" y1="195.3" x2="494.6" y2="191.8" stroke="#555" stroke-width="0.6"/>
<text x="498.1" y="343" font-size="8.9" text-anchor="middle">0.0001</text>
<line x1="515.4" y1="329.3" x2="515.4" y2="331.3" stroke="#555" stroke-width="0.6"/>
<line x1="515.4" y1="195.3" x2="515.4" y2="193.3" stroke="#555" stroke-width="0.6"/>
<text x="515.4" y="335" font-size="3.8" text-anchor="middle" fill="#444">2</text>
<line x1="527.6" y1="329.3" x2="527.6" y2="331.3" stroke="#555" stroke-width="0.6"/>
<line x1="527.6" y1="195.3" x2="527.6" y2="193.3" stroke="#555" stroke-width="0.6"/>
<text x="527.6" y="335" font-size="3.8" text-anchor="middle" fill="#444">3</text>
<line x1="536.3" y1="329.3" x2="536.3" y2="331.3" stroke="#555" stroke-width="0.6"/>
<line x1="536.3" y1="195.3" x2="536.3" y2="193.3" stroke="#555" stroke-width="0.6"/>
<text x="536.3" y="335" font-size="3.8" text-anchor="middle" fill="#444">4</text>
<line x1="543" y1="329.3" x2="543" y2="331.3" stroke="#555" stroke-width="0.6"/>
<line x1="543" y1="195.3" x2="543" y2="193.3" stroke="#555" stroke-width="0.6"/>
<text x="543" y="335" font-size="3.8" text-anchor="middle" fill="#444">5</text>
<line x1="548.4" y1="329.3" x2="548.4" y2="331.3" stroke="#555" stroke-width="0.6"/>
<line x1="548.4" y1="195.3" x2="548.4" y2="193.3" stroke="#555" stroke-width="0.6"/>
<text x="548.4" y="335" font-size="3.8" text-anchor="middle" fill="#444">6</text>
<line x1="553.1" y1="329.3" x2="553.1" y2="331.3" stroke="#555" stroke-width="0.6"/>
<line x1="553.1" y1="195.3" x2="553.1" y2="193.3" stroke="#555" stroke-width="0.6"/>
<text x="553.1" y="335" font-size="3.8" text-anchor="middle" fill="#444">7</text>
<line x1="557.1" y1="329.3" x2="557.1" y2="331.3" stroke="#555" stroke-width="0.6"/>
<line x1="557.1" y1="195.3" x2="557.1" y2="193.3" stroke="#555" stroke-width="0.6"/>
<line x1="560.6" y1="329.3" x2="560.6" y2="331.3" stroke="#555" stroke-width="0.6"/>
<line x1="560.6" y1="195.3" x2="560.6" y2="193.3" stroke="#555" stroke-width="0.6"/>
<line x1="563.8" y1="329.3" x2="563.8" y2="332.8" stroke="#555" stroke-width="0.6"/>
<line x1="563.8" y1="195.3" x2="563.8" y2="191.8" stroke="#555" stroke-width="0.6"/>
<text x="567.3" y="343" font-size="8.9" text-anchor="middle">0.001</text>
<line x1="584.6" y1="329.3" x2="584.6" y2="331.3" stroke="#555" stroke-width="0.6"/>
<line x1="584.6" y1="195.3" x2="584.6" y2="193.3" stroke="#555" stroke-width="0.6"/>
<text x="584.6" y="335" font-size="3.8" text-anchor="middle" fill="#444">2</text>
<line x1="596.8" y1="329.3" x2="596.8" y2="331.3" stroke="#555" stroke-width="0.6"/>
<line x1="596.8" y1="195.3" x2="596.8" y2="193.3" stroke="#555" stroke-width="0.6"/>
<text x="596.8" y="335" font-size="3.8" text-anchor="middle" fill="#444">3</text>
<line x1="605.5" y1="329.3" x2="605.5" y2="331.3" stroke="#555" stroke-width="0.6"/>
<line x1="605.5" y1="195.3" x2="605.5" y2="193.3" stroke="#555" stroke-width="0.6"/>
<text x="605.5" y="335" font-size="3.8" text-anchor="middle" fill="#444">4</text>
<line x1="612.2" y1="329.3" x2="612.2" y2="331.3" stroke="#555" stroke-width="0.6"/>
<line x1="612.2" y1="195.3" x2="612.2" y2="193.3" stroke="#555" stroke-width="0.6"/>
<text x="612.2" y="335" font-size="3.8" text-anchor="middle" fill="#444">5</text>
<line x1="617.6" y1="329.3" x2="617.6" y2="331.3" stroke="#555" stroke-width="0.6"/>
<line x1="617.6" y1="195.3" x2="617.6" y2="193.3" stroke="#555" stroke-width="0.6"/>
<text x="617.6" y="335" font-size="3.8" text-anchor="middle" fill="#444">6</text>
<line x1="622.3" y1="329.3" x2="622.3" y2="331.3" stroke="#555" stroke-width="0.6"/>
<line x1="622.3" y1="195.3" x2="622.3" y2="193.3" stroke="#555" stroke-width="0.6"/>
<text x="622.3" y="335" font-size="3.8" text-anchor="middle" fill="#444">7</text>
<line x1="626.3" y1="329.3" x2="626.3" y2="331.3" stroke="#555" stroke-width="0.6"/>
<line x1="626.3" y1="195.3" x2="626.3" y2="193.3" stroke="#555" stroke-width="0.6"/>
<line x1="629.8" y1="329.3" x2="629.8" y2="331.3" stroke="#555" stroke-width="0.6"/>
<line x1="629.8" y1="195.3" x2="629.8" y2="193.3" stroke="#555" stroke-width="0.6"/>
<line x1="633" y1="329.3" x2="633" y2="332.8" stroke="#555" stroke-width="0.6"/>
<line x1="633" y1="195.3" x2="633" y2="191.8" stroke="#555" stroke-width="0.6"/>
<text x="634.8" y="343" font-size="8.9" text-anchor="middle">0.01</text>
<line x1="653.8" y1="329.3" x2="653.8" y2="331.3" stroke="#555" stroke-width="0.6"/>
<line x1="653.8" y1="195.3" x2="653.8" y2="193.3" stroke="#555" stroke-width="0.6"/>
<text x="653.8" y="335" font-size="3.8" text-anchor="middle" fill="#444">2</text>
<text x="473" y="271.2" font-size="8.9" text-anchor="middle" transform="rotate(-90 473 268)">X (nm<tspan font-size="5" dy="-3">2</tspan><tspan dy="3">)</tspan></text>
<text x="677.5" y="267.7" font-size="8.9" text-anchor="middle" transform="rotate(90 677.5 264.5)">Pitch (degree<tspan font-size="5" dy="-3">2</tspan><tspan dy="3">)</tspan></text>
<text x="573.5" y="356.8" font-size="8.9" text-anchor="middle">Time (s)</text>
<circle cx="494.3" cy="327.1" r="1.5" fill="none" stroke="#6060ff" stroke-width="0.55"/>
<circle cx="515.4" cy="320.4" r="1.5" fill="none" stroke="#6060ff" stroke-width="0.55"/>
<circle cx="527.3" cy="319.5" r="1.5" fill="none" stroke="#6060ff" stroke-width="0.55"/>
<circle cx="536.1" cy="319" r="1.5" fill="none" stroke="#6060ff" stroke-width="0.55"/>
<circle cx="542.5" cy="320.8" r="1.5" fill="none" stroke="#6060ff" stroke-width="0.55"/>
<circle cx="548" cy="317" r="1.5" fill="none" stroke="#6060ff" stroke-width="0.55"/>
<circle cx="552.6" cy="314.1" r="1.5" fill="none" stroke="#6060ff" stroke-width="0.55"/>
<circle cx="556.9" cy="310.9" r="1.5" fill="none" stroke="#6060ff" stroke-width="0.55"/>
<circle cx="560.1" cy="310.2" r="1.5" fill="none" stroke="#6060ff" stroke-width="0.55"/>
<circle cx="563.2" cy="307.3" r="1.5" fill="none" stroke="#6060ff" stroke-width="0.55"/>
<circle cx="566.5" cy="305.5" r="1.5" fill="none" stroke="#6060ff" stroke-width="0.55"/>
<circle cx="515.4" cy="326.4" r="1.5" fill="none" stroke="#ff5050" stroke-width="0.55"/>
<circle cx="527.3" cy="324.1" r="1.5" fill="none" stroke="#ff5050" stroke-width="0.55"/>
<circle cx="536.1" cy="322.3" r="1.5" fill="none" stroke="#ff5050" stroke-width="0.55"/>
<circle cx="542.5" cy="320.4" r="1.5" fill="none" stroke="#ff5050" stroke-width="0.55"/>
<circle cx="548" cy="318.3" r="1.5" fill="none" stroke="#ff5050" stroke-width="0.55"/>
<circle cx="552.6" cy="316.5" r="1.5" fill="none" stroke="#ff5050" stroke-width="0.55"/>
<circle cx="556.9" cy="314.1" r="1.5" fill="none" stroke="#ff5050" stroke-width="0.55"/>
<circle cx="560.1" cy="312.7" r="1.5" fill="none" stroke="#ff5050" stroke-width="0.55"/>
<circle cx="563.2" cy="311" r="1.5" fill="none" stroke="#ff5050" stroke-width="0.55"/>
<circle cx="566.5" cy="308.7" r="1.5" fill="none" stroke="#ff5050" stroke-width="0.55"/>
<polyline points="566.5,305.5 566.5,305.4 566.5,305.4 566.4,305.5 566.4,305.4 566.5,305.3 566.8,304.9 567.3,304.3 568.2,303.3 569.5,301.9 571.2,300.1 573.1,298.1 575.2,295.8 577.4,293.5 579.6,291.2 581.7,288.9 583.5,286.9 585.1,285.1 586.6,283.4 588,281.7 589.4,280.1 590.8,278.5 592.2,276.7 593.6,274.9 595.2,272.8 596.9,270.5 598.7,267.9 600.5,265.2 602.4,262.5 604.3,259.7 606.2,257 608,254.4 609.8,252.1 611.5,250 613.3,247.9 615,246 616.6,244.1 618.3,242.4 620,240.7 621.7,239.1 623.4,237.6 625.2,236.2 627.1,234.8 629,233.5 630.9,232.4 632.8,231.2 634.5,230.2 636.1,229.2 637.5,228.2 638.6,227.4 639.4,226.7 640.1,226.1 640.6,225.6 641.1,225 641.7,224.4 642.4,223.5 643.3,222.3 644.5,220.7 645.9,218.8 647.4,216.6 649,214.3 650.5,212 651.9,210 653,208.2 653.9,207" fill="none" stroke="#3c3cf0" stroke-width="2.8" stroke-linecap="round"/>
<polyline points="566.5,308.7 566.5,308.6 566.5,308.6 566.4,308.6 566.4,308.6 566.5,308.4 566.8,308.1 567.3,307.6 568.2,306.8 569.5,305.7 571.2,304.3 573.1,302.7 575.2,300.9 577.4,299.1 579.6,297.2 581.7,295.5 583.5,293.9 585.2,292.4 586.8,290.9 588.5,289.4 590,288 591.5,286.6 592.8,285.4 594.1,284.3 595.2,283.3 596.1,282.5 596.8,281.9 597.4,281.5 597.9,281.1 598.3,280.8 598.8,280.6 599.3,280.3 600,280 600.8,279.7 601.6,279.3 602.5,279 603.4,278.7 604.4,278.4 605.3,278.2 606.2,278 607,277.9 607.8,277.9 608.5,277.9 609.3,278 610,278.2 610.7,278.4 611.5,278.6 612.2,278.8 613,279 613.8,279.2 614.7,279.6 615.6,279.9 616.6,280.3 617.5,280.6 618.4,280.9 619.2,281 619.9,281 620.5,280.8 621.1,280.5 621.6,280.1 622.1,279.5 622.6,279 623,278.3 623.5,277.7 624,277 624.5,276.3 625,275.5 625.5,274.7 626.1,273.9 626.6,273 627.1,272.1 627.6,271.2 628.1,270.4 628.6,269.6 629.1,268.7 629.6,267.8 630.1,266.9 630.6,266 631.1,265.2 631.6,264.5 632,264 632.4,263.6 632.8,263.3 633.2,263.1 633.6,262.9 633.9,262.9 634.3,262.9 634.7,262.9 635.1,262.9 635.6,263 636,263.1 636.5,263.3 637,263.5 637.5,263.7 638,264 638.5,264.2 639,264.5 639.5,264.8 639.9,265.3 640.4,265.8 640.8,266.2 641.3,266.6 641.7,266.9 642.2,267 642.6,266.9 643,266.5 643.4,265.9 643.8,265 644.3,264.1 644.7,263.1 645.1,262 645.5,261 646,260 646.5,259 647,257.9 647.6,256.7 648.2,255.5 648.7,254.4 649.3,253.4 649.9,252.6 650.4,252.1 650.9,251.8 651.5,251.8 652.1,252 652.7,252.3 653.2,252.7 653.7,253 654.1,253.3 654.4,253.5" fill="none" stroke="#f02828" stroke-width="2.8" stroke-linecap="round"/>
<line x1="568" y1="303.8" x2="610" y2="252.4" stroke="#111" stroke-width="0.9"/>
<line x1="568" y1="307.3" x2="595" y2="283.6" stroke="#111" stroke-width="0.9"/>
<circle cx="506.5" cy="206.2" r="1.6" fill="none" stroke="#6060ff" stroke-width="0.55"/>
<circle cx="506.5" cy="217.9" r="1.6" fill="none" stroke="#ff5050" stroke-width="0.55"/>
<text x="511" y="209.5" font-size="9.2" fill="#3c3cf0">α<tspan font-size="5.5" dy="2">x</tspan><tspan dy="-2"> = 1.58 ± 0.01</tspan></text>
<text x="511" y="221.2" font-size="9.2" fill="#f02828">α<tspan font-size="5.5" dy="2">pitch</tspan><tspan dy="-2"> = 1.00 ± 0.02</tspan></text>
<text x="0" y="377" font-size="18" font-weight="bold" fill="#000">g</text>
<clipPath id="gclip"><rect x="37.4" y="383.5" width="159.79999999999998" height="143.29999999999995"/></clipPath>
<line x1="37.4" y1="383.5" x2="197.2" y2="383.5" stroke="#555" stroke-width="0.9"/>
<line x1="197.2" y1="383.5" x2="197.2" y2="526.8" stroke="#555" stroke-width="0.9"/>
<line x1="37.4" y1="383.5" x2="37.4" y2="527.4" stroke="#a2a2a2" stroke-width="1.4"/>
<line x1="36.8" y1="526.8" x2="197.2" y2="526.8" stroke="#a2a2a2" stroke-width="1.4"/>
<line x1="33.9" y1="510.2" x2="37.4" y2="510.2" stroke="#555" stroke-width="0.8"/>
<line x1="197.2" y1="510.2" x2="200.7" y2="510.2" stroke="#555" stroke-width="0.8"/>
<text x="31.5" y="513.4" font-size="8.9" text-anchor="end">-2</text>
<line x1="33.9" y1="489.4" x2="37.4" y2="489.4" stroke="#555" stroke-width="0.8"/>
<line x1="197.2" y1="489.4" x2="200.7" y2="489.4" stroke="#555" stroke-width="0.8"/>
<text x="31.5" y="492.6" font-size="8.9" text-anchor="end">0</text>
<line x1="33.9" y1="468.6" x2="37.4" y2="468.6" stroke="#555" stroke-width="0.8"/>
<line x1="197.2" y1="468.6" x2="200.7" y2="468.6" stroke="#555" stroke-width="0.8"/>
<text x="31.5" y="471.8" font-size="8.9" text-anchor="end">2</text>
<line x1="33.9" y1="447.8" x2="37.4" y2="447.8" stroke="#555" stroke-width="0.8"/>
<line x1="197.2" y1="447.8" x2="200.7" y2="447.8" stroke="#555" stroke-width="0.8"/>
<text x="31.5" y="451" font-size="8.9" text-anchor="end">4</text>
<line x1="33.9" y1="427" x2="37.4" y2="427" stroke="#555" stroke-width="0.8"/>
<line x1="197.2" y1="427" x2="200.7" y2="427" stroke="#555" stroke-width="0.8"/>
<text x="31.5" y="430.2" font-size="8.9" text-anchor="end">6</text>
<line x1="33.9" y1="406.2" x2="37.4" y2="406.2" stroke="#555" stroke-width="0.8"/>
<line x1="197.2" y1="406.2" x2="200.7" y2="406.2" stroke="#555" stroke-width="0.8"/>
<text x="31.5" y="409.4" font-size="8.9" text-anchor="end">8</text>
<line x1="33.9" y1="385.4" x2="37.4" y2="385.4" stroke="#555" stroke-width="0.8"/>
<line x1="197.2" y1="385.4" x2="200.7" y2="385.4" stroke="#555" stroke-width="0.8"/>
<text x="22.3" y="387" font-size="8.9" text-anchor="middle">10x10<tspan font-size="6" dy="-3">-3</tspan></text>
<line x1="37.5" y1="526.8" x2="37.5" y2="530.3" stroke="#555" stroke-width="0.8"/>
<line x1="37.5" y1="383.5" x2="37.5" y2="380" stroke="#555" stroke-width="0.8"/>
<text x="37.5" y="539.4" font-size="8.9" text-anchor="middle">-30</text>
<line x1="64.1" y1="526.8" x2="64.1" y2="530.3" stroke="#555" stroke-width="0.8"/>
<line x1="64.1" y1="383.5" x2="64.1" y2="380" stroke="#555" stroke-width="0.8"/>
<text x="64.1" y="539.4" font-size="8.9" text-anchor="middle">-20</text>
<line x1="90.8" y1="526.8" x2="90.8" y2="530.3" stroke="#555" stroke-width="0.8"/>
<line x1="90.8" y1="383.5" x2="90.8" y2="380" stroke="#555" stroke-width="0.8"/>
<text x="90.8" y="539.4" font-size="8.9" text-anchor="middle">-10</text>
<line x1="117.4" y1="526.8" x2="117.4" y2="530.3" stroke="#555" stroke-width="0.8"/>
<line x1="117.4" y1="383.5" x2="117.4" y2="380" stroke="#555" stroke-width="0.8"/>
<text x="117.4" y="539.4" font-size="8.9" text-anchor="middle">0</text>
<line x1="144" y1="526.8" x2="144" y2="530.3" stroke="#555" stroke-width="0.8"/>
<line x1="144" y1="383.5" x2="144" y2="380" stroke="#555" stroke-width="0.8"/>
<text x="144" y="539.4" font-size="8.9" text-anchor="middle">10</text>
<line x1="170.7" y1="526.8" x2="170.7" y2="530.3" stroke="#555" stroke-width="0.8"/>
<line x1="170.7" y1="383.5" x2="170.7" y2="380" stroke="#555" stroke-width="0.8"/>
<text x="170.7" y="539.4" font-size="8.9" text-anchor="middle">20</text>
<line x1="197.3" y1="526.8" x2="197.3" y2="530.3" stroke="#555" stroke-width="0.8"/>
<line x1="197.3" y1="383.5" x2="197.3" y2="380" stroke="#555" stroke-width="0.8"/>
<text x="197.3" y="539.4" font-size="8.9" text-anchor="middle">30</text>
<text x="19.8" y="460.1" font-size="9.8" text-anchor="middle" transform="rotate(-90 19.8 456.6)">CCF</text>
<text x="118.6" y="551.2" font-size="8.9" text-anchor="middle">Time lag (s)</text>
<g clip-path="url(#gclip)">
<polyline points="37.6,518.5 38.5,518.7 39.7,519 41.2,519.3 42.7,519.5 44.1,519.5 45.4,519.4 46.6,519.2 47.9,518.9 49.2,518.4 50.7,517.6 52.4,516.5 54.3,515.2 56.3,513.6 58.3,511.9 60.1,510 61.7,508 63.1,505.8 64.6,503.4 66,500.8 67.6,497.9 69.4,494.7 71.2,491.2 73.2,487.5 75.1,483.7 77,480 78.9,476.1 80.8,472.1 82.6,468.1 84.4,464.3 86,461 87.4,458.4 88.5,456.2 89.6,454.3 90.7,452.3 92,450 93.5,447.2 95.2,444 96.8,440.7 98.5,437.6 100,435 101.3,432.8 102.5,430.9 103.7,429.3 104.8,427.8 106,426.5 107.3,425.3 108.7,424.2 110.1,423.3 111.4,422.7 112.6,422.3 113.6,422.2 114.5,422.3 115.4,422.7 116.2,423.2 117,424 117.8,425 118.6,426.2 119.3,427.6 120.1,429.2 121,431 121.9,433.1 122.9,435.4 123.9,437.9 125,440.5 126,443 126.9,445.2 127.7,447 128.5,449.1 129.6,451.8 131.2,455.6 133.4,461 136.1,467.6 139.1,474.8 142,481.9 144.5,488 146.7,493.2 148.7,498 150.5,502.4 152.2,506.4 153.8,510 155.3,513.1 156.6,515.8 157.8,518 158.9,520.1 160,522 161.1,523.8 162.1,525.4 163,526.8 164,528 165,529 166,529.8 167.1,530.4 168.2,530.8 169.2,531 170.3,531 171.2,530.9 172.1,530.6 172.9,530.1 174,529.2 175.4,528 177.3,526.2 179.5,523.8 182,521.2 184.4,518.6 186.7,516.2 189,513.9 191.4,511.5 193.7,509.2 195.6,507.3 197,505.9" fill="none" stroke="#111" stroke-width="1.25"/>
<polyline points="37.6,503.5 38.2,502.9 39,501.9 39.9,501.1 40.9,500.7 41.9,500.8 42.9,501.2 43.9,502 45,503.5 46.1,506.1 47.2,509.4 48.2,512.9 49.2,515.7 50,517.6 50.8,519.1 51.5,520.1 52.2,521 53,521.7 53.7,522.3 54.5,522.4 55.4,522 56.5,520.8 57.7,519 59,516.9 60.1,514.8 61.1,512.6 62.1,510.2 63,508 63.8,506.3 64.6,505.7 65.2,505.9 65.9,505.9 66.7,504.5 67.5,501.2 68.4,496.6 69.4,491.7 70.4,487.6 71.5,484.5 72.6,481.9 73.8,479.5 75.1,477.2 76.5,474.9 77.9,472.8 79.4,470.8 80.8,468.8 82.2,467 83.6,465.2 85,463.4 86.4,461.3 87.8,458.7 89.2,455.7 90.6,452.7 92,450 93.4,447.6 94.7,445.3 96,443.2 97.2,441.2 98.2,439.2 99.1,437.4 99.9,435.6 100.8,434 101.7,432.6 102.6,431.3 103.5,430 104.4,428.6 105.3,426.8 106.3,424.7 107.2,422.8 108,421.3 108.5,420.4 108.9,419.8 109.3,419.5 109.8,419.5 110.6,419.8 111.5,420.5 112.5,421.4 113.5,422.3 114.4,423.2 115.3,424.2 116.2,425.3 117.1,426.8 118,428.7 118.9,430.9 119.8,433.3 120.7,435.8 121.6,438.3 122.4,440.9 123.3,443.7 124.3,446.6 125.4,449.8 126.6,453.3 127.7,456.8 128.8,460 129.7,463.2 130.5,466.5 131.3,469.2 132.2,470.9 133.2,470.8 134.2,469.5 135.3,468 136.3,467.8 137.3,469.1 138.4,471.2 139.4,473.9 140.4,477 141.4,480.5 142.4,484.6 143.5,489 144.5,493.5 145.6,498.5 146.7,504 147.7,509.2 148.7,513.1 149.5,515.4 150.1,516.7 150.8,517.3 151.8,517.8 153.4,518.2 155.3,518.3 157.3,518.2 159,517.8 160.4,517.2 161.7,516.5 162.9,515.4 164.1,514.1 165.2,512.4 166.1,510.4 167.1,508.1 168.2,505.9 169.4,503.5 170.7,500.9 172.1,498.5 173.4,496.6 174.7,495.4 176,494.7 177.2,494.1 178.5,493.5 179.8,492.9 181,492.4 182.3,491.6 183.7,490.4 185.1,488.2 186.6,485.3 188.2,482.6 189.8,480.8 191.6,480.5 193.6,481.1 195.4,482 196.6,482.6" fill="none" stroke="#ee1111" stroke-width="1.2"/>
</g>
<text x="39.7" y="393.3" font-size="8.2" fill="#333" letter-spacing="0.42">C<tspan font-size="4.5" dy="1.5">1</tspan><tspan dy="-1.5">=0.0070 ± ΔC</tspan><tspan font-size="4.5" dy="1.5">1</tspan></text>
<text x="39.7" y="402.7" font-size="8.2" fill="#333" letter-spacing="0.42">C<tspan font-size="4.5" dy="1.5">2</tspan><tspan dy="-1.5">=0.0310 ± ΔC</tspan><tspan font-size="4.5" dy="1.5">2</tspan></text>
<text x="121" y="393.3" font-size="8.2" fill="#333" letter-spacing="0.42">C<tspan font-size="4.5" dy="1.5">3</tspan><tspan dy="-1.5">=0.1200 ± ΔC</tspan><tspan font-size="4.5" dy="1.5">3</tspan></text>
<text x="121" y="402.7" font-size="8.2" fill="#333" letter-spacing="0.42">C<tspan font-size="4.5" dy="1.5">4</tspan><tspan dy="-1.5">=0.4690 ± ΔC</tspan><tspan font-size="4.5" dy="1.5">4</tspan></text>
<text x="238" y="379" font-size="18" font-weight="bold" fill="#000">h</text>
<defs><linearGradient id="hg0" x1="0" y1="0" x2="0" y2="1"><stop offset="0%" stop-color="#c8dbee"/><stop offset="8.3%" stop-color="#c3d7ec"/><stop offset="16.7%" stop-color="#bbd4e9"/><stop offset="25%" stop-color="#b6d1e8"/><stop offset="33.3%" stop-color="#b4d0e7"/><stop offset="41.7%" stop-color="#b1cfe6"/><stop offset="50%" stop-color="#b2d0e6"/><stop offset="58.3%" stop-color="#b5d1e7"/><stop offset="66.7%" stop-color="#bad3e9"/><stop offset="75%" stop-color="#c0d6eb"/><stop offset="83.3%" stop-color="#c6daee"/><stop offset="91.7%" stop-color="#cddef0"/><stop offset="100%" stop-color="#d5e4f3"/></linearGradient><linearGradient id="hg1" x1="0" y1="0" x2="0" y2="1"><stop offset="0%" stop-color="#a6cae1"/><stop offset="8.3%" stop-color="#9cc6de"/><stop offset="16.7%" stop-color="#94c1dc"/><stop offset="25%" stop-color="#8dbdda"/><stop offset="33.3%" stop-color="#89bbd9"/><stop offset="41.7%" stop-color="#87bad9"/><stop offset="50%" stop-color="#89bbd9"/><stop offset="58.3%" stop-color="#8cbcda"/><stop offset="66.7%" stop-color="#92c0db"/><stop offset="75%" stop-color="#9ac4dd"/><stop offset="83.3%" stop-color="#a2c8e0"/><stop offset="91.7%" stop-color="#aecde4"/><stop offset="100%" stop-color="#bad3e9"/></linearGradient><linearGradient id="hg2" x1="0" y1="0" x2="0" y2="1"><stop offset="0%" stop-color="#7eb5d6"/><stop offset="8.3%" stop-color="#72aed4"/><stop offset="16.7%" stop-color="#6aa9d1"/><stop offset="25%" stop-color="#64a4cf"/><stop offset="33.3%" stop-color="#60a2cd"/><stop offset="41.7%" stop-color="#5fa1cd"/><stop offset="50%" stop-color="#60a2cd"/><stop offset="58.3%" stop-color="#62a4ce"/><stop offset="66.7%" stop-color="#67a7d0"/><stop offset="75%" stop-color="#6facd3"/><stop offset="83.3%" stop-color="#7ab2d5"/><stop offset="91.7%" stop-color="#87bad9"/><stop offset="100%" stop-color="#98c3dd"/></linearGradient><linearGradient id="hg3" x1="0" y1="0" x2="0" y2="1"><stop offset="0%" stop-color="#5d9fcc"/><stop offset="8.3%" stop-color="#5298c8"/><stop offset="16.7%" stop-color="#4a92c4"/><stop offset="25%" stop-color="#458fc2"/><stop offset="33.3%" stop-color="#428bc0"/><stop offset="41.7%" stop-color="#418ac0"/><stop offset="50%" stop-color="#428bc0"/><stop offset="58.3%" stop-color="#448dc1"/><stop offset="66.7%" stop-color="#4991c4"/><stop offset="75%" stop-color="#5096c7"/><stop offset="83.3%" stop-color="#599dcb"/><stop offset="91.7%" stop-color="#64a4cf"/><stop offset="100%" stop-color="#72aed4"/></linearGradient><linearGradient id="hg4" x1="0" y1="0" x2="0" y2="1"><stop offset="0%" stop-color="#438cc1"/><stop offset="8.3%" stop-color="#3a84bc"/><stop offset="16.7%" stop-color="#347db9"/><stop offset="25%" stop-color="#3078b6"/><stop offset="33.3%" stop-color="#2c75b5"/><stop offset="41.7%" stop-color="#2b74b4"/><stop offset="50%" stop-color="#2c75b5"/><stop offset="58.3%" stop-color="#2e77b6"/><stop offset="66.7%" stop-color="#327bb8"/><stop offset="75%" stop-color="#3982bb"/><stop offset="83.3%" stop-color="#4089bf"/><stop offset="91.7%" stop-color="#4a92c4"/><stop offset="100%" stop-color="#589cca"/></linearGradient><linearGradient id="hg5" x1="0" y1="0" x2="0" y2="1"><stop offset="0%" stop-color="#3179b7"/><stop offset="8.3%" stop-color="#2971b3"/><stop offset="16.7%" stop-color="#246aad"/><stop offset="25%" stop-color="#2066aa"/><stop offset="33.3%" stop-color="#1e62a7"/><stop offset="41.7%" stop-color="#1d61a6"/><stop offset="50%" stop-color="#1d61a6"/><stop offset="58.3%" stop-color="#1f64a8"/><stop offset="66.7%" stop-color="#2268ac"/><stop offset="75%" stop-color="#276eb1"/><stop offset="83.3%" stop-color="#2e77b6"/><stop offset="91.7%" stop-color="#3881bb"/><stop offset="100%" stop-color="#438cc1"/></linearGradient><linearGradient id="hg6" x1="0" y1="0" x2="0" y2="1"><stop offset="0%" stop-color="#246bae"/><stop offset="8.3%" stop-color="#1e62a7"/><stop offset="16.7%" stop-color="#195ba1"/><stop offset="25%" stop-color="#15569d"/><stop offset="33.3%" stop-color="#145399"/><stop offset="41.7%" stop-color="#155196"/><stop offset="50%" stop-color="#155297"/><stop offset="58.3%" stop-color="#14559b"/><stop offset="66.7%" stop-color="#175aa0"/><stop offset="75%" stop-color="#1d61a5"/><stop offset="83.3%" stop-color="#2268ac"/><stop offset="91.7%" stop-color="#2a72b3"/><stop offset="100%" stop-color="#357eb9"/></linearGradient><linearGradient id="hg7" x1="0" y1="0" x2="0" y2="1"><stop offset="0%" stop-color="#1c61a5"/><stop offset="8.3%" stop-color="#16589f"/><stop offset="16.7%" stop-color="#155095"/><stop offset="25%" stop-color="#154a8c"/><stop offset="33.3%" stop-color="#154685"/><stop offset="41.7%" stop-color="#154483"/><stop offset="50%" stop-color="#154584"/><stop offset="58.3%" stop-color="#154989"/><stop offset="66.7%" stop-color="#154e91"/><stop offset="75%" stop-color="#14559d"/><stop offset="83.3%" stop-color="#1b5ea3"/><stop offset="91.7%" stop-color="#2268ac"/><stop offset="100%" stop-color="#2b74b4"/></linearGradient><linearGradient id="hg8" x1="0" y1="0" x2="0" y2="1"><stop offset="0%" stop-color="#185ba1"/><stop offset="8.3%" stop-color="#155196"/><stop offset="16.7%" stop-color="#154989"/><stop offset="25%" stop-color="#16427f"/><stop offset="33.3%" stop-color="#163e79"/><stop offset="41.7%" stop-color="#163b75"/><stop offset="50%" stop-color="#163d77"/><stop offset="58.3%" stop-color="#16407c"/><stop offset="66.7%" stop-color="#154685"/><stop offset="75%" stop-color="#154e91"/><stop offset="83.3%" stop-color="#16579e"/><stop offset="91.7%" stop-color="#1d61a6"/><stop offset="100%" stop-color="#266eb0"/></linearGradient><linearGradient id="hg9" x1="0" y1="0" x2="0" y2="1"><stop offset="0%" stop-color="#16589f"/><stop offset="8.3%" stop-color="#154f92"/><stop offset="16.7%" stop-color="#154685"/><stop offset="25%" stop-color="#163f7b"/><stop offset="33.3%" stop-color="#163a73"/><stop offset="41.7%" stop-color="#163a73"/><stop offset="50%" stop-color="#163a73"/><stop offset="58.3%" stop-color="#163e79"/><stop offset="66.7%" stop-color="#154381"/><stop offset="75%" stop-color="#154c8e"/><stop offset="83.3%" stop-color="#14559d"/><stop offset="91.7%" stop-color="#1c60a5"/><stop offset="100%" stop-color="#256cae"/></linearGradient><linearGradient id="hg10" x1="0" y1="0" x2="0" y2="1"><stop offset="0%" stop-color="#185ba1"/><stop offset="8.3%" stop-color="#155196"/><stop offset="16.7%" stop-color="#154989"/><stop offset="25%" stop-color="#164380"/><stop offset="33.3%" stop-color="#163e79"/><stop offset="41.7%" stop-color="#163c76"/><stop offset="50%" stop-color="#163d77"/><stop offset="58.3%" stop-color="#16417e"/><stop offset="66.7%" stop-color="#154787"/><stop offset="75%" stop-color="#154f92"/><stop offset="83.3%" stop-color="#16589f"/><stop offset="91.7%" stop-color="#1e62a7"/><stop offset="100%" stop-color="#266eb0"/></linearGradient><linearGradient id="hg11" x1="0" y1="0" x2="0" y2="1"><stop offset="0%" stop-color="#1d61a6"/><stop offset="8.3%" stop-color="#16589f"/><stop offset="16.7%" stop-color="#155196"/><stop offset="25%" stop-color="#154b8d"/><stop offset="33.3%" stop-color="#154787"/><stop offset="41.7%" stop-color="#154584"/><stop offset="50%" stop-color="#154685"/><stop offset="58.3%" stop-color="#15498a"/><stop offset="66.7%" stop-color="#154f92"/><stop offset="75%" stop-color="#14559d"/><stop offset="83.3%" stop-color="#1b5fa4"/><stop offset="91.7%" stop-color="#2268ac"/><stop offset="100%" stop-color="#2b74b4"/></linearGradient><linearGradient id="hg12" x1="0" y1="0" x2="0" y2="1"><stop offset="0%" stop-color="#256cae"/><stop offset="8.3%" stop-color="#1e63a8"/><stop offset="16.7%" stop-color="#195ca2"/><stop offset="25%" stop-color="#16579e"/><stop offset="33.3%" stop-color="#14549a"/><stop offset="41.7%" stop-color="#145297"/><stop offset="50%" stop-color="#145399"/><stop offset="58.3%" stop-color="#15569d"/><stop offset="66.7%" stop-color="#185ba1"/><stop offset="75%" stop-color="#1d61a6"/><stop offset="83.3%" stop-color="#2369ac"/><stop offset="91.7%" stop-color="#2b73b4"/><stop offset="100%" stop-color="#367fba"/></linearGradient><linearGradient id="hg13" x1="0" y1="0" x2="0" y2="1"><stop offset="0%" stop-color="#327bb8"/><stop offset="8.3%" stop-color="#2a72b3"/><stop offset="16.7%" stop-color="#256cae"/><stop offset="25%" stop-color="#2167aa"/><stop offset="33.3%" stop-color="#1e63a8"/><stop offset="41.7%" stop-color="#1e62a7"/><stop offset="50%" stop-color="#1e63a8"/><stop offset="58.3%" stop-color="#2066aa"/><stop offset="66.7%" stop-color="#246aad"/><stop offset="75%" stop-color="#2870b2"/><stop offset="83.3%" stop-color="#3078b6"/><stop offset="91.7%" stop-color="#3982bb"/><stop offset="100%" stop-color="#448dc1"/></linearGradient><linearGradient id="hg14" x1="0" y1="0" x2="0" y2="1"><stop offset="0%" stop-color="#448dc1"/><stop offset="8.3%" stop-color="#3c85bd"/><stop offset="16.7%" stop-color="#357eb9"/><stop offset="25%" stop-color="#3179b7"/><stop offset="33.3%" stop-color="#2e77b6"/><stop offset="41.7%" stop-color="#2d76b5"/><stop offset="50%" stop-color="#2d76b5"/><stop offset="58.3%" stop-color="#3078b6"/><stop offset="66.7%" stop-color="#347db9"/><stop offset="75%" stop-color="#3a83bc"/><stop offset="83.3%" stop-color="#418ac0"/><stop offset="91.7%" stop-color="#4b93c5"/><stop offset="100%" stop-color="#599dcb"/></linearGradient><linearGradient id="hg15" x1="0" y1="0" x2="0" y2="1"><stop offset="0%" stop-color="#5ea0cd"/><stop offset="8.3%" stop-color="#549ac9"/><stop offset="16.7%" stop-color="#4c94c5"/><stop offset="25%" stop-color="#4790c3"/><stop offset="33.3%" stop-color="#448dc1"/><stop offset="41.7%" stop-color="#438cc1"/><stop offset="50%" stop-color="#448dc1"/><stop offset="58.3%" stop-color="#458fc2"/><stop offset="66.7%" stop-color="#4a92c4"/><stop offset="75%" stop-color="#5298c8"/><stop offset="83.3%" stop-color="#5a9ecb"/><stop offset="91.7%" stop-color="#66a6d0"/><stop offset="100%" stop-color="#75afd4"/></linearGradient><linearGradient id="hg16" x1="0" y1="0" x2="0" y2="1"><stop offset="0%" stop-color="#81b6d7"/><stop offset="8.3%" stop-color="#75afd4"/><stop offset="16.7%" stop-color="#6ba9d2"/><stop offset="25%" stop-color="#66a6d0"/><stop offset="33.3%" stop-color="#62a4ce"/><stop offset="41.7%" stop-color="#61a3ce"/><stop offset="50%" stop-color="#61a3ce"/><stop offset="58.3%" stop-color="#65a5cf"/><stop offset="66.7%" stop-color="#6aa9d1"/><stop offset="75%" stop-color="#72aed4"/><stop offset="83.3%" stop-color="#7db4d6"/><stop offset="91.7%" stop-color="#8abcd9"/><stop offset="100%" stop-color="#9bc5dd"/></linearGradient><linearGradient id="hg17" x1="0" y1="0" x2="0" y2="1"><stop offset="0%" stop-color="#a9cbe2"/><stop offset="8.3%" stop-color="#9fc7df"/><stop offset="16.7%" stop-color="#97c3dc"/><stop offset="25%" stop-color="#90bfdb"/><stop offset="33.3%" stop-color="#8cbcda"/><stop offset="41.7%" stop-color="#8abcd9"/><stop offset="50%" stop-color="#8cbcda"/><stop offset="58.3%" stop-color="#8fbeda"/><stop offset="66.7%" stop-color="#95c2dc"/><stop offset="75%" stop-color="#9cc6de"/><stop offset="83.3%" stop-color="#a5c9e1"/><stop offset="91.7%" stop-color="#b0cfe5"/><stop offset="100%" stop-color="#bdd4ea"/></linearGradient><linearGradient id="hg18" x1="0" y1="0" x2="0" y2="1"><stop offset="0%" stop-color="#caddef"/><stop offset="8.3%" stop-color="#c4d8ed"/><stop offset="16.7%" stop-color="#bfd5eb"/><stop offset="25%" stop-color="#b9d3e8"/><stop offset="33.3%" stop-color="#b6d1e7"/><stop offset="41.7%" stop-color="#b5d1e7"/><stop offset="50%" stop-color="#b5d1e7"/><stop offset="58.3%" stop-color="#b8d2e8"/><stop offset="66.7%" stop-color="#bdd4ea"/><stop offset="75%" stop-color="#c3d7ec"/><stop offset="83.3%" stop-color="#c8dbee"/><stop offset="91.7%" stop-color="#cedff0"/><stop offset="100%" stop-color="#d6e5f3"/></linearGradient><linearGradient id="hg19" x1="0" y1="0" x2="0" y2="1"><stop offset="0%" stop-color="#e5eff9"/><stop offset="8.3%" stop-color="#dfebf6"/><stop offset="16.7%" stop-color="#dbe8f5"/><stop offset="25%" stop-color="#d7e6f4"/><stop offset="33.3%" stop-color="#d5e4f3"/><stop offset="41.7%" stop-color="#d4e3f3"/><stop offset="50%" stop-color="#d5e4f3"/><stop offset="58.3%" stop-color="#d6e5f3"/><stop offset="66.7%" stop-color="#d9e7f4"/><stop offset="75%" stop-color="#deeaf6"/><stop offset="83.3%" stop-color="#e3eef8"/><stop offset="91.7%" stop-color="#eaf2fa"/><stop offset="100%" stop-color="#f3f8fd"/></linearGradient><clipPath id="hclip"><rect x="267.4" y="381.8" width="157.60000000000002" height="144.7"/></clipPath></defs>
<rect x="267.4" y="381.8" width="8.7" height="144.7" fill="url(#hg0)"/><rect x="275.3" y="381.8" width="8.7" height="144.7" fill="url(#hg1)"/><rect x="283.2" y="381.8" width="8.7" height="144.7" fill="url(#hg2)"/><rect x="291" y="381.8" width="8.7" height="144.7" fill="url(#hg3)"/><rect x="298.9" y="381.8" width="8.7" height="144.7" fill="url(#hg4)"/><rect x="306.8" y="381.8" width="8.7" height="144.7" fill="url(#hg5)"/><rect x="314.7" y="381.8" width="8.7" height="144.7" fill="url(#hg6)"/><rect x="322.6" y="381.8" width="8.7" height="144.7" fill="url(#hg7)"/><rect x="330.4" y="381.8" width="8.7" height="144.7" fill="url(#hg8)"/><rect x="338.3" y="381.8" width="8.7" height="144.7" fill="url(#hg9)"/><rect x="346.2" y="381.8" width="8.7" height="144.7" fill="url(#hg10)"/><rect x="354.1" y="381.8" width="8.7" height="144.7" fill="url(#hg11)"/><rect x="362" y="381.8" width="8.7" height="144.7" fill="url(#hg12)"/><rect x="369.8" y="381.8" width="8.7" height="144.7" fill="url(#hg13)"/><rect x="377.7" y="381.8" width="8.7" height="144.7" fill="url(#hg14)"/><rect x="385.6" y="381.8" width="8.7" height="144.7" fill="url(#hg15)"/><rect x="393.5" y="381.8" width="8.7" height="144.7" fill="url(#hg16)"/><rect x="401.4" y="381.8" width="8.7" height="144.7" fill="url(#hg17)"/><rect x="409.2" y="381.8" width="8.7" height="144.7" fill="url(#hg18)"/><rect x="417.1" y="381.8" width="7.9" height="144.7" fill="url(#hg19)"/>
<g clip-path="url(#hclip)" fill="none">
<ellipse cx="342" cy="444" rx="5.2" ry="9.2" stroke="#eee22a" stroke-width="1.6" stroke-opacity="1"/>
<ellipse cx="342" cy="444" rx="18.8" ry="31.6" stroke="#eee22a" stroke-width="1.1" stroke-opacity="1"/>
<ellipse cx="342" cy="444" rx="27" ry="47.2" stroke="#eee22a" stroke-width="1.0" stroke-opacity="1"/>
<ellipse cx="342" cy="444" rx="36.4" ry="64" stroke="#d8d040" stroke-width="0.55" stroke-opacity="0.8"/>
<ellipse cx="341" cy="444" rx="38.5" ry="68" stroke="#d8d040" stroke-width="0.5" stroke-opacity="0.7"/>
<ellipse cx="343" cy="444" rx="42" ry="74" stroke="#d8d040" stroke-width="0.5" stroke-opacity="0.7"/>
<ellipse cx="342" cy="444" rx="46" ry="84" stroke="#d8d040" stroke-width="0.5" stroke-opacity="0.7"/>
<ellipse cx="340" cy="444" rx="49.5" ry="92" stroke="#d8d040" stroke-width="0.55" stroke-opacity="0.8"/>
<ellipse cx="344" cy="444" rx="58" ry="106" stroke="#d8d040" stroke-width="0.55" stroke-opacity="0.8"/>
<ellipse cx="339" cy="444" rx="61" ry="112" stroke="#d8d040" stroke-width="0.55" stroke-opacity="0.8"/>
<ellipse cx="345" cy="444" rx="66" ry="122" stroke="#d8d040" stroke-width="0.55" stroke-opacity="0.8"/>
<ellipse cx="337" cy="444" rx="73" ry="135" stroke="#d8d040" stroke-width="0.55" stroke-opacity="0.85"/>
<ellipse cx="347" cy="444" rx="80" ry="150" stroke="#d8d040" stroke-width="0.55" stroke-opacity="0.85"/>
</g>
<path d="M337.2,398.2L333.2,401.1L332.5,396.8Z" fill="#f2e628"/>
<path d="M337.1,413.9L333.4,417.2L332.3,412.9Z" fill="#f2e628"/>
<path d="M337.5,453.5L337.8,448.6L341.6,450.8Z" fill="#f2e628"/>
<path d="M336.9,507L341.3,504.8L341.3,509.2Z" fill="#f2e628"/>
<path d="M350.1,506.6L354.8,505.2L354.1,509.5Z" fill="#f2e628"/>
<path d="M269.1,458.2L271.3,462.6L266.9,462.6Z" fill="#f2e628"/>
<path d="M282,463.1L284.2,467.5L279.8,467.5Z" fill="#f2e628"/>
<path d="M291.6,462.3L293.8,466.7L289.4,466.7Z" fill="#f2e628"/>
<path d="M299.7,477.4L301.1,482.1L296.8,481.4Z" fill="#f2e628"/>
<path d="M269.1,517.2L271.3,521.6L266.9,521.6Z" fill="#f2e628"/>
<path d="M384.6,478.5L383.2,473.8L387.5,474.5Z" fill="#f2e628"/>
<path d="M388.2,470.2L386.8,465.5L391.1,466.2Z" fill="#f2e628"/>
<path d="M400.4,458.5L398.2,454.1L402.6,454.1Z" fill="#f2e628"/>
<path d="M407.6,462.6L405.8,458L410.2,458.4Z" fill="#f2e628"/>
<path d="M421.5,451.6L419.3,447.2L423.7,447.2Z" fill="#f2e628"/>
<path d="M423.5,516.1L421.7,511.5L426.1,511.9Z" fill="#f2e628"/>
<rect x="267.4" y="381.8" width="157.60000000000002" height="144.7" fill="none" stroke="#999" stroke-width="0.6"/>
<line x1="264.9" y1="387.1" x2="267.4" y2="387.1" stroke="#555" stroke-width="0.6"/>
<text x="264.6" y="389.5" font-size="8.9" text-anchor="end">77.8</text>
<line x1="264.9" y1="415.8" x2="267.4" y2="415.8" stroke="#555" stroke-width="0.6"/>
<text x="264.6" y="418.2" font-size="8.9" text-anchor="end">41.8</text>
<line x1="264.9" y1="444.9" x2="267.4" y2="444.9" stroke="#555" stroke-width="0.6"/>
<text x="264.6" y="447.3" font-size="8.9" text-anchor="end">5.8</text>
<line x1="264.9" y1="474" x2="267.4" y2="474" stroke="#555" stroke-width="0.6"/>
<text x="264.6" y="476.4" font-size="8.9" text-anchor="end">-30.2</text>
<line x1="264.9" y1="502.8" x2="267.4" y2="502.8" stroke="#555" stroke-width="0.6"/>
<text x="264.6" y="505.2" font-size="8.9" text-anchor="end">-66.2</text>
<line x1="284.2" y1="526.5" x2="284.2" y2="529" stroke="#555" stroke-width="0.6"/>
<text x="278.4" y="537.4" font-size="8.9" text-anchor="middle">-14.3</text>
<line x1="342.8" y1="526.5" x2="342.8" y2="529" stroke="#555" stroke-width="0.6"/>
<text x="344" y="537.4" font-size="8.9" text-anchor="middle">19.0</text>
<line x1="401.9" y1="526.5" x2="401.9" y2="529" stroke="#555" stroke-width="0.6"/>
<text x="411.9" y="537.4" font-size="8.9" text-anchor="middle">52.3</text>
<text x="237.3" y="457.8" font-size="8.9" text-anchor="middle" transform="rotate(-90 237.3 454.6)">θ (degree)</text>
<text x="349.3" y="551" font-size="8.9" text-anchor="middle">x (nm)</text>
<linearGradient id="hcb" x1="0" y1="0" x2="0" y2="1"><stop offset="0%" stop-color="#f7fbff"/><stop offset="4.3%" stop-color="#edf5fc"/><stop offset="8.7%" stop-color="#e4eef8"/><stop offset="13%" stop-color="#dbe8f5"/><stop offset="17.4%" stop-color="#d2e2f2"/><stop offset="21.7%" stop-color="#c9dcee"/><stop offset="26.1%" stop-color="#bfd5eb"/><stop offset="30.4%" stop-color="#b1cfe6"/><stop offset="34.8%" stop-color="#a2c8e0"/><stop offset="39.1%" stop-color="#94c1dc"/><stop offset="43.5%" stop-color="#83b7d8"/><stop offset="47.8%" stop-color="#72aed4"/><stop offset="52.2%" stop-color="#64a4cf"/><stop offset="56.5%" stop-color="#579bca"/><stop offset="60.9%" stop-color="#4a92c4"/><stop offset="65.2%" stop-color="#3f88bf"/><stop offset="69.6%" stop-color="#347db9"/><stop offset="73.9%" stop-color="#2b73b4"/><stop offset="78.3%" stop-color="#2369ac"/><stop offset="82.6%" stop-color="#1c60a5"/><stop offset="87%" stop-color="#15569d"/><stop offset="91.3%" stop-color="#154d90"/><stop offset="95.7%" stop-color="#154381"/><stop offset="100%" stop-color="#163a73"/></linearGradient>
<rect x="428.1" y="381.8" width="7.5" height="144.7" fill="url(#hcb)" stroke="#aaa" stroke-width="0.5"/>
<line x1="435.6" y1="393.4" x2="438" y2="393.4" stroke="#555" stroke-width="0.6"/>
<text x="441" y="396.6" font-size="8.9">2</text>
<line x1="435.6" y1="430.4" x2="438" y2="430.4" stroke="#555" stroke-width="0.6"/>
<text x="441" y="433.6" font-size="8.9">0</text>
<line x1="435.6" y1="467.4" x2="438" y2="467.4" stroke="#555" stroke-width="0.6"/>
<text x="441" y="470.6" font-size="8.9">-2</text>
<line x1="435.6" y1="504.4" x2="438" y2="504.4" stroke="#555" stroke-width="0.6"/>
<text x="441" y="507.6" font-size="8.9">-4</text>
<text x="466.5" y="378.5" font-size="18" font-weight="bold" fill="#000">i</text>
<defs><radialGradient id="sph" cx="0.5" cy="0.42" r="0.6" fx="0.52" fy="0.4">
<stop offset="0" stop-color="#f3f2f7"/><stop offset="0.45" stop-color="#d6d0e2"/><stop offset="1" stop-color="#a79cbd"/></radialGradient></defs>
<rect x="492.1" y="383.5" width="168.2" height="147.1" fill="none" stroke="#b0b0b0" stroke-width="0.8"/>
<path d="M497,383.5 C500,398 498,408 496,420 C495,428 494,433 493.4,437.6" fill="none" stroke="#eea02a" stroke-width="2"/>
<path d="M492.5,427.7 Q528.6,429.2 564.7,427.2" fill="none" stroke="#f2ec3a" stroke-width="2.2"/>
<path d="M564.7,387 C562,405 558,425 554.7,458" fill="none" stroke="#f2ec3a" stroke-width="1.5"/>
<line x1="492.5" y1="414" x2="564.7" y2="414" stroke="#f2ec3a" stroke-width="2.4"/>
<circle cx="522.3" cy="407.8" r="19.1" fill="url(#sph)"/>
<line x1="503.7" y1="414" x2="540.9" y2="414" stroke="#d8d070" stroke-width="2.6" stroke-opacity="0.55"/>
<line x1="509.6" y1="393.4" x2="534.9" y2="423.2" stroke="#111" stroke-width="0.9"/>
<path d="M503.2,421 l-1.5,3.5 l-2.5,0.5" fill="none" stroke="#b04030" stroke-width="0.5"/>
<circle cx="504.2" cy="419.5" r="2.7" fill="#ee2ed8" stroke="#8a2a8a" stroke-width="0.3"/><circle cx="508.5" cy="420.1" r="2.6" fill="#ee2ed8" stroke="#8a2a8a" stroke-width="0.3"/>
<line x1="535.5" y1="423.3" x2="535.9" y2="427.3" stroke="#30b030" stroke-width="0.6"/>
<circle cx="535.5" cy="422.3" r="2.6" fill="#e5661e" stroke="#7a2a08" stroke-width="0.4"/>
<line x1="538.9" y1="423.3" x2="539.3" y2="427.3" stroke="#30b030" stroke-width="0.6"/>
<circle cx="538.9" cy="421.5" r="2.6" fill="#e5661e" stroke="#7a2a08" stroke-width="0.4"/>
<line x1="542.3" y1="423.3" x2="542.7" y2="427.3" stroke="#30b030" stroke-width="0.6"/>
<circle cx="542.3" cy="422.3" r="2.6" fill="#e5661e" stroke="#7a2a08" stroke-width="0.4"/>
<line x1="545.7" y1="423.3" x2="546.1" y2="427.3" stroke="#30b030" stroke-width="0.6"/>
<circle cx="545.7" cy="421.5" r="2.6" fill="#e5661e" stroke="#7a2a08" stroke-width="0.4"/>
<path d="M593,383.5 C595,398 592,410 590.5,420 C589.5,428 588.5,433 587.6,437.6" fill="none" stroke="#eea02a" stroke-width="2"/>
<path d="M586.7,424 Q622.8,425.5 658.8,423.5" fill="none" stroke="#f2ec3a" stroke-width="2.2"/>
<path d="M658.8,383.5 C655,405 651,425 648,458" fill="none" stroke="#f2ec3a" stroke-width="1.5"/>
<line x1="586.7" y1="413.8" x2="658.8" y2="413.8" stroke="#f2ec3a" stroke-width="2.4"/>
<circle cx="631.4" cy="407.5" r="19.2" fill="url(#sph)"/>
<line x1="612.7" y1="413.8" x2="650.1" y2="413.8" stroke="#d8d070" stroke-width="2.6" stroke-opacity="0.55"/>
<line x1="629" y1="388.9" x2="633.6" y2="426.8" stroke="#111" stroke-width="0.9"/>
<path d="M613.5,421 l-1.5,3.5 l-2.5,0.5" fill="none" stroke="#b04030" stroke-width="0.5"/>
<circle cx="614.5" cy="419.5" r="2.7" fill="#ee2ed8" stroke="#8a2a8a" stroke-width="0.3"/><circle cx="618.8" cy="420.1" r="2.6" fill="#ee2ed8" stroke="#8a2a8a" stroke-width="0.3"/>
<line x1="642.5" y1="423.3" x2="642.9" y2="427.3" stroke="#30b030" stroke-width="0.6"/>
<circle cx="642.5" cy="422.3" r="2.6" fill="#e5661e" stroke="#7a2a08" stroke-width="0.4"/>
<line x1="645.9" y1="423.3" x2="646.3" y2="427.3" stroke="#30b030" stroke-width="0.6"/>
<circle cx="645.9" cy="421.5" r="2.6" fill="#e5661e" stroke="#7a2a08" stroke-width="0.4"/>
<line x1="649.3" y1="423.3" x2="649.7" y2="427.3" stroke="#30b030" stroke-width="0.6"/>
<circle cx="649.3" cy="422.3" r="2.6" fill="#e5661e" stroke="#7a2a08" stroke-width="0.4"/>
<line x1="652.7" y1="423.3" x2="653.1" y2="427.3" stroke="#30b030" stroke-width="0.6"/>
<circle cx="652.7" cy="421.5" r="2.6" fill="#e5661e" stroke="#7a2a08" stroke-width="0.4"/>
<path d="M498,468 C500,482 499,492 497,503 C496,510 495,515 494,520" fill="none" stroke="#eea02a" stroke-width="2"/>
<path d="M492.5,511 Q527.2,512.5 562,510.5" fill="none" stroke="#f2ec3a" stroke-width="2.2"/>
<path d="M563.5,471.5 C563,490 562,510 561,530.6" fill="none" stroke="#f2ec3a" stroke-width="1.5"/>
<line x1="492.5" y1="500.4" x2="562" y2="500.4" stroke="#f2ec3a" stroke-width="2.4"/>
<circle cx="529.7" cy="493.9" r="18.4" fill="url(#sph)"/>
<line x1="511.8" y1="500.4" x2="547.6" y2="500.4" stroke="#d8d070" stroke-width="2.6" stroke-opacity="0.55"/>
<line x1="511.3" y1="494.4" x2="548.1" y2="494.4" stroke="#111" stroke-width="0.9"/>
<path d="M511.5,507 l-1.5,3.5 l-2.5,0.5" fill="none" stroke="#b04030" stroke-width="0.5"/>
<circle cx="512.5" cy="505.5" r="2.7" fill="#ee2ed8" stroke="#8a2a8a" stroke-width="0.3"/><circle cx="516.8" cy="506.1" r="2.6" fill="#ee2ed8" stroke="#8a2a8a" stroke-width="0.3"/>
<line x1="542" y1="507.5" x2="542.4" y2="511.5" stroke="#30b030" stroke-width="0.6"/>
<circle cx="542" cy="506.5" r="2.6" fill="#e5661e" stroke="#7a2a08" stroke-width="0.4"/>
<line x1="545.4" y1="507.5" x2="545.8" y2="511.5" stroke="#30b030" stroke-width="0.6"/>
<circle cx="545.4" cy="505.7" r="2.6" fill="#e5661e" stroke="#7a2a08" stroke-width="0.4"/>
<line x1="548.8" y1="507.5" x2="549.2" y2="511.5" stroke="#30b030" stroke-width="0.6"/>
<circle cx="548.8" cy="506.5" r="2.6" fill="#e5661e" stroke="#7a2a08" stroke-width="0.4"/>
<line x1="552.2" y1="507.5" x2="552.6" y2="511.5" stroke="#30b030" stroke-width="0.6"/>
<circle cx="552.2" cy="505.7" r="2.6" fill="#e5661e" stroke="#7a2a08" stroke-width="0.4"/>
<path d="M591,466 C593,480 592,492 590.5,502 C589.8,508 589.2,512 588.5,516" fill="none" stroke="#eea02a" stroke-width="2"/>
<path d="M589.5,510.4 Q624.8,511.9 660,509.9" fill="none" stroke="#f2ec3a" stroke-width="2.2"/>
<path d="M660,466 C658.5,490 657,510 655.8,530.6" fill="none" stroke="#f2ec3a" stroke-width="1.5"/>
<line x1="589.5" y1="500" x2="660" y2="500" stroke="#f2ec3a" stroke-width="2.4"/>
<circle cx="632.9" cy="492.5" r="19" fill="url(#sph)"/>
<line x1="614.4" y1="500" x2="651.4" y2="500" stroke="#d8d070" stroke-width="2.6" stroke-opacity="0.55"/>
<line x1="619" y1="480.7" x2="646.6" y2="504.4" stroke="#111" stroke-width="0.9"/>
<path d="M613.5,503.5 l-1.5,3.5 l-2.5,0.5" fill="none" stroke="#b04030" stroke-width="0.5"/>
<circle cx="614.5" cy="502" r="2.7" fill="#ee2ed8" stroke="#8a2a8a" stroke-width="0.3"/><circle cx="618.8" cy="502.6" r="2.6" fill="#ee2ed8" stroke="#8a2a8a" stroke-width="0.3"/>
<line x1="644.5" y1="506.5" x2="644.9" y2="510.5" stroke="#30b030" stroke-width="0.6"/>
<circle cx="644.5" cy="505.5" r="2.6" fill="#e5661e" stroke="#7a2a08" stroke-width="0.4"/>
<line x1="647.9" y1="506.5" x2="648.3" y2="510.5" stroke="#30b030" stroke-width="0.6"/>
<circle cx="647.9" cy="504.7" r="2.6" fill="#e5661e" stroke="#7a2a08" stroke-width="0.4"/>
<line x1="651.3" y1="506.5" x2="651.7" y2="510.5" stroke="#30b030" stroke-width="0.6"/>
<circle cx="651.3" cy="505.5" r="2.6" fill="#e5661e" stroke="#7a2a08" stroke-width="0.4"/>
<line x1="654.7" y1="506.5" x2="655.1" y2="510.5" stroke="#30b030" stroke-width="0.6"/>
<circle cx="654.7" cy="504.7" r="2.6" fill="#e5661e" stroke="#7a2a08" stroke-width="0.4"/>
<line x1="543.9" y1="393" x2="574.7" y2="393" stroke="#111" stroke-width="1.1"/>
<path d="M579.5,393L573.5,390.4L573.5,395.6Z" fill="#111"/>
<line x1="591.4" y1="463.1" x2="555.4" y2="463.1" stroke="#111" stroke-width="1.2"/>
<path d="M550.2,463.1L556.7,460.3L556.7,465.9Z" fill="#111"/>
<line x1="501.5" y1="413.6" x2="496.4" y2="413.6" stroke="#ee2ed8" stroke-width="1.4"/>
<path d="M492.8,413.6L497.3,410.8L497.3,416.4Z" fill="#ee2ed8"/>
<line x1="541.2" y1="414.1" x2="552.4" y2="414.1" stroke="#e5661e" stroke-width="1.4"/>
<path d="M556,414.1L551.5,411.3L551.5,416.9Z" fill="#e5661e"/>
<line x1="608.5" y1="496.5" x2="599" y2="496.5" stroke="#ee2ed8" stroke-width="1.4"/>
<path d="M595.4,496.5L599.9,493.7L599.9,499.3Z" fill="#ee2ed8"/>
<line x1="650.5" y1="497.3" x2="656.4" y2="497.3" stroke="#e5661e" stroke-width="1.4"/>
<path d="M660,497.3L655.5,494.5L655.5,500.1Z" fill="#e5661e"/>
<line x1="557" y1="367.2" x2="537.2" y2="367.2" stroke="#ee2ed8" stroke-width="2.6"/>
<path d="M526.8,367.2L539.8,360.9L539.8,373.5Z" fill="#ee2ed8"/>
<line x1="617.3" y1="366.9" x2="637.3" y2="366.9" stroke="#e5661e" stroke-width="2.6"/>
<path d="M648.5,366.9L634.5,360.4L634.5,373.4Z" fill="#e5661e"/>
<path d="M626,457.5 C632,453 651,453.5 651,460.5 C651,467 638,468.5 629,467" fill="none" stroke="#8e1410" stroke-width="2.4"/>
<path d="M622.5,466.6 L630,462.6 L629.6,470.5 Z" fill="#b02818"/>
<text x="497" y="401.3" font-size="12" text-anchor="middle" font-weight="bold" fill="#000">1</text>
<text x="590.8" y="397.7" font-size="12" text-anchor="middle" font-weight="bold" fill="#000">2</text>
<text x="588.8" y="482.4" font-size="12" text-anchor="middle" font-weight="bold" fill="#000">3</text>
<text x="495.5" y="482.4" font-size="12" text-anchor="middle" font-weight="bold" fill="#000">4</text>
<circle cx="511.5" cy="364.5" r="3.6" fill="#7a1a7a"/><circle cx="515" cy="369.3" r="4.2" fill="#ee2ed8"/>
<path d="M513,373 L509,376 M509,376 l-3,1.5" stroke="#2a8a4a" stroke-width="0.8" fill="none"/>
<ellipse cx="505.5" cy="377.5" rx="2.5" ry="1.3" fill="#d86a2a"/><ellipse cx="510.5" cy="377.3" rx="1.8" ry="1.1" fill="#d86a2a"/>
<text x="520.8" y="380.2" font-size="8.6" fill="#222" letter-spacing="0.35">+ ended motor</text>
<circle cx="599.3" cy="368.1" r="4.6" fill="#e5661e" stroke="#7a2a10" stroke-width="0.4"/>
<path d="M596.5,361 L598.5,364 M596.5,366 L601,370" stroke="#4a1a10" stroke-width="0.6"/>
<path d="M600.5,372.7 L601,376.5" stroke="#30a030" stroke-width="0.9"/><circle cx="601.2" cy="377" r="1.2" fill="#30b030"/>
<text x="605.6" y="379.7" font-size="8.6" fill="#222" letter-spacing="0.35">- ended motor</text>
</svg></body></html>
